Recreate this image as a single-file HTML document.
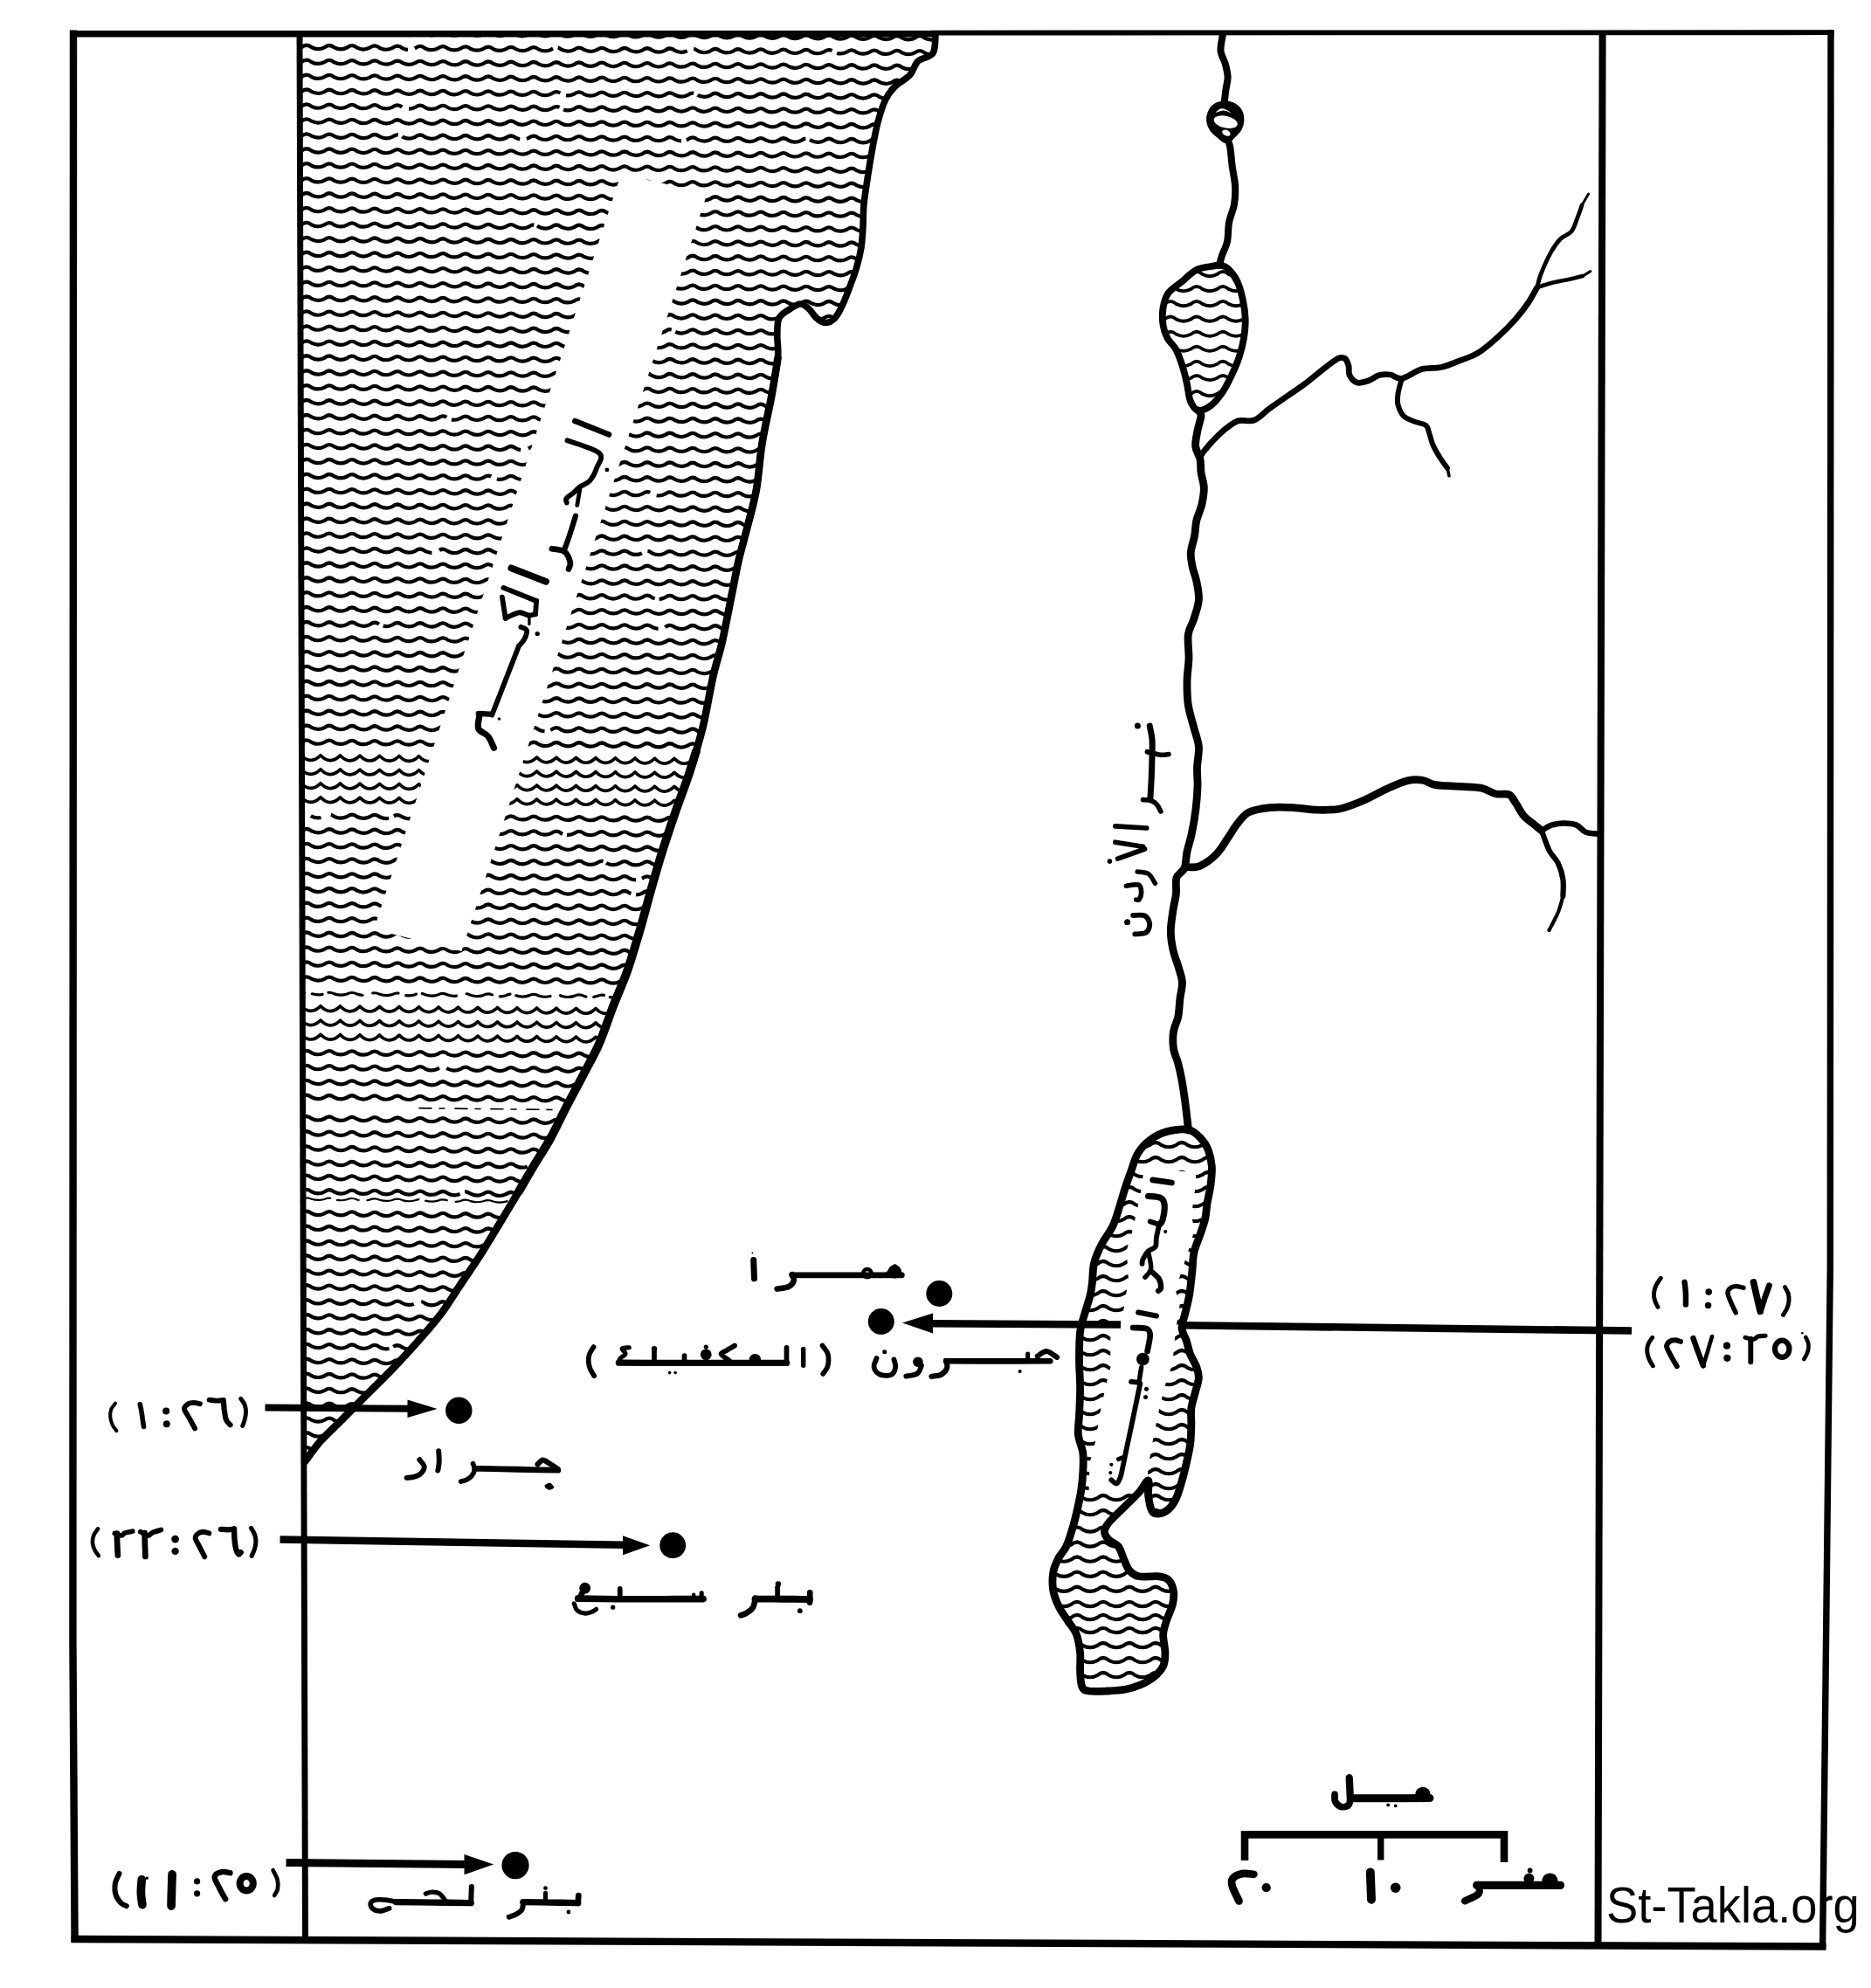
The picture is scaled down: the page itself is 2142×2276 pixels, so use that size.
<!DOCTYPE html><html><head><meta charset="utf-8"><title>map</title>
<style>html,body{margin:0;padding:0;background:#fff}body{width:2142px;height:2276px;overflow:hidden;position:relative;font-family:"Liberation Sans",sans-serif}svg{position:absolute;left:0;top:0;display:block}.wm{position:absolute;left:1838.5px;top:2153.2px;font-size:57px;line-height:1;color:#000;white-space:nowrap;letter-spacing:0px;transform:scaleX(0.953);transform-origin:0 0}</style>
</head><body>
<svg width="2142" height="2276" viewBox="0 0 2142 2276" fill="none" stroke="#000" stroke-linecap="round" stroke-linejoin="round">
<defs>
<clipPath id="csea"><path d="M1071 40C1070.5 43.5 1071.3 56 1068 61C1064.7 66 1055.4 65.8 1051 70C1046.6 74.2 1046 81.2 1041.6 86C1037.2 90.8 1029.1 94.3 1024.5 99C1019.9 103.7 1017 107.2 1013.8 114C1010.5 120.8 1007.5 130.7 1005 140C1002.5 149.3 1000.7 159.7 998.8 170C996.9 180.3 995.1 191.3 993.5 202C991.9 212.7 989.9 224.5 989 234C988.1 243.5 988.5 250.8 988 259C987.5 267.2 987.2 275.1 986 283C984.8 290.9 982.8 299 980.6 306.5C978.4 314 975.7 320.9 973 328C970.3 335.1 967.4 343 964.6 349C961.8 355 959.2 360.6 956 364C952.8 367.4 948.9 369.5 945.4 369.5C941.9 369.5 937.9 366.7 934.7 364C931.5 361.3 929 356.2 926 353.5C923 350.8 920 348 916.5 348C913 348 908.9 350.8 904.8 353.5C900.7 356.2 894.5 359 892 364C889.5 369 890 375.7 889.8 383.4C889.5 391.1 891.6 398.3 890.5 410C889.4 421.7 886.3 437.2 883.3 453.4C880.3 469.6 875.5 489.2 872.6 507C869.7 524.8 868.7 544.5 866 560C863.3 575.5 859.9 586.6 856.5 600C853.1 613.4 849 627.1 845.9 640.5C842.8 653.9 840.9 665 837.8 680.6C834.6 696.2 830.5 718.4 827 734C823.5 749.6 820 758.4 816.5 774C813 789.6 809 813.3 805.8 827.6C802.5 841.9 800 849.6 797 860C794 870.4 791.3 878.8 787.5 890C783.7 901.2 778.9 913.2 774 927.5C769.1 941.8 762.9 960 758 975.6C753.1 991.2 749.1 1005.4 744.7 1021C740.3 1036.6 735.9 1053.8 731.4 1069C726.9 1084.2 722.9 1098.2 718 1112C713.1 1125.8 707.3 1138.2 702 1152C696.7 1165.8 691.8 1181.4 686 1194.7C680.2 1208 673.2 1220 667 1232C660.8 1244 654.7 1255 648.5 1267C642.3 1279 635.8 1293.2 629.8 1304C623.8 1314.8 618.7 1322 612.7 1332C606.7 1342 601.1 1352 594 1364C586.9 1376 577.6 1391.5 570 1404C562.4 1416.5 555.7 1427.8 548.5 1439C541.3 1450.2 534.1 1460.3 527 1471C519.9 1481.7 513.8 1492.3 505.8 1503C497.8 1513.7 488.4 1524.3 479 1535C469.6 1545.7 459.4 1556.7 449.6 1567C439.8 1577.3 429.8 1586.8 420 1596.6C410.2 1606.4 399.8 1617.1 390.9 1626C382 1634.9 373.7 1642.2 366.8 1650C359.9 1657.8 352.3 1669 349.4 1672.8L346 1680L340 36Z"/></clipPath>
<clipPath id="cgal"><path d="M1389 304.6C1384.4 305.5 1375.8 305.9 1369.7 308.9C1363.6 311.9 1358 318.4 1352.6 322.8C1347.2 327.2 1341 330.6 1337.5 335.6C1334 340.6 1332.5 346.6 1331.5 352.7C1330.5 358.8 1330.7 366.3 1331.5 372C1332.3 377.7 1334 382.4 1336.4 387C1338.8 391.6 1343.1 394.4 1346 399.7C1348.9 405 1351.5 412.3 1353.7 419C1355.9 425.7 1357.5 433.2 1359 440C1360.5 446.8 1360.8 454.6 1363 459.6C1365.2 464.6 1367.9 469.3 1371.9 470C1375.9 470.7 1382.2 467.4 1386.8 463.9C1391.4 460.4 1395.8 454.6 1399.7 448.9C1403.6 443.2 1406.8 436.5 1410 429.7C1413.2 422.9 1416.6 415.1 1418.9 408C1421.2 400.9 1422.9 394.1 1424 387C1425.1 379.9 1425.9 372.7 1425.7 365.5C1425.5 358.3 1424.5 351.1 1423 344C1421.5 336.9 1419.6 328.8 1416.8 322.8C1414 316.8 1409.2 311 1406 307.8C1402.8 304.6 1400.3 304 1397.5 303.5C1394.7 303 1393.6 303.7 1389 304.6Z"/></clipPath>
<clipPath id="cdead"><path d="M1360.6 1293.5C1354.2 1292.3 1343.3 1293.7 1336 1295.6C1328.7 1297.5 1322.3 1300.9 1316.8 1305C1311.3 1309.1 1306.5 1314.3 1302.9 1320C1299.3 1325.7 1297.9 1332.6 1295.4 1339.4C1292.9 1346.2 1290.2 1353.7 1287.9 1360.8C1285.6 1367.9 1283.8 1374.9 1281.5 1382C1279.2 1389.1 1277.4 1396.4 1274 1403.6C1270.6 1410.8 1264.6 1417.9 1261 1425C1257.4 1432.1 1254.3 1438.9 1252.6 1446C1250.8 1453.1 1251.2 1461.7 1250.5 1467.7C1249.8 1473.7 1249.7 1476 1248.3 1482C1246.9 1488 1244 1496.3 1242 1503.4C1240 1510.5 1237.7 1515.9 1236.6 1524.8C1235.5 1533.7 1235.5 1546.3 1235.5 1557C1235.5 1567.7 1236.6 1578.3 1236.6 1589C1236.6 1599.7 1235.9 1612.1 1235.5 1621C1235.1 1629.9 1233.7 1635.3 1234.4 1642.4C1235.1 1649.5 1238.9 1656.7 1239.8 1663.8C1240.7 1670.9 1240.1 1677.9 1239.8 1685C1239.5 1692.1 1238.8 1699.3 1237.7 1706.5C1236.6 1713.7 1235 1720.9 1233.4 1728C1231.8 1735.1 1230.1 1742.2 1228 1749.3C1225.9 1756.4 1223.3 1765 1220.6 1770.7C1217.9 1776.4 1214.4 1778.8 1212 1783.5C1209.6 1788.2 1207.1 1792.9 1206 1799C1204.9 1805.1 1204.6 1813.3 1205.6 1820C1206.6 1826.7 1209.2 1833 1212 1839C1214.8 1845 1219.3 1850.7 1222.7 1856C1226.1 1861.3 1230 1864.9 1232.3 1871C1234.6 1877.1 1235.9 1885.3 1236.6 1892.4C1237.3 1899.5 1236.2 1907.4 1236.6 1913.8C1236.9 1920.2 1237.1 1927.2 1238.7 1930.9C1240.3 1934.6 1241.4 1935.2 1246.2 1936C1251 1936.8 1260.5 1936.3 1267.6 1936C1274.7 1935.7 1282.6 1935.2 1289 1934C1295.4 1932.8 1300.7 1931.1 1306 1928.8C1311.3 1926.5 1316.7 1923.6 1321 1920C1325.3 1916.4 1329.5 1912 1331.7 1907.4C1333.9 1902.8 1333.9 1898.5 1333.9 1892.4C1333.9 1886.3 1331.4 1877.4 1331.7 1871C1332 1864.6 1334.2 1859.7 1336 1854C1337.8 1848.3 1341.2 1842.1 1342.4 1836.8C1343.7 1831.5 1344.2 1826.5 1343.5 1821.9C1342.8 1817.3 1340.7 1811.8 1338 1809C1335.3 1806.2 1333.1 1805.5 1327.4 1804.8C1321.7 1804.1 1309.6 1805.9 1303.9 1804.8C1298.2 1803.7 1295.8 1801.2 1293 1798C1290.2 1794.8 1288.9 1790.1 1286.8 1785.5C1284.7 1780.9 1283.2 1774.2 1280.4 1770.5C1277.6 1766.8 1272.4 1765.8 1269.7 1763C1267 1760.2 1264.4 1756.8 1264.4 1753.4C1264.4 1750 1266 1747.4 1269.7 1742.8C1273.4 1738.2 1281.1 1731.4 1286.8 1725.7C1292.5 1720 1299.3 1713.7 1303.9 1708.6C1308.5 1703.5 1312.7 1694.4 1314.5 1695C1316.3 1695.6 1313.9 1706.2 1314.6 1712C1315.3 1717.8 1316.8 1726.5 1318.9 1730C1321 1733.5 1324.2 1733.4 1327.4 1733C1330.6 1732.6 1334.8 1730.8 1338 1727.8C1341.2 1724.8 1344.2 1720.3 1346.7 1715C1349.2 1709.7 1351 1702.7 1353 1695.9C1355 1689.2 1356.8 1681.7 1358.4 1674.5C1360 1667.3 1361.8 1660.1 1362.7 1653C1363.6 1645.9 1363.6 1638.5 1363.8 1631.7C1364 1625 1363.1 1618.5 1363.8 1612.5C1364.5 1606.5 1366.6 1601.2 1368 1595.4C1369.4 1589.7 1372 1583 1372.3 1578C1372.6 1573 1371.6 1570 1370 1565.4C1368.4 1560.8 1364.6 1555.5 1362.7 1550.5C1360.8 1545.5 1360 1540.5 1358.4 1535.5C1356.8 1530.5 1353.3 1525.5 1353 1520.5C1352.7 1515.5 1354.8 1512 1356.3 1505.6C1357.8 1499.2 1360.3 1490.4 1361.7 1482C1363.1 1473.6 1364 1463.1 1364.9 1455C1365.8 1446.9 1365.4 1440.7 1367 1433.5C1368.6 1426.3 1372.4 1418.4 1374.5 1412C1376.6 1405.6 1378.5 1400.7 1379.8 1395C1381 1389.3 1381 1384.4 1382 1378C1383 1371.6 1385.1 1363.7 1386 1356.5C1386.9 1349.3 1387.8 1341.8 1387.3 1335C1386.8 1328.2 1385.1 1321.3 1383 1316C1380.9 1310.7 1378.2 1306.8 1374.5 1303C1370.8 1299.2 1367 1294.7 1360.6 1293.5Z"/></clipPath>
</defs>
<g clip-path="url(#csea)" stroke-width="4.2">
<path d="M319.3 37.4q5.7 -4.7 11.4 0q7.3 3.7 14.6 0q5.7 -4.7 11.4 0q7.3 3.7 14.6 0q5.7 -4.7 11.4 0q7.3 3.7 14.6 0q5.7 -4.7 11.4 0q7.3 3.7 14.6 0q5.7 -4.7 11.4 0q7.3 3.7 14.6 0q5.7 -4.7 11.4 0q7.3 3.7 14.6 0q5.7 -4.7 11.4 0q7.3 3.7 14.6 0q5.7 -4.7 11.4 0q7.3 3.7 14.6 0q5.7 -4.7 11.4 0q7.3 3.7 14.6 0q5.7 -4.7 11.4 0q7.3 3.7 14.6 0q5.7 -4.7 11.4 0q7.3 3.7 14.6 0q5.7 -4.7 11.4 0q7.3 3.7 14.6 0q5.7 -4.7 11.4 0q7.3 3.7 14.6 0q5.7 -4.7 11.4 0q7.3 3.7 14.6 0q5.7 -4.7 11.4 0q7.3 3.7 14.6 0q5.7 -4.7 11.4 0q7.3 3.7 14.6 0q5.7 -4.7 11.4 0q7.3 3.7 14.6 0q5.7 -4.7 11.4 0q7.3 3.7 14.6 0q5.7 -4.7 11.4 0q7.3 3.7 14.6 0q5.7 -4.7 11.4 0q7.3 3.7 14.6 0q5.7 -4.7 11.4 0q7.3 3.7 14.6 0q5.7 -4.7 11.4 0q7.3 3.7 14.6 0q5.7 -4.7 11.4 0q7.3 3.7 14.6 0q5.7 -4.7 11.4 0q7.3 3.7 14.6 0q5.7 -4.7 11.4 0q7.3 3.7 14.6 0q5.7 -4.7 11.4 0q7.3 3.7 14.6 0q5.7 -4.7 11.4 0q7.3 3.7 14.6 0q5.7 -4.7 11.4 0q7.3 3.7 14.6 0q5.7 -4.7 11.4 0q7.3 3.7 14.6 0q5.7 -4.7 11.4 0q7.3 3.7 14.6 0q5.7 -4.7 11.4 0q7.3 3.7 14.6 0" transform="rotate(0.52 375 37.4)"/>
<path d="M319.3 54.3q5.7 -4.7 11.4 0q7.3 3.7 14.6 0q5.7 -4.7 11.4 0q7.3 3.7 14.6 0q5.7 -4.7 11.4 0q7.3 3.7 14.6 0q5.7 -4.7 11.4 0q7.3 3.7 14.6 0q5.7 -4.7 11.4 0q7.3 3.7 14.6 0q5.7 -4.7 11.4 0q7.3 3.7 14.6 0q5.7 -4.7 11.4 0q7.3 3.7 14.6 0q5.7 -4.7 11.4 0q7.3 3.7 14.6 0q5.7 -4.7 11.4 0q7.3 3.7 14.6 0q5.7 -4.7 11.4 0q7.3 3.7 14.6 0q5.7 -4.7 11.4 0q7.3 3.7 14.6 0q5.7 -4.7 11.4 0q7.3 3.7 14.6 0q5.7 -4.7 11.4 0q7.3 3.7 14.6 0q5.7 -4.7 11.4 0q7.3 3.7 14.6 0q5.7 -4.7 11.4 0q7.3 3.7 14.6 0q5.7 -4.7 11.4 0q7.3 3.7 14.6 0q5.7 -4.7 11.4 0q7.3 3.7 14.6 0q5.7 -4.7 11.4 0q7.3 3.7 14.6 0q5.7 -4.7 11.4 0q7.3 3.7 14.6 0q5.7 -4.7 11.4 0q7.3 3.7 14.6 0q5.7 -4.7 11.4 0q7.3 3.7 14.6 0q5.7 -4.7 11.4 0q7.3 3.7 14.6 0q5.7 -4.7 11.4 0q7.3 3.7 14.6 0q5.7 -4.7 11.4 0q7.3 3.7 14.6 0q5.7 -4.7 11.4 0q7.3 3.7 14.6 0q5.7 -4.7 11.4 0q7.3 3.7 14.6 0q5.7 -4.7 11.4 0q7.3 3.7 14.6 0q5.7 -4.7 11.4 0q7.3 3.7 14.6 0q5.7 -4.7 11.4 0q7.3 3.7 14.6 0q5.7 -4.7 11.4 0q7.3 3.7 14.6 0q5.7 -4.7 11.4 0q7.3 3.7 14.6 0" transform="rotate(0.52 375 54.3)" stroke-dasharray="157 8 168 6" stroke-linecap="butt"/>
<path d="M319.3 71.2q5.7 -4.7 11.4 0q7.3 3.7 14.6 0q5.7 -4.7 11.4 0q7.3 3.7 14.6 0q5.7 -4.7 11.4 0q7.3 3.7 14.6 0q5.7 -4.7 11.4 0q7.3 3.7 14.6 0q5.7 -4.7 11.4 0q7.3 3.7 14.6 0q5.7 -4.7 11.4 0q7.3 3.7 14.6 0q5.7 -4.7 11.4 0q7.3 3.7 14.6 0q5.7 -4.7 11.4 0q7.3 3.7 14.6 0q5.7 -4.7 11.4 0q7.3 3.7 14.6 0q5.7 -4.7 11.4 0q7.3 3.7 14.6 0q5.7 -4.7 11.4 0q7.3 3.7 14.6 0q5.7 -4.7 11.4 0q7.3 3.7 14.6 0q5.7 -4.7 11.4 0q7.3 3.7 14.6 0q5.7 -4.7 11.4 0q7.3 3.7 14.6 0q5.7 -4.7 11.4 0q7.3 3.7 14.6 0q5.7 -4.7 11.4 0q7.3 3.7 14.6 0q5.7 -4.7 11.4 0q7.3 3.7 14.6 0q5.7 -4.7 11.4 0q7.3 3.7 14.6 0q5.7 -4.7 11.4 0q7.3 3.7 14.6 0q5.7 -4.7 11.4 0q7.3 3.7 14.6 0q5.7 -4.7 11.4 0q7.3 3.7 14.6 0q5.7 -4.7 11.4 0q7.3 3.7 14.6 0q5.7 -4.7 11.4 0q7.3 3.7 14.6 0q5.7 -4.7 11.4 0q7.3 3.7 14.6 0q5.7 -4.7 11.4 0q7.3 3.7 14.6 0q5.7 -4.7 11.4 0q7.3 3.7 14.6 0q5.7 -4.7 11.4 0q7.3 3.7 14.6 0q5.7 -4.7 11.4 0q7.3 3.7 14.6 0q5.7 -4.7 11.4 0q7.3 3.7 14.6 0q5.7 -4.7 11.4 0q7.3 3.7 14.6 0" transform="rotate(0.52 375 71.2)"/>
<path d="M319.3 88.2q5.7 -4.7 11.4 0q7.3 3.7 14.6 0q5.7 -4.7 11.4 0q7.3 3.7 14.6 0q5.7 -4.7 11.4 0q7.3 3.7 14.6 0q5.7 -4.7 11.4 0q7.3 3.7 14.6 0q5.7 -4.7 11.4 0q7.3 3.7 14.6 0q5.7 -4.7 11.4 0q7.3 3.7 14.6 0q5.7 -4.7 11.4 0q7.3 3.7 14.6 0q5.7 -4.7 11.4 0q7.3 3.7 14.6 0q5.7 -4.7 11.4 0q7.3 3.7 14.6 0q5.7 -4.7 11.4 0q7.3 3.7 14.6 0q5.7 -4.7 11.4 0q7.3 3.7 14.6 0q5.7 -4.7 11.4 0q7.3 3.7 14.6 0q5.7 -4.7 11.4 0q7.3 3.7 14.6 0q5.7 -4.7 11.4 0q7.3 3.7 14.6 0q5.7 -4.7 11.4 0q7.3 3.7 14.6 0q5.7 -4.7 11.4 0q7.3 3.7 14.6 0q5.7 -4.7 11.4 0q7.3 3.7 14.6 0q5.7 -4.7 11.4 0q7.3 3.7 14.6 0q5.7 -4.7 11.4 0q7.3 3.7 14.6 0q5.7 -4.7 11.4 0q7.3 3.7 14.6 0q5.7 -4.7 11.4 0q7.3 3.7 14.6 0q5.7 -4.7 11.4 0q7.3 3.7 14.6 0q5.7 -4.7 11.4 0q7.3 3.7 14.6 0q5.7 -4.7 11.4 0q7.3 3.7 14.6 0q5.7 -4.7 11.4 0q7.3 3.7 14.6 0q5.7 -4.7 11.4 0q7.3 3.7 14.6 0q5.7 -4.7 11.4 0q7.3 3.7 14.6 0q5.7 -4.7 11.4 0q7.3 3.7 14.6 0q5.7 -4.7 11.4 0q7.3 3.7 14.6 0" transform="rotate(0.52 375 88.2)"/>
<path d="M319.3 105.1q5.7 -4.7 11.4 0q7.3 3.7 14.6 0q5.7 -4.7 11.4 0q7.3 3.7 14.6 0q5.7 -4.7 11.4 0q7.3 3.7 14.6 0q5.7 -4.7 11.4 0q7.3 3.7 14.6 0q5.7 -4.7 11.4 0q7.3 3.7 14.6 0q5.7 -4.7 11.4 0q7.3 3.7 14.6 0q5.7 -4.7 11.4 0q7.3 3.7 14.6 0q5.7 -4.7 11.4 0q7.3 3.7 14.6 0q5.7 -4.7 11.4 0q7.3 3.7 14.6 0q5.7 -4.7 11.4 0q7.3 3.7 14.6 0q5.7 -4.7 11.4 0q7.3 3.7 14.6 0q5.7 -4.7 11.4 0q7.3 3.7 14.6 0q5.7 -4.7 11.4 0q7.3 3.7 14.6 0q5.7 -4.7 11.4 0q7.3 3.7 14.6 0q5.7 -4.7 11.4 0q7.3 3.7 14.6 0q5.7 -4.7 11.4 0q7.3 3.7 14.6 0q5.7 -4.7 11.4 0q7.3 3.7 14.6 0q5.7 -4.7 11.4 0q7.3 3.7 14.6 0q5.7 -4.7 11.4 0q7.3 3.7 14.6 0q5.7 -4.7 11.4 0q7.3 3.7 14.6 0q5.7 -4.7 11.4 0q7.3 3.7 14.6 0q5.7 -4.7 11.4 0q7.3 3.7 14.6 0q5.7 -4.7 11.4 0q7.3 3.7 14.6 0q5.7 -4.7 11.4 0q7.3 3.7 14.6 0q5.7 -4.7 11.4 0q7.3 3.7 14.6 0q5.7 -4.7 11.4 0q7.3 3.7 14.6 0q5.7 -4.7 11.4 0q7.3 3.7 14.6 0q5.7 -4.7 11.4 0q7.3 3.7 14.6 0q5.7 -4.7 11.4 0q7.3 3.7 14.6 0" transform="rotate(0.52 375 105.1)" stroke-dasharray="342 7 155 5" stroke-linecap="butt"/>
<path d="M319.3 122q5.7 -4.7 11.4 0q7.3 3.7 14.6 0q5.7 -4.7 11.4 0q7.3 3.7 14.6 0q5.7 -4.7 11.4 0q7.3 3.7 14.6 0q5.7 -4.7 11.4 0q7.3 3.7 14.6 0q5.7 -4.7 11.4 0q7.3 3.7 14.6 0q5.7 -4.7 11.4 0q7.3 3.7 14.6 0q5.7 -4.7 11.4 0q7.3 3.7 14.6 0q5.7 -4.7 11.4 0q7.3 3.7 14.6 0q5.7 -4.7 11.4 0q7.3 3.7 14.6 0q5.7 -4.7 11.4 0q7.3 3.7 14.6 0q5.7 -4.7 11.4 0q7.3 3.7 14.6 0q5.7 -4.7 11.4 0q7.3 3.7 14.6 0q5.7 -4.7 11.4 0q7.3 3.7 14.6 0q5.7 -4.7 11.4 0q7.3 3.7 14.6 0q5.7 -4.7 11.4 0q7.3 3.7 14.6 0q5.7 -4.7 11.4 0q7.3 3.7 14.6 0q5.7 -4.7 11.4 0q7.3 3.7 14.6 0q5.7 -4.7 11.4 0q7.3 3.7 14.6 0q5.7 -4.7 11.4 0q7.3 3.7 14.6 0q5.7 -4.7 11.4 0q7.3 3.7 14.6 0q5.7 -4.7 11.4 0q7.3 3.7 14.6 0q5.7 -4.7 11.4 0q7.3 3.7 14.6 0q5.7 -4.7 11.4 0q7.3 3.7 14.6 0q5.7 -4.7 11.4 0q7.3 3.7 14.6 0q5.7 -4.7 11.4 0q7.3 3.7 14.6 0q5.7 -4.7 11.4 0q7.3 3.7 14.6 0q5.7 -4.7 11.4 0q7.3 3.7 14.6 0q5.7 -4.7 11.4 0q7.3 3.7 14.6 0" transform="rotate(0.52 375 122)" stroke-dasharray="150 8 183 5 442 9" stroke-linecap="butt"/>
<path d="M319.3 138.9q5.7 -4.7 11.4 0q7.3 3.7 14.6 0q5.7 -4.7 11.4 0q7.3 3.7 14.6 0q5.7 -4.7 11.4 0q7.3 3.7 14.6 0q5.7 -4.7 11.4 0q7.3 3.7 14.6 0q5.7 -4.7 11.4 0q7.3 3.7 14.6 0q5.7 -4.7 11.4 0q7.3 3.7 14.6 0q5.7 -4.7 11.4 0q7.3 3.7 14.6 0q5.7 -4.7 11.4 0q7.3 3.7 14.6 0q5.7 -4.7 11.4 0q7.3 3.7 14.6 0q5.7 -4.7 11.4 0q7.3 3.7 14.6 0q5.7 -4.7 11.4 0q7.3 3.7 14.6 0q5.7 -4.7 11.4 0q7.3 3.7 14.6 0q5.7 -4.7 11.4 0q7.3 3.7 14.6 0q5.7 -4.7 11.4 0q7.3 3.7 14.6 0q5.7 -4.7 11.4 0q7.3 3.7 14.6 0q5.7 -4.7 11.4 0q7.3 3.7 14.6 0q5.7 -4.7 11.4 0q7.3 3.7 14.6 0q5.7 -4.7 11.4 0q7.3 3.7 14.6 0q5.7 -4.7 11.4 0q7.3 3.7 14.6 0q5.7 -4.7 11.4 0q7.3 3.7 14.6 0q5.7 -4.7 11.4 0q7.3 3.7 14.6 0q5.7 -4.7 11.4 0q7.3 3.7 14.6 0q5.7 -4.7 11.4 0q7.3 3.7 14.6 0q5.7 -4.7 11.4 0q7.3 3.7 14.6 0q5.7 -4.7 11.4 0q7.3 3.7 14.6 0q5.7 -4.7 11.4 0q7.3 3.7 14.6 0q5.7 -4.7 11.4 0q7.3 3.7 14.6 0q5.7 -4.7 11.4 0q7.3 3.7 14.6 0" transform="rotate(0.52 375 138.9)"/>
<path d="M319.3 155.9q5.7 -4.7 11.4 0q7.3 3.7 14.6 0q5.7 -4.7 11.4 0q7.3 3.7 14.6 0q5.7 -4.7 11.4 0q7.3 3.7 14.6 0q5.7 -4.7 11.4 0q7.3 3.7 14.6 0q5.7 -4.7 11.4 0q7.3 3.7 14.6 0q5.7 -4.7 11.4 0q7.3 3.7 14.6 0q5.7 -4.7 11.4 0q7.3 3.7 14.6 0q5.7 -4.7 11.4 0q7.3 3.7 14.6 0q5.7 -4.7 11.4 0q7.3 3.7 14.6 0q5.7 -4.7 11.4 0q7.3 3.7 14.6 0q5.7 -4.7 11.4 0q7.3 3.7 14.6 0q5.7 -4.7 11.4 0q7.3 3.7 14.6 0q5.7 -4.7 11.4 0q7.3 3.7 14.6 0q5.7 -4.7 11.4 0q7.3 3.7 14.6 0q5.7 -4.7 11.4 0q7.3 3.7 14.6 0q5.7 -4.7 11.4 0q7.3 3.7 14.6 0q5.7 -4.7 11.4 0q7.3 3.7 14.6 0q5.7 -4.7 11.4 0q7.3 3.7 14.6 0q5.7 -4.7 11.4 0q7.3 3.7 14.6 0q5.7 -4.7 11.4 0q7.3 3.7 14.6 0q5.7 -4.7 11.4 0q7.3 3.7 14.6 0q5.7 -4.7 11.4 0q7.3 3.7 14.6 0q5.7 -4.7 11.4 0q7.3 3.7 14.6 0q5.7 -4.7 11.4 0q7.3 3.7 14.6 0q5.7 -4.7 11.4 0q7.3 3.7 14.6 0q5.7 -4.7 11.4 0q7.3 3.7 14.6 0q5.7 -4.7 11.4 0q7.3 3.7 14.6 0q5.7 -4.7 11.4 0q7.3 3.7 14.6 0" transform="rotate(0.52 375 155.9)" stroke-dasharray="145 5 143 8 188 6" stroke-linecap="butt"/>
<path d="M319.3 172.8q5.7 -4.7 11.4 0q7.3 3.7 14.6 0q5.7 -4.7 11.4 0q7.3 3.7 14.6 0q5.7 -4.7 11.4 0q7.3 3.7 14.6 0q5.7 -4.7 11.4 0q7.3 3.7 14.6 0q5.7 -4.7 11.4 0q7.3 3.7 14.6 0q5.7 -4.7 11.4 0q7.3 3.7 14.6 0q5.7 -4.7 11.4 0q7.3 3.7 14.6 0q5.7 -4.7 11.4 0q7.3 3.7 14.6 0q5.7 -4.7 11.4 0q7.3 3.7 14.6 0q5.7 -4.7 11.4 0q7.3 3.7 14.6 0q5.7 -4.7 11.4 0q7.3 3.7 14.6 0q5.7 -4.7 11.4 0q7.3 3.7 14.6 0q5.7 -4.7 11.4 0q7.3 3.7 14.6 0q5.7 -4.7 11.4 0q7.3 3.7 14.6 0q5.7 -4.7 11.4 0q7.3 3.7 14.6 0q5.7 -4.7 11.4 0q7.3 3.7 14.6 0q5.7 -4.7 11.4 0q7.3 3.7 14.6 0q5.7 -4.7 11.4 0q7.3 3.7 14.6 0q5.7 -4.7 11.4 0q7.3 3.7 14.6 0q5.7 -4.7 11.4 0q7.3 3.7 14.6 0q5.7 -4.7 11.4 0q7.3 3.7 14.6 0q5.7 -4.7 11.4 0q7.3 3.7 14.6 0q5.7 -4.7 11.4 0q7.3 3.7 14.6 0q5.7 -4.7 11.4 0q7.3 3.7 14.6 0q5.7 -4.7 11.4 0q7.3 3.7 14.6 0q5.7 -4.7 11.4 0q7.3 3.7 14.6 0q5.7 -4.7 11.4 0q7.3 3.7 14.6 0q5.7 -4.7 11.4 0q7.3 3.7 14.6 0" transform="rotate(0.52 375 172.8)"/>
<path d="M319.3 189.7q5.7 -4.7 11.4 0q7.3 3.7 14.6 0q5.7 -4.7 11.4 0q7.3 3.7 14.6 0q5.7 -4.7 11.4 0q7.3 3.7 14.6 0q5.7 -4.7 11.4 0q7.3 3.7 14.6 0q5.7 -4.7 11.4 0q7.3 3.7 14.6 0q5.7 -4.7 11.4 0q7.3 3.7 14.6 0q5.7 -4.7 11.4 0q7.3 3.7 14.6 0q5.7 -4.7 11.4 0q7.3 3.7 14.6 0q5.7 -4.7 11.4 0q7.3 3.7 14.6 0q5.7 -4.7 11.4 0q7.3 3.7 14.6 0q5.7 -4.7 11.4 0q7.3 3.7 14.6 0q5.7 -4.7 11.4 0q7.3 3.7 14.6 0q5.7 -4.7 11.4 0q7.3 3.7 14.6 0q5.7 -4.7 11.4 0q7.3 3.7 14.6 0q5.7 -4.7 11.4 0q7.3 3.7 14.6 0q5.7 -4.7 11.4 0q7.3 3.7 14.6 0q5.7 -4.7 11.4 0q7.3 3.7 14.6 0q5.7 -4.7 11.4 0q7.3 3.7 14.6 0q5.7 -4.7 11.4 0q7.3 3.7 14.6 0q5.7 -4.7 11.4 0q7.3 3.7 14.6 0q5.7 -4.7 11.4 0q7.3 3.7 14.6 0q5.7 -4.7 11.4 0q7.3 3.7 14.6 0q5.7 -4.7 11.4 0q7.3 3.7 14.6 0q5.7 -4.7 11.4 0q7.3 3.7 14.6 0q5.7 -4.7 11.4 0q7.3 3.7 14.6 0q5.7 -4.7 11.4 0q7.3 3.7 14.6 0q5.7 -4.7 11.4 0q7.3 3.7 14.6 0q5.7 -4.7 11.4 0q7.3 3.7 14.6 0" transform="rotate(0.52 375 189.7)"/>
<path d="M319.3 206.7q5.7 -4.7 11.4 0q7.3 3.7 14.6 0q5.7 -4.7 11.4 0q7.3 3.7 14.6 0q5.7 -4.7 11.4 0q7.3 3.7 14.6 0q5.7 -4.7 11.4 0q7.3 3.7 14.6 0q5.7 -4.7 11.4 0q7.3 3.7 14.6 0q5.7 -4.7 11.4 0q7.3 3.7 14.6 0q5.7 -4.7 11.4 0q7.3 3.7 14.6 0q5.7 -4.7 11.4 0q7.3 3.7 14.6 0q5.7 -4.7 11.4 0q7.3 3.7 14.6 0q5.7 -4.7 11.4 0q7.3 3.7 14.6 0q5.7 -4.7 11.4 0q7.3 3.7 14.6 0q5.7 -4.7 11.4 0q7.3 3.7 14.6 0q5.7 -4.7 11.4 0q7.3 3.7 14.6 0q5.7 -4.7 11.4 0q7.3 3.7 14.6 0q5.7 -4.7 11.4 0q7.3 3.7 14.6 0q5.7 -4.7 11.4 0q7.3 3.7 14.6 0q5.7 -4.7 11.4 0q7.3 3.7 14.6 0q5.7 -4.7 11.4 0q7.3 3.7 14.6 0q5.7 -4.7 11.4 0q7.3 3.7 14.6 0q5.7 -4.7 11.4 0q7.3 3.7 14.6 0q5.7 -4.7 11.4 0q7.3 3.7 14.6 0q5.7 -4.7 11.4 0q7.3 3.7 14.6 0q5.7 -4.7 11.4 0q7.3 3.7 14.6 0q5.7 -4.7 11.4 0q7.3 3.7 14.6 0q5.7 -4.7 11.4 0q7.3 3.7 14.6 0q5.7 -4.7 11.4 0q7.3 3.7 14.6 0q5.7 -4.7 11.4 0q7.3 3.7 14.6 0q5.7 -4.7 11.4 0q7.3 3.7 14.6 0" transform="rotate(0.52 375 206.7)"/>
<path d="M319.3 223.6q5.7 -4.7 11.4 0q7.3 3.7 14.6 0q5.7 -4.7 11.4 0q7.3 3.7 14.6 0q5.7 -4.7 11.4 0q7.3 3.7 14.6 0q5.7 -4.7 11.4 0q7.3 3.7 14.6 0q5.7 -4.7 11.4 0q7.3 3.7 14.6 0q5.7 -4.7 11.4 0q7.3 3.7 14.6 0q5.7 -4.7 11.4 0q7.3 3.7 14.6 0q5.7 -4.7 11.4 0q7.3 3.7 14.6 0q5.7 -4.7 11.4 0q7.3 3.7 14.6 0q5.7 -4.7 11.4 0q7.3 3.7 14.6 0q5.7 -4.7 11.4 0q7.3 3.7 14.6 0q5.7 -4.7 11.4 0q7.3 3.7 14.6 0q5.7 -4.7 11.4 0q7.3 3.7 14.6 0q5.7 -4.7 11.4 0q7.3 3.7 14.6 0q5.7 -4.7 11.4 0q7.3 3.7 14.6 0q5.7 -4.7 11.4 0q7.3 3.7 14.6 0q5.7 -4.7 11.4 0q7.3 3.7 14.6 0q5.7 -4.7 11.4 0q7.3 3.7 14.6 0q5.7 -4.7 11.4 0q7.3 3.7 14.6 0q5.7 -4.7 11.4 0q7.3 3.7 14.6 0q5.7 -4.7 11.4 0q7.3 3.7 14.6 0q5.7 -4.7 11.4 0q7.3 3.7 14.6 0q5.7 -4.7 11.4 0q7.3 3.7 14.6 0q5.7 -4.7 11.4 0q7.3 3.7 14.6 0q5.7 -4.7 11.4 0q7.3 3.7 14.6 0q5.7 -4.7 11.4 0q7.3 3.7 14.6 0q5.7 -4.7 11.4 0q7.3 3.7 14.6 0q5.7 -4.7 11.4 0q7.3 3.7 14.6 0" transform="rotate(0.52 375 223.6)"/>
<path d="M319.3 240.5q5.7 -4.7 11.4 0q7.3 3.7 14.6 0q5.7 -4.7 11.4 0q7.3 3.7 14.6 0q5.7 -4.7 11.4 0q7.3 3.7 14.6 0q5.7 -4.7 11.4 0q7.3 3.7 14.6 0q5.7 -4.7 11.4 0q7.3 3.7 14.6 0q5.7 -4.7 11.4 0q7.3 3.7 14.6 0q5.7 -4.7 11.4 0q7.3 3.7 14.6 0q5.7 -4.7 11.4 0q7.3 3.7 14.6 0q5.7 -4.7 11.4 0q7.3 3.7 14.6 0q5.7 -4.7 11.4 0q7.3 3.7 14.6 0q5.7 -4.7 11.4 0q7.3 3.7 14.6 0q5.7 -4.7 11.4 0q7.3 3.7 14.6 0q5.7 -4.7 11.4 0q7.3 3.7 14.6 0q5.7 -4.7 11.4 0q7.3 3.7 14.6 0q5.7 -4.7 11.4 0q7.3 3.7 14.6 0q5.7 -4.7 11.4 0q7.3 3.7 14.6 0q5.7 -4.7 11.4 0q7.3 3.7 14.6 0q5.7 -4.7 11.4 0q7.3 3.7 14.6 0q5.7 -4.7 11.4 0q7.3 3.7 14.6 0q5.7 -4.7 11.4 0q7.3 3.7 14.6 0q5.7 -4.7 11.4 0q7.3 3.7 14.6 0q5.7 -4.7 11.4 0q7.3 3.7 14.6 0q5.7 -4.7 11.4 0q7.3 3.7 14.6 0q5.7 -4.7 11.4 0q7.3 3.7 14.6 0q5.7 -4.7 11.4 0q7.3 3.7 14.6 0q5.7 -4.7 11.4 0q7.3 3.7 14.6 0q5.7 -4.7 11.4 0q7.3 3.7 14.6 0q5.7 -4.7 11.4 0q7.3 3.7 14.6 0" transform="rotate(0.52 375 240.5)"/>
<path d="M319.3 257.5q5.7 -4.7 11.4 0q7.3 3.7 14.6 0q5.7 -4.7 11.4 0q7.3 3.7 14.6 0q5.7 -4.7 11.4 0q7.3 3.7 14.6 0q5.7 -4.7 11.4 0q7.3 3.7 14.6 0q5.7 -4.7 11.4 0q7.3 3.7 14.6 0q5.7 -4.7 11.4 0q7.3 3.7 14.6 0q5.7 -4.7 11.4 0q7.3 3.7 14.6 0q5.7 -4.7 11.4 0q7.3 3.7 14.6 0q5.7 -4.7 11.4 0q7.3 3.7 14.6 0q5.7 -4.7 11.4 0q7.3 3.7 14.6 0q5.7 -4.7 11.4 0q7.3 3.7 14.6 0q5.7 -4.7 11.4 0q7.3 3.7 14.6 0q5.7 -4.7 11.4 0q7.3 3.7 14.6 0q5.7 -4.7 11.4 0q7.3 3.7 14.6 0q5.7 -4.7 11.4 0q7.3 3.7 14.6 0q5.7 -4.7 11.4 0q7.3 3.7 14.6 0q5.7 -4.7 11.4 0q7.3 3.7 14.6 0q5.7 -4.7 11.4 0q7.3 3.7 14.6 0q5.7 -4.7 11.4 0q7.3 3.7 14.6 0q5.7 -4.7 11.4 0q7.3 3.7 14.6 0q5.7 -4.7 11.4 0q7.3 3.7 14.6 0q5.7 -4.7 11.4 0q7.3 3.7 14.6 0q5.7 -4.7 11.4 0q7.3 3.7 14.6 0q5.7 -4.7 11.4 0q7.3 3.7 14.6 0q5.7 -4.7 11.4 0q7.3 3.7 14.6 0q5.7 -4.7 11.4 0q7.3 3.7 14.6 0q5.7 -4.7 11.4 0q7.3 3.7 14.6 0q5.7 -4.7 11.4 0q7.3 3.7 14.6 0" transform="rotate(0.52 375 257.5)" stroke-dasharray="310 4 400 9" stroke-linecap="butt"/>
<path d="M319.3 274.4q5.7 -4.7 11.4 0q7.3 3.7 14.6 0q5.7 -4.7 11.4 0q7.3 3.7 14.6 0q5.7 -4.7 11.4 0q7.3 3.7 14.6 0q5.7 -4.7 11.4 0q7.3 3.7 14.6 0q5.7 -4.7 11.4 0q7.3 3.7 14.6 0q5.7 -4.7 11.4 0q7.3 3.7 14.6 0q5.7 -4.7 11.4 0q7.3 3.7 14.6 0q5.7 -4.7 11.4 0q7.3 3.7 14.6 0q5.7 -4.7 11.4 0q7.3 3.7 14.6 0q5.7 -4.7 11.4 0q7.3 3.7 14.6 0q5.7 -4.7 11.4 0q7.3 3.7 14.6 0q5.7 -4.7 11.4 0q7.3 3.7 14.6 0q5.7 -4.7 11.4 0q7.3 3.7 14.6 0q5.7 -4.7 11.4 0q7.3 3.7 14.6 0q5.7 -4.7 11.4 0q7.3 3.7 14.6 0q5.7 -4.7 11.4 0q7.3 3.7 14.6 0q5.7 -4.7 11.4 0q7.3 3.7 14.6 0q5.7 -4.7 11.4 0q7.3 3.7 14.6 0q5.7 -4.7 11.4 0q7.3 3.7 14.6 0q5.7 -4.7 11.4 0q7.3 3.7 14.6 0q5.7 -4.7 11.4 0q7.3 3.7 14.6 0q5.7 -4.7 11.4 0q7.3 3.7 14.6 0q5.7 -4.7 11.4 0q7.3 3.7 14.6 0q5.7 -4.7 11.4 0q7.3 3.7 14.6 0q5.7 -4.7 11.4 0q7.3 3.7 14.6 0q5.7 -4.7 11.4 0q7.3 3.7 14.6 0q5.7 -4.7 11.4 0q7.3 3.7 14.6 0" transform="rotate(0.52 375 274.4)" stroke-dasharray="436 5 374 9" stroke-linecap="butt"/>
<path d="M319.3 291.3q5.7 -4.7 11.4 0q7.3 3.7 14.6 0q5.7 -4.7 11.4 0q7.3 3.7 14.6 0q5.7 -4.7 11.4 0q7.3 3.7 14.6 0q5.7 -4.7 11.4 0q7.3 3.7 14.6 0q5.7 -4.7 11.4 0q7.3 3.7 14.6 0q5.7 -4.7 11.4 0q7.3 3.7 14.6 0q5.7 -4.7 11.4 0q7.3 3.7 14.6 0q5.7 -4.7 11.4 0q7.3 3.7 14.6 0q5.7 -4.7 11.4 0q7.3 3.7 14.6 0q5.7 -4.7 11.4 0q7.3 3.7 14.6 0q5.7 -4.7 11.4 0q7.3 3.7 14.6 0q5.7 -4.7 11.4 0q7.3 3.7 14.6 0q5.7 -4.7 11.4 0q7.3 3.7 14.6 0q5.7 -4.7 11.4 0q7.3 3.7 14.6 0q5.7 -4.7 11.4 0q7.3 3.7 14.6 0q5.7 -4.7 11.4 0q7.3 3.7 14.6 0q5.7 -4.7 11.4 0q7.3 3.7 14.6 0q5.7 -4.7 11.4 0q7.3 3.7 14.6 0q5.7 -4.7 11.4 0q7.3 3.7 14.6 0q5.7 -4.7 11.4 0q7.3 3.7 14.6 0q5.7 -4.7 11.4 0q7.3 3.7 14.6 0q5.7 -4.7 11.4 0q7.3 3.7 14.6 0q5.7 -4.7 11.4 0q7.3 3.7 14.6 0q5.7 -4.7 11.4 0q7.3 3.7 14.6 0q5.7 -4.7 11.4 0q7.3 3.7 14.6 0q5.7 -4.7 11.4 0q7.3 3.7 14.6 0q5.7 -4.7 11.4 0q7.3 3.7 14.6 0" transform="rotate(0.52 375 291.3)"/>
<path d="M319.3 308.2q5.7 -4.7 11.4 0q7.3 3.7 14.6 0q5.7 -4.7 11.4 0q7.3 3.7 14.6 0q5.7 -4.7 11.4 0q7.3 3.7 14.6 0q5.7 -4.7 11.4 0q7.3 3.7 14.6 0q5.7 -4.7 11.4 0q7.3 3.7 14.6 0q5.7 -4.7 11.4 0q7.3 3.7 14.6 0q5.7 -4.7 11.4 0q7.3 3.7 14.6 0q5.7 -4.7 11.4 0q7.3 3.7 14.6 0q5.7 -4.7 11.4 0q7.3 3.7 14.6 0q5.7 -4.7 11.4 0q7.3 3.7 14.6 0q5.7 -4.7 11.4 0q7.3 3.7 14.6 0q5.7 -4.7 11.4 0q7.3 3.7 14.6 0q5.7 -4.7 11.4 0q7.3 3.7 14.6 0q5.7 -4.7 11.4 0q7.3 3.7 14.6 0q5.7 -4.7 11.4 0q7.3 3.7 14.6 0q5.7 -4.7 11.4 0q7.3 3.7 14.6 0q5.7 -4.7 11.4 0q7.3 3.7 14.6 0q5.7 -4.7 11.4 0q7.3 3.7 14.6 0q5.7 -4.7 11.4 0q7.3 3.7 14.6 0q5.7 -4.7 11.4 0q7.3 3.7 14.6 0q5.7 -4.7 11.4 0q7.3 3.7 14.6 0q5.7 -4.7 11.4 0q7.3 3.7 14.6 0q5.7 -4.7 11.4 0q7.3 3.7 14.6 0q5.7 -4.7 11.4 0q7.3 3.7 14.6 0q5.7 -4.7 11.4 0q7.3 3.7 14.6 0q5.7 -4.7 11.4 0q7.3 3.7 14.6 0q5.7 -4.7 11.4 0q7.3 3.7 14.6 0" transform="rotate(0.52 375 308.2)"/>
<path d="M319.3 325.2q5.7 -4.7 11.4 0q7.3 3.7 14.6 0q5.7 -4.7 11.4 0q7.3 3.7 14.6 0q5.7 -4.7 11.4 0q7.3 3.7 14.6 0q5.7 -4.7 11.4 0q7.3 3.7 14.6 0q5.7 -4.7 11.4 0q7.3 3.7 14.6 0q5.7 -4.7 11.4 0q7.3 3.7 14.6 0q5.7 -4.7 11.4 0q7.3 3.7 14.6 0q5.7 -4.7 11.4 0q7.3 3.7 14.6 0q5.7 -4.7 11.4 0q7.3 3.7 14.6 0q5.7 -4.7 11.4 0q7.3 3.7 14.6 0q5.7 -4.7 11.4 0q7.3 3.7 14.6 0q5.7 -4.7 11.4 0q7.3 3.7 14.6 0q5.7 -4.7 11.4 0q7.3 3.7 14.6 0q5.7 -4.7 11.4 0q7.3 3.7 14.6 0q5.7 -4.7 11.4 0q7.3 3.7 14.6 0q5.7 -4.7 11.4 0q7.3 3.7 14.6 0q5.7 -4.7 11.4 0q7.3 3.7 14.6 0q5.7 -4.7 11.4 0q7.3 3.7 14.6 0q5.7 -4.7 11.4 0q7.3 3.7 14.6 0q5.7 -4.7 11.4 0q7.3 3.7 14.6 0q5.7 -4.7 11.4 0q7.3 3.7 14.6 0q5.7 -4.7 11.4 0q7.3 3.7 14.6 0q5.7 -4.7 11.4 0q7.3 3.7 14.6 0q5.7 -4.7 11.4 0q7.3 3.7 14.6 0q5.7 -4.7 11.4 0q7.3 3.7 14.6 0q5.7 -4.7 11.4 0q7.3 3.7 14.6 0q5.7 -4.7 11.4 0q7.3 3.7 14.6 0" transform="rotate(0.52 375 325.2)"/>
<path d="M319.3 342.1q5.7 -4.7 11.4 0q7.3 3.7 14.6 0q5.7 -4.7 11.4 0q7.3 3.7 14.6 0q5.7 -4.7 11.4 0q7.3 3.7 14.6 0q5.7 -4.7 11.4 0q7.3 3.7 14.6 0q5.7 -4.7 11.4 0q7.3 3.7 14.6 0q5.7 -4.7 11.4 0q7.3 3.7 14.6 0q5.7 -4.7 11.4 0q7.3 3.7 14.6 0q5.7 -4.7 11.4 0q7.3 3.7 14.6 0q5.7 -4.7 11.4 0q7.3 3.7 14.6 0q5.7 -4.7 11.4 0q7.3 3.7 14.6 0q5.7 -4.7 11.4 0q7.3 3.7 14.6 0q5.7 -4.7 11.4 0q7.3 3.7 14.6 0q5.7 -4.7 11.4 0q7.3 3.7 14.6 0q5.7 -4.7 11.4 0q7.3 3.7 14.6 0q5.7 -4.7 11.4 0q7.3 3.7 14.6 0q5.7 -4.7 11.4 0q7.3 3.7 14.6 0q5.7 -4.7 11.4 0q7.3 3.7 14.6 0q5.7 -4.7 11.4 0q7.3 3.7 14.6 0q5.7 -4.7 11.4 0q7.3 3.7 14.6 0q5.7 -4.7 11.4 0q7.3 3.7 14.6 0q5.7 -4.7 11.4 0q7.3 3.7 14.6 0q5.7 -4.7 11.4 0q7.3 3.7 14.6 0q5.7 -4.7 11.4 0q7.3 3.7 14.6 0q5.7 -4.7 11.4 0q7.3 3.7 14.6 0q5.7 -4.7 11.4 0q7.3 3.7 14.6 0q5.7 -4.7 11.4 0q7.3 3.7 14.6 0q5.7 -4.7 11.4 0q7.3 3.7 14.6 0" transform="rotate(0.52 375 342.1)"/>
<path d="M319.3 359q5.7 -4.7 11.4 0q7.3 3.7 14.6 0q5.7 -4.7 11.4 0q7.3 3.7 14.6 0q5.7 -4.7 11.4 0q7.3 3.7 14.6 0q5.7 -4.7 11.4 0q7.3 3.7 14.6 0q5.7 -4.7 11.4 0q7.3 3.7 14.6 0q5.7 -4.7 11.4 0q7.3 3.7 14.6 0q5.7 -4.7 11.4 0q7.3 3.7 14.6 0q5.7 -4.7 11.4 0q7.3 3.7 14.6 0q5.7 -4.7 11.4 0q7.3 3.7 14.6 0q5.7 -4.7 11.4 0q7.3 3.7 14.6 0q5.7 -4.7 11.4 0q7.3 3.7 14.6 0q5.7 -4.7 11.4 0q7.3 3.7 14.6 0q5.7 -4.7 11.4 0q7.3 3.7 14.6 0q5.7 -4.7 11.4 0q7.3 3.7 14.6 0q5.7 -4.7 11.4 0q7.3 3.7 14.6 0q5.7 -4.7 11.4 0q7.3 3.7 14.6 0q5.7 -4.7 11.4 0q7.3 3.7 14.6 0q5.7 -4.7 11.4 0q7.3 3.7 14.6 0q5.7 -4.7 11.4 0q7.3 3.7 14.6 0q5.7 -4.7 11.4 0q7.3 3.7 14.6 0q5.7 -4.7 11.4 0q7.3 3.7 14.6 0q5.7 -4.7 11.4 0q7.3 3.7 14.6 0q5.7 -4.7 11.4 0q7.3 3.7 14.6 0q5.7 -4.7 11.4 0q7.3 3.7 14.6 0q5.7 -4.7 11.4 0q7.3 3.7 14.6 0q5.7 -4.7 11.4 0q7.3 3.7 14.6 0" transform="rotate(0.52 375 359)"/>
<path d="M319.3 376q5.7 -4.7 11.4 0q7.3 3.7 14.6 0q5.7 -4.7 11.4 0q7.3 3.7 14.6 0q5.7 -4.7 11.4 0q7.3 3.7 14.6 0q5.7 -4.7 11.4 0q7.3 3.7 14.6 0q5.7 -4.7 11.4 0q7.3 3.7 14.6 0q5.7 -4.7 11.4 0q7.3 3.7 14.6 0q5.7 -4.7 11.4 0q7.3 3.7 14.6 0q5.7 -4.7 11.4 0q7.3 3.7 14.6 0q5.7 -4.7 11.4 0q7.3 3.7 14.6 0q5.7 -4.7 11.4 0q7.3 3.7 14.6 0q5.7 -4.7 11.4 0q7.3 3.7 14.6 0q5.7 -4.7 11.4 0q7.3 3.7 14.6 0q5.7 -4.7 11.4 0q7.3 3.7 14.6 0q5.7 -4.7 11.4 0q7.3 3.7 14.6 0q5.7 -4.7 11.4 0q7.3 3.7 14.6 0q5.7 -4.7 11.4 0q7.3 3.7 14.6 0q5.7 -4.7 11.4 0q7.3 3.7 14.6 0q5.7 -4.7 11.4 0q7.3 3.7 14.6 0q5.7 -4.7 11.4 0q7.3 3.7 14.6 0q5.7 -4.7 11.4 0q7.3 3.7 14.6 0q5.7 -4.7 11.4 0q7.3 3.7 14.6 0q5.7 -4.7 11.4 0q7.3 3.7 14.6 0q5.7 -4.7 11.4 0q7.3 3.7 14.6 0q5.7 -4.7 11.4 0q7.3 3.7 14.6 0" transform="rotate(0.52 375 376)" stroke-dasharray="477 5 161 8" stroke-linecap="butt"/>
<path d="M319.3 392.9q5.7 -4.7 11.4 0q7.3 3.7 14.6 0q5.7 -4.7 11.4 0q7.3 3.7 14.6 0q5.7 -4.7 11.4 0q7.3 3.7 14.6 0q5.7 -4.7 11.4 0q7.3 3.7 14.6 0q5.7 -4.7 11.4 0q7.3 3.7 14.6 0q5.7 -4.7 11.4 0q7.3 3.7 14.6 0q5.7 -4.7 11.4 0q7.3 3.7 14.6 0q5.7 -4.7 11.4 0q7.3 3.7 14.6 0q5.7 -4.7 11.4 0q7.3 3.7 14.6 0q5.7 -4.7 11.4 0q7.3 3.7 14.6 0q5.7 -4.7 11.4 0q7.3 3.7 14.6 0q5.7 -4.7 11.4 0q7.3 3.7 14.6 0q5.7 -4.7 11.4 0q7.3 3.7 14.6 0q5.7 -4.7 11.4 0q7.3 3.7 14.6 0q5.7 -4.7 11.4 0q7.3 3.7 14.6 0q5.7 -4.7 11.4 0q7.3 3.7 14.6 0q5.7 -4.7 11.4 0q7.3 3.7 14.6 0q5.7 -4.7 11.4 0q7.3 3.7 14.6 0q5.7 -4.7 11.4 0q7.3 3.7 14.6 0q5.7 -4.7 11.4 0q7.3 3.7 14.6 0q5.7 -4.7 11.4 0q7.3 3.7 14.6 0q5.7 -4.7 11.4 0q7.3 3.7 14.6 0q5.7 -4.7 11.4 0q7.3 3.7 14.6 0q5.7 -4.7 11.4 0q7.3 3.7 14.6 0" transform="rotate(0.52 375 392.9)"/>
<path d="M319.3 409.8q5.7 -4.7 11.4 0q7.3 3.7 14.6 0q5.7 -4.7 11.4 0q7.3 3.7 14.6 0q5.7 -4.7 11.4 0q7.3 3.7 14.6 0q5.7 -4.7 11.4 0q7.3 3.7 14.6 0q5.7 -4.7 11.4 0q7.3 3.7 14.6 0q5.7 -4.7 11.4 0q7.3 3.7 14.6 0q5.7 -4.7 11.4 0q7.3 3.7 14.6 0q5.7 -4.7 11.4 0q7.3 3.7 14.6 0q5.7 -4.7 11.4 0q7.3 3.7 14.6 0q5.7 -4.7 11.4 0q7.3 3.7 14.6 0q5.7 -4.7 11.4 0q7.3 3.7 14.6 0q5.7 -4.7 11.4 0q7.3 3.7 14.6 0q5.7 -4.7 11.4 0q7.3 3.7 14.6 0q5.7 -4.7 11.4 0q7.3 3.7 14.6 0q5.7 -4.7 11.4 0q7.3 3.7 14.6 0q5.7 -4.7 11.4 0q7.3 3.7 14.6 0q5.7 -4.7 11.4 0q7.3 3.7 14.6 0q5.7 -4.7 11.4 0q7.3 3.7 14.6 0q5.7 -4.7 11.4 0q7.3 3.7 14.6 0q5.7 -4.7 11.4 0q7.3 3.7 14.6 0q5.7 -4.7 11.4 0q7.3 3.7 14.6 0q5.7 -4.7 11.4 0q7.3 3.7 14.6 0q5.7 -4.7 11.4 0q7.3 3.7 14.6 0q5.7 -4.7 11.4 0q7.3 3.7 14.6 0" transform="rotate(0.52 375 409.8)"/>
<path d="M319.3 426.8q5.7 -4.7 11.4 0q7.3 3.7 14.6 0q5.7 -4.7 11.4 0q7.3 3.7 14.6 0q5.7 -4.7 11.4 0q7.3 3.7 14.6 0q5.7 -4.7 11.4 0q7.3 3.7 14.6 0q5.7 -4.7 11.4 0q7.3 3.7 14.6 0q5.7 -4.7 11.4 0q7.3 3.7 14.6 0q5.7 -4.7 11.4 0q7.3 3.7 14.6 0q5.7 -4.7 11.4 0q7.3 3.7 14.6 0q5.7 -4.7 11.4 0q7.3 3.7 14.6 0q5.7 -4.7 11.4 0q7.3 3.7 14.6 0q5.7 -4.7 11.4 0q7.3 3.7 14.6 0q5.7 -4.7 11.4 0q7.3 3.7 14.6 0q5.7 -4.7 11.4 0q7.3 3.7 14.6 0q5.7 -4.7 11.4 0q7.3 3.7 14.6 0q5.7 -4.7 11.4 0q7.3 3.7 14.6 0q5.7 -4.7 11.4 0q7.3 3.7 14.6 0q5.7 -4.7 11.4 0q7.3 3.7 14.6 0q5.7 -4.7 11.4 0q7.3 3.7 14.6 0q5.7 -4.7 11.4 0q7.3 3.7 14.6 0q5.7 -4.7 11.4 0q7.3 3.7 14.6 0q5.7 -4.7 11.4 0q7.3 3.7 14.6 0q5.7 -4.7 11.4 0q7.3 3.7 14.6 0q5.7 -4.7 11.4 0q7.3 3.7 14.6 0q5.7 -4.7 11.4 0q7.3 3.7 14.6 0" transform="rotate(0.52 375 426.8)"/>
<path d="M319.3 443.7q5.7 -4.7 11.4 0q7.3 3.7 14.6 0q5.7 -4.7 11.4 0q7.3 3.7 14.6 0q5.7 -4.7 11.4 0q7.3 3.7 14.6 0q5.7 -4.7 11.4 0q7.3 3.7 14.6 0q5.7 -4.7 11.4 0q7.3 3.7 14.6 0q5.7 -4.7 11.4 0q7.3 3.7 14.6 0q5.7 -4.7 11.4 0q7.3 3.7 14.6 0q5.7 -4.7 11.4 0q7.3 3.7 14.6 0q5.7 -4.7 11.4 0q7.3 3.7 14.6 0q5.7 -4.7 11.4 0q7.3 3.7 14.6 0q5.7 -4.7 11.4 0q7.3 3.7 14.6 0q5.7 -4.7 11.4 0q7.3 3.7 14.6 0q5.7 -4.7 11.4 0q7.3 3.7 14.6 0q5.7 -4.7 11.4 0q7.3 3.7 14.6 0q5.7 -4.7 11.4 0q7.3 3.7 14.6 0q5.7 -4.7 11.4 0q7.3 3.7 14.6 0q5.7 -4.7 11.4 0q7.3 3.7 14.6 0q5.7 -4.7 11.4 0q7.3 3.7 14.6 0q5.7 -4.7 11.4 0q7.3 3.7 14.6 0q5.7 -4.7 11.4 0q7.3 3.7 14.6 0q5.7 -4.7 11.4 0q7.3 3.7 14.6 0q5.7 -4.7 11.4 0q7.3 3.7 14.6 0q5.7 -4.7 11.4 0q7.3 3.7 14.6 0q5.7 -4.7 11.4 0q7.3 3.7 14.6 0" transform="rotate(0.52 375 443.7)"/>
<path d="M319.3 460.6q5.7 -4.7 11.4 0q7.3 3.7 14.6 0q5.7 -4.7 11.4 0q7.3 3.7 14.6 0q5.7 -4.7 11.4 0q7.3 3.7 14.6 0q5.7 -4.7 11.4 0q7.3 3.7 14.6 0q5.7 -4.7 11.4 0q7.3 3.7 14.6 0q5.7 -4.7 11.4 0q7.3 3.7 14.6 0q5.7 -4.7 11.4 0q7.3 3.7 14.6 0q5.7 -4.7 11.4 0q7.3 3.7 14.6 0q5.7 -4.7 11.4 0q7.3 3.7 14.6 0q5.7 -4.7 11.4 0q7.3 3.7 14.6 0q5.7 -4.7 11.4 0q7.3 3.7 14.6 0q5.7 -4.7 11.4 0q7.3 3.7 14.6 0q5.7 -4.7 11.4 0q7.3 3.7 14.6 0q5.7 -4.7 11.4 0q7.3 3.7 14.6 0q5.7 -4.7 11.4 0q7.3 3.7 14.6 0q5.7 -4.7 11.4 0q7.3 3.7 14.6 0q5.7 -4.7 11.4 0q7.3 3.7 14.6 0q5.7 -4.7 11.4 0q7.3 3.7 14.6 0q5.7 -4.7 11.4 0q7.3 3.7 14.6 0q5.7 -4.7 11.4 0q7.3 3.7 14.6 0q5.7 -4.7 11.4 0q7.3 3.7 14.6 0q5.7 -4.7 11.4 0q7.3 3.7 14.6 0q5.7 -4.7 11.4 0q7.3 3.7 14.6 0" transform="rotate(0.52 375 460.6)"/>
<path d="M319.3 477.6q5.7 -4.7 11.4 0q7.3 3.7 14.6 0q5.7 -4.7 11.4 0q7.3 3.7 14.6 0q5.7 -4.7 11.4 0q7.3 3.7 14.6 0q5.7 -4.7 11.4 0q7.3 3.7 14.6 0q5.7 -4.7 11.4 0q7.3 3.7 14.6 0q5.7 -4.7 11.4 0q7.3 3.7 14.6 0q5.7 -4.7 11.4 0q7.3 3.7 14.6 0q5.7 -4.7 11.4 0q7.3 3.7 14.6 0q5.7 -4.7 11.4 0q7.3 3.7 14.6 0q5.7 -4.7 11.4 0q7.3 3.7 14.6 0q5.7 -4.7 11.4 0q7.3 3.7 14.6 0q5.7 -4.7 11.4 0q7.3 3.7 14.6 0q5.7 -4.7 11.4 0q7.3 3.7 14.6 0q5.7 -4.7 11.4 0q7.3 3.7 14.6 0q5.7 -4.7 11.4 0q7.3 3.7 14.6 0q5.7 -4.7 11.4 0q7.3 3.7 14.6 0q5.7 -4.7 11.4 0q7.3 3.7 14.6 0q5.7 -4.7 11.4 0q7.3 3.7 14.6 0q5.7 -4.7 11.4 0q7.3 3.7 14.6 0q5.7 -4.7 11.4 0q7.3 3.7 14.6 0q5.7 -4.7 11.4 0q7.3 3.7 14.6 0q5.7 -4.7 11.4 0q7.3 3.7 14.6 0q5.7 -4.7 11.4 0q7.3 3.7 14.6 0" transform="rotate(0.52 375 477.6)" stroke-dasharray="204 6 197 7 335 4" stroke-linecap="butt"/>
<path d="M319.3 494.5q5.7 -4.7 11.4 0q7.3 3.7 14.6 0q5.7 -4.7 11.4 0q7.3 3.7 14.6 0q5.7 -4.7 11.4 0q7.3 3.7 14.6 0q5.7 -4.7 11.4 0q7.3 3.7 14.6 0q5.7 -4.7 11.4 0q7.3 3.7 14.6 0q5.7 -4.7 11.4 0q7.3 3.7 14.6 0q5.7 -4.7 11.4 0q7.3 3.7 14.6 0q5.7 -4.7 11.4 0q7.3 3.7 14.6 0q5.7 -4.7 11.4 0q7.3 3.7 14.6 0q5.7 -4.7 11.4 0q7.3 3.7 14.6 0q5.7 -4.7 11.4 0q7.3 3.7 14.6 0q5.7 -4.7 11.4 0q7.3 3.7 14.6 0q5.7 -4.7 11.4 0q7.3 3.7 14.6 0q5.7 -4.7 11.4 0q7.3 3.7 14.6 0q5.7 -4.7 11.4 0q7.3 3.7 14.6 0q5.7 -4.7 11.4 0q7.3 3.7 14.6 0q5.7 -4.7 11.4 0q7.3 3.7 14.6 0q5.7 -4.7 11.4 0q7.3 3.7 14.6 0q5.7 -4.7 11.4 0q7.3 3.7 14.6 0q5.7 -4.7 11.4 0q7.3 3.7 14.6 0q5.7 -4.7 11.4 0q7.3 3.7 14.6 0q5.7 -4.7 11.4 0q7.3 3.7 14.6 0q5.7 -4.7 11.4 0q7.3 3.7 14.6 0" transform="rotate(0.52 375 494.5)"/>
<path d="M319.3 511.4q5.7 -4.7 11.4 0q7.3 3.7 14.6 0q5.7 -4.7 11.4 0q7.3 3.7 14.6 0q5.7 -4.7 11.4 0q7.3 3.7 14.6 0q5.7 -4.7 11.4 0q7.3 3.7 14.6 0q5.7 -4.7 11.4 0q7.3 3.7 14.6 0q5.7 -4.7 11.4 0q7.3 3.7 14.6 0q5.7 -4.7 11.4 0q7.3 3.7 14.6 0q5.7 -4.7 11.4 0q7.3 3.7 14.6 0q5.7 -4.7 11.4 0q7.3 3.7 14.6 0q5.7 -4.7 11.4 0q7.3 3.7 14.6 0q5.7 -4.7 11.4 0q7.3 3.7 14.6 0q5.7 -4.7 11.4 0q7.3 3.7 14.6 0q5.7 -4.7 11.4 0q7.3 3.7 14.6 0q5.7 -4.7 11.4 0q7.3 3.7 14.6 0q5.7 -4.7 11.4 0q7.3 3.7 14.6 0q5.7 -4.7 11.4 0q7.3 3.7 14.6 0q5.7 -4.7 11.4 0q7.3 3.7 14.6 0q5.7 -4.7 11.4 0q7.3 3.7 14.6 0q5.7 -4.7 11.4 0q7.3 3.7 14.6 0q5.7 -4.7 11.4 0q7.3 3.7 14.6 0q5.7 -4.7 11.4 0q7.3 3.7 14.6 0q5.7 -4.7 11.4 0q7.3 3.7 14.6 0q5.7 -4.7 11.4 0q7.3 3.7 14.6 0" transform="rotate(0.52 375 511.4)" stroke-dasharray="294 9 299 8 374 8" stroke-linecap="butt"/>
<path d="M319.3 528.3q5.7 -4.7 11.4 0q7.3 3.7 14.6 0q5.7 -4.7 11.4 0q7.3 3.7 14.6 0q5.7 -4.7 11.4 0q7.3 3.7 14.6 0q5.7 -4.7 11.4 0q7.3 3.7 14.6 0q5.7 -4.7 11.4 0q7.3 3.7 14.6 0q5.7 -4.7 11.4 0q7.3 3.7 14.6 0q5.7 -4.7 11.4 0q7.3 3.7 14.6 0q5.7 -4.7 11.4 0q7.3 3.7 14.6 0q5.7 -4.7 11.4 0q7.3 3.7 14.6 0q5.7 -4.7 11.4 0q7.3 3.7 14.6 0q5.7 -4.7 11.4 0q7.3 3.7 14.6 0q5.7 -4.7 11.4 0q7.3 3.7 14.6 0q5.7 -4.7 11.4 0q7.3 3.7 14.6 0q5.7 -4.7 11.4 0q7.3 3.7 14.6 0q5.7 -4.7 11.4 0q7.3 3.7 14.6 0q5.7 -4.7 11.4 0q7.3 3.7 14.6 0q5.7 -4.7 11.4 0q7.3 3.7 14.6 0q5.7 -4.7 11.4 0q7.3 3.7 14.6 0q5.7 -4.7 11.4 0q7.3 3.7 14.6 0q5.7 -4.7 11.4 0q7.3 3.7 14.6 0q5.7 -4.7 11.4 0q7.3 3.7 14.6 0q5.7 -4.7 11.4 0q7.3 3.7 14.6 0q5.7 -4.7 11.4 0q7.3 3.7 14.6 0" transform="rotate(0.52 375 528.3)"/>
<path d="M319.3 545.3q5.7 -4.7 11.4 0q7.3 3.7 14.6 0q5.7 -4.7 11.4 0q7.3 3.7 14.6 0q5.7 -4.7 11.4 0q7.3 3.7 14.6 0q5.7 -4.7 11.4 0q7.3 3.7 14.6 0q5.7 -4.7 11.4 0q7.3 3.7 14.6 0q5.7 -4.7 11.4 0q7.3 3.7 14.6 0q5.7 -4.7 11.4 0q7.3 3.7 14.6 0q5.7 -4.7 11.4 0q7.3 3.7 14.6 0q5.7 -4.7 11.4 0q7.3 3.7 14.6 0q5.7 -4.7 11.4 0q7.3 3.7 14.6 0q5.7 -4.7 11.4 0q7.3 3.7 14.6 0q5.7 -4.7 11.4 0q7.3 3.7 14.6 0q5.7 -4.7 11.4 0q7.3 3.7 14.6 0q5.7 -4.7 11.4 0q7.3 3.7 14.6 0q5.7 -4.7 11.4 0q7.3 3.7 14.6 0q5.7 -4.7 11.4 0q7.3 3.7 14.6 0q5.7 -4.7 11.4 0q7.3 3.7 14.6 0q5.7 -4.7 11.4 0q7.3 3.7 14.6 0q5.7 -4.7 11.4 0q7.3 3.7 14.6 0q5.7 -4.7 11.4 0q7.3 3.7 14.6 0q5.7 -4.7 11.4 0q7.3 3.7 14.6 0q5.7 -4.7 11.4 0q7.3 3.7 14.6 0q5.7 -4.7 11.4 0q7.3 3.7 14.6 0" transform="rotate(0.52 375 545.3)" stroke-dasharray="258 7 476 9" stroke-linecap="butt"/>
<path d="M319.3 562.2q5.7 -4.7 11.4 0q7.3 3.7 14.6 0q5.7 -4.7 11.4 0q7.3 3.7 14.6 0q5.7 -4.7 11.4 0q7.3 3.7 14.6 0q5.7 -4.7 11.4 0q7.3 3.7 14.6 0q5.7 -4.7 11.4 0q7.3 3.7 14.6 0q5.7 -4.7 11.4 0q7.3 3.7 14.6 0q5.7 -4.7 11.4 0q7.3 3.7 14.6 0q5.7 -4.7 11.4 0q7.3 3.7 14.6 0q5.7 -4.7 11.4 0q7.3 3.7 14.6 0q5.7 -4.7 11.4 0q7.3 3.7 14.6 0q5.7 -4.7 11.4 0q7.3 3.7 14.6 0q5.7 -4.7 11.4 0q7.3 3.7 14.6 0q5.7 -4.7 11.4 0q7.3 3.7 14.6 0q5.7 -4.7 11.4 0q7.3 3.7 14.6 0q5.7 -4.7 11.4 0q7.3 3.7 14.6 0q5.7 -4.7 11.4 0q7.3 3.7 14.6 0q5.7 -4.7 11.4 0q7.3 3.7 14.6 0q5.7 -4.7 11.4 0q7.3 3.7 14.6 0q5.7 -4.7 11.4 0q7.3 3.7 14.6 0q5.7 -4.7 11.4 0q7.3 3.7 14.6 0q5.7 -4.7 11.4 0q7.3 3.7 14.6 0q5.7 -4.7 11.4 0q7.3 3.7 14.6 0q5.7 -4.7 11.4 0q7.3 3.7 14.6 0" transform="rotate(0.52 375 562.2)" stroke-dasharray="451 8 468 7 265 9" stroke-linecap="butt"/>
<path d="M319.3 579.1q5.7 -4.7 11.4 0q7.3 3.7 14.6 0q5.7 -4.7 11.4 0q7.3 3.7 14.6 0q5.7 -4.7 11.4 0q7.3 3.7 14.6 0q5.7 -4.7 11.4 0q7.3 3.7 14.6 0q5.7 -4.7 11.4 0q7.3 3.7 14.6 0q5.7 -4.7 11.4 0q7.3 3.7 14.6 0q5.7 -4.7 11.4 0q7.3 3.7 14.6 0q5.7 -4.7 11.4 0q7.3 3.7 14.6 0q5.7 -4.7 11.4 0q7.3 3.7 14.6 0q5.7 -4.7 11.4 0q7.3 3.7 14.6 0q5.7 -4.7 11.4 0q7.3 3.7 14.6 0q5.7 -4.7 11.4 0q7.3 3.7 14.6 0q5.7 -4.7 11.4 0q7.3 3.7 14.6 0q5.7 -4.7 11.4 0q7.3 3.7 14.6 0q5.7 -4.7 11.4 0q7.3 3.7 14.6 0q5.7 -4.7 11.4 0q7.3 3.7 14.6 0q5.7 -4.7 11.4 0q7.3 3.7 14.6 0q5.7 -4.7 11.4 0q7.3 3.7 14.6 0q5.7 -4.7 11.4 0q7.3 3.7 14.6 0q5.7 -4.7 11.4 0q7.3 3.7 14.6 0q5.7 -4.7 11.4 0q7.3 3.7 14.6 0q5.7 -4.7 11.4 0q7.3 3.7 14.6 0q5.7 -4.7 11.4 0q7.3 3.7 14.6 0" transform="rotate(0.52 375 579.1)"/>
<path d="M319.3 596.1q5.7 -4.7 11.4 0q7.3 3.7 14.6 0q5.7 -4.7 11.4 0q7.3 3.7 14.6 0q5.7 -4.7 11.4 0q7.3 3.7 14.6 0q5.7 -4.7 11.4 0q7.3 3.7 14.6 0q5.7 -4.7 11.4 0q7.3 3.7 14.6 0q5.7 -4.7 11.4 0q7.3 3.7 14.6 0q5.7 -4.7 11.4 0q7.3 3.7 14.6 0q5.7 -4.7 11.4 0q7.3 3.7 14.6 0q5.7 -4.7 11.4 0q7.3 3.7 14.6 0q5.7 -4.7 11.4 0q7.3 3.7 14.6 0q5.7 -4.7 11.4 0q7.3 3.7 14.6 0q5.7 -4.7 11.4 0q7.3 3.7 14.6 0q5.7 -4.7 11.4 0q7.3 3.7 14.6 0q5.7 -4.7 11.4 0q7.3 3.7 14.6 0q5.7 -4.7 11.4 0q7.3 3.7 14.6 0q5.7 -4.7 11.4 0q7.3 3.7 14.6 0q5.7 -4.7 11.4 0q7.3 3.7 14.6 0q5.7 -4.7 11.4 0q7.3 3.7 14.6 0q5.7 -4.7 11.4 0q7.3 3.7 14.6 0q5.7 -4.7 11.4 0q7.3 3.7 14.6 0q5.7 -4.7 11.4 0q7.3 3.7 14.6 0q5.7 -4.7 11.4 0q7.3 3.7 14.6 0q5.7 -4.7 11.4 0q7.3 3.7 14.6 0" transform="rotate(0.52 375 596.1)"/>
<path d="M319.3 613q5.7 -4.7 11.4 0q7.3 3.7 14.6 0q5.7 -4.7 11.4 0q7.3 3.7 14.6 0q5.7 -4.7 11.4 0q7.3 3.7 14.6 0q5.7 -4.7 11.4 0q7.3 3.7 14.6 0q5.7 -4.7 11.4 0q7.3 3.7 14.6 0q5.7 -4.7 11.4 0q7.3 3.7 14.6 0q5.7 -4.7 11.4 0q7.3 3.7 14.6 0q5.7 -4.7 11.4 0q7.3 3.7 14.6 0q5.7 -4.7 11.4 0q7.3 3.7 14.6 0q5.7 -4.7 11.4 0q7.3 3.7 14.6 0q5.7 -4.7 11.4 0q7.3 3.7 14.6 0q5.7 -4.7 11.4 0q7.3 3.7 14.6 0q5.7 -4.7 11.4 0q7.3 3.7 14.6 0q5.7 -4.7 11.4 0q7.3 3.7 14.6 0q5.7 -4.7 11.4 0q7.3 3.7 14.6 0q5.7 -4.7 11.4 0q7.3 3.7 14.6 0q5.7 -4.7 11.4 0q7.3 3.7 14.6 0q5.7 -4.7 11.4 0q7.3 3.7 14.6 0q5.7 -4.7 11.4 0q7.3 3.7 14.6 0q5.7 -4.7 11.4 0q7.3 3.7 14.6 0q5.7 -4.7 11.4 0q7.3 3.7 14.6 0q5.7 -4.7 11.4 0q7.3 3.7 14.6 0" transform="rotate(0.52 375 613)" stroke-dasharray="301 5 432 4 372 4" stroke-linecap="butt"/>
<path d="M319.3 629.9q5.7 -4.7 11.4 0q7.3 3.7 14.6 0q5.7 -4.7 11.4 0q7.3 3.7 14.6 0q5.7 -4.7 11.4 0q7.3 3.7 14.6 0q5.7 -4.7 11.4 0q7.3 3.7 14.6 0q5.7 -4.7 11.4 0q7.3 3.7 14.6 0q5.7 -4.7 11.4 0q7.3 3.7 14.6 0q5.7 -4.7 11.4 0q7.3 3.7 14.6 0q5.7 -4.7 11.4 0q7.3 3.7 14.6 0q5.7 -4.7 11.4 0q7.3 3.7 14.6 0q5.7 -4.7 11.4 0q7.3 3.7 14.6 0q5.7 -4.7 11.4 0q7.3 3.7 14.6 0q5.7 -4.7 11.4 0q7.3 3.7 14.6 0q5.7 -4.7 11.4 0q7.3 3.7 14.6 0q5.7 -4.7 11.4 0q7.3 3.7 14.6 0q5.7 -4.7 11.4 0q7.3 3.7 14.6 0q5.7 -4.7 11.4 0q7.3 3.7 14.6 0q5.7 -4.7 11.4 0q7.3 3.7 14.6 0q5.7 -4.7 11.4 0q7.3 3.7 14.6 0q5.7 -4.7 11.4 0q7.3 3.7 14.6 0q5.7 -4.7 11.4 0q7.3 3.7 14.6 0q5.7 -4.7 11.4 0q7.3 3.7 14.6 0q5.7 -4.7 11.4 0q7.3 3.7 14.6 0" transform="rotate(0.52 375 629.9)" stroke-dasharray="186 9 246 7 320 7" stroke-linecap="butt"/>
<path d="M319.3 646.8q5.7 -4.7 11.4 0q7.3 3.7 14.6 0q5.7 -4.7 11.4 0q7.3 3.7 14.6 0q5.7 -4.7 11.4 0q7.3 3.7 14.6 0q5.7 -4.7 11.4 0q7.3 3.7 14.6 0q5.7 -4.7 11.4 0q7.3 3.7 14.6 0q5.7 -4.7 11.4 0q7.3 3.7 14.6 0q5.7 -4.7 11.4 0q7.3 3.7 14.6 0q5.7 -4.7 11.4 0q7.3 3.7 14.6 0q5.7 -4.7 11.4 0q7.3 3.7 14.6 0q5.7 -4.7 11.4 0q7.3 3.7 14.6 0q5.7 -4.7 11.4 0q7.3 3.7 14.6 0q5.7 -4.7 11.4 0q7.3 3.7 14.6 0q5.7 -4.7 11.4 0q7.3 3.7 14.6 0q5.7 -4.7 11.4 0q7.3 3.7 14.6 0q5.7 -4.7 11.4 0q7.3 3.7 14.6 0q5.7 -4.7 11.4 0q7.3 3.7 14.6 0q5.7 -4.7 11.4 0q7.3 3.7 14.6 0q5.7 -4.7 11.4 0q7.3 3.7 14.6 0q5.7 -4.7 11.4 0q7.3 3.7 14.6 0q5.7 -4.7 11.4 0q7.3 3.7 14.6 0q5.7 -4.7 11.4 0q7.3 3.7 14.6 0q5.7 -4.7 11.4 0q7.3 3.7 14.6 0" transform="rotate(0.52 375 646.8)" stroke-dasharray="325 8 262 5 340 8" stroke-linecap="butt"/>
<path d="M319.3 663.8q5.7 -4.7 11.4 0q7.3 3.7 14.6 0q5.7 -4.7 11.4 0q7.3 3.7 14.6 0q5.7 -4.7 11.4 0q7.3 3.7 14.6 0q5.7 -4.7 11.4 0q7.3 3.7 14.6 0q5.7 -4.7 11.4 0q7.3 3.7 14.6 0q5.7 -4.7 11.4 0q7.3 3.7 14.6 0q5.7 -4.7 11.4 0q7.3 3.7 14.6 0q5.7 -4.7 11.4 0q7.3 3.7 14.6 0q5.7 -4.7 11.4 0q7.3 3.7 14.6 0q5.7 -4.7 11.4 0q7.3 3.7 14.6 0q5.7 -4.7 11.4 0q7.3 3.7 14.6 0q5.7 -4.7 11.4 0q7.3 3.7 14.6 0q5.7 -4.7 11.4 0q7.3 3.7 14.6 0q5.7 -4.7 11.4 0q7.3 3.7 14.6 0q5.7 -4.7 11.4 0q7.3 3.7 14.6 0q5.7 -4.7 11.4 0q7.3 3.7 14.6 0q5.7 -4.7 11.4 0q7.3 3.7 14.6 0q5.7 -4.7 11.4 0q7.3 3.7 14.6 0q5.7 -4.7 11.4 0q7.3 3.7 14.6 0q5.7 -4.7 11.4 0q7.3 3.7 14.6 0q5.7 -4.7 11.4 0q7.3 3.7 14.6 0q5.7 -4.7 11.4 0q7.3 3.7 14.6 0" transform="rotate(0.52 375 663.8)" stroke-dasharray="303 9 314 5 197 4" stroke-linecap="butt"/>
<path d="M319.3 680.7q5.7 -4.7 11.4 0q7.3 3.7 14.6 0q5.7 -4.7 11.4 0q7.3 3.7 14.6 0q5.7 -4.7 11.4 0q7.3 3.7 14.6 0q5.7 -4.7 11.4 0q7.3 3.7 14.6 0q5.7 -4.7 11.4 0q7.3 3.7 14.6 0q5.7 -4.7 11.4 0q7.3 3.7 14.6 0q5.7 -4.7 11.4 0q7.3 3.7 14.6 0q5.7 -4.7 11.4 0q7.3 3.7 14.6 0q5.7 -4.7 11.4 0q7.3 3.7 14.6 0q5.7 -4.7 11.4 0q7.3 3.7 14.6 0q5.7 -4.7 11.4 0q7.3 3.7 14.6 0q5.7 -4.7 11.4 0q7.3 3.7 14.6 0q5.7 -4.7 11.4 0q7.3 3.7 14.6 0q5.7 -4.7 11.4 0q7.3 3.7 14.6 0q5.7 -4.7 11.4 0q7.3 3.7 14.6 0q5.7 -4.7 11.4 0q7.3 3.7 14.6 0q5.7 -4.7 11.4 0q7.3 3.7 14.6 0q5.7 -4.7 11.4 0q7.3 3.7 14.6 0q5.7 -4.7 11.4 0q7.3 3.7 14.6 0q5.7 -4.7 11.4 0q7.3 3.7 14.6 0q5.7 -4.7 11.4 0q7.3 3.7 14.6 0q5.7 -4.7 11.4 0q7.3 3.7 14.6 0" transform="rotate(0.52 375 680.7)" stroke-dasharray="457 5 126 7" stroke-linecap="butt"/>
<path d="M319.3 697.6q5.7 -4.7 11.4 0q7.3 3.7 14.6 0q5.7 -4.7 11.4 0q7.3 3.7 14.6 0q5.7 -4.7 11.4 0q7.3 3.7 14.6 0q5.7 -4.7 11.4 0q7.3 3.7 14.6 0q5.7 -4.7 11.4 0q7.3 3.7 14.6 0q5.7 -4.7 11.4 0q7.3 3.7 14.6 0q5.7 -4.7 11.4 0q7.3 3.7 14.6 0q5.7 -4.7 11.4 0q7.3 3.7 14.6 0q5.7 -4.7 11.4 0q7.3 3.7 14.6 0q5.7 -4.7 11.4 0q7.3 3.7 14.6 0q5.7 -4.7 11.4 0q7.3 3.7 14.6 0q5.7 -4.7 11.4 0q7.3 3.7 14.6 0q5.7 -4.7 11.4 0q7.3 3.7 14.6 0q5.7 -4.7 11.4 0q7.3 3.7 14.6 0q5.7 -4.7 11.4 0q7.3 3.7 14.6 0q5.7 -4.7 11.4 0q7.3 3.7 14.6 0q5.7 -4.7 11.4 0q7.3 3.7 14.6 0q5.7 -4.7 11.4 0q7.3 3.7 14.6 0q5.7 -4.7 11.4 0q7.3 3.7 14.6 0q5.7 -4.7 11.4 0q7.3 3.7 14.6 0q5.7 -4.7 11.4 0q7.3 3.7 14.6 0q5.7 -4.7 11.4 0q7.3 3.7 14.6 0" transform="rotate(0.52 375 697.6)"/>
<path d="M319.3 714.6q5.7 -4.7 11.4 0q7.3 3.7 14.6 0q5.7 -4.7 11.4 0q7.3 3.7 14.6 0q5.7 -4.7 11.4 0q7.3 3.7 14.6 0q5.7 -4.7 11.4 0q7.3 3.7 14.6 0q5.7 -4.7 11.4 0q7.3 3.7 14.6 0q5.7 -4.7 11.4 0q7.3 3.7 14.6 0q5.7 -4.7 11.4 0q7.3 3.7 14.6 0q5.7 -4.7 11.4 0q7.3 3.7 14.6 0q5.7 -4.7 11.4 0q7.3 3.7 14.6 0q5.7 -4.7 11.4 0q7.3 3.7 14.6 0q5.7 -4.7 11.4 0q7.3 3.7 14.6 0q5.7 -4.7 11.4 0q7.3 3.7 14.6 0q5.7 -4.7 11.4 0q7.3 3.7 14.6 0q5.7 -4.7 11.4 0q7.3 3.7 14.6 0q5.7 -4.7 11.4 0q7.3 3.7 14.6 0q5.7 -4.7 11.4 0q7.3 3.7 14.6 0q5.7 -4.7 11.4 0q7.3 3.7 14.6 0q5.7 -4.7 11.4 0q7.3 3.7 14.6 0q5.7 -4.7 11.4 0q7.3 3.7 14.6 0q5.7 -4.7 11.4 0q7.3 3.7 14.6 0q5.7 -4.7 11.4 0q7.3 3.7 14.6 0" transform="rotate(0.52 375 714.6)" stroke-dasharray="122 5 334 8 309 8" stroke-linecap="butt"/>
<path d="M319.3 731.5q5.7 -4.7 11.4 0q7.3 3.7 14.6 0q5.7 -4.7 11.4 0q7.3 3.7 14.6 0q5.7 -4.7 11.4 0q7.3 3.7 14.6 0q5.7 -4.7 11.4 0q7.3 3.7 14.6 0q5.7 -4.7 11.4 0q7.3 3.7 14.6 0q5.7 -4.7 11.4 0q7.3 3.7 14.6 0q5.7 -4.7 11.4 0q7.3 3.7 14.6 0q5.7 -4.7 11.4 0q7.3 3.7 14.6 0q5.7 -4.7 11.4 0q7.3 3.7 14.6 0q5.7 -4.7 11.4 0q7.3 3.7 14.6 0q5.7 -4.7 11.4 0q7.3 3.7 14.6 0q5.7 -4.7 11.4 0q7.3 3.7 14.6 0q5.7 -4.7 11.4 0q7.3 3.7 14.6 0q5.7 -4.7 11.4 0q7.3 3.7 14.6 0q5.7 -4.7 11.4 0q7.3 3.7 14.6 0q5.7 -4.7 11.4 0q7.3 3.7 14.6 0q5.7 -4.7 11.4 0q7.3 3.7 14.6 0q5.7 -4.7 11.4 0q7.3 3.7 14.6 0q5.7 -4.7 11.4 0q7.3 3.7 14.6 0q5.7 -4.7 11.4 0q7.3 3.7 14.6 0q5.7 -4.7 11.4 0q7.3 3.7 14.6 0" transform="rotate(0.52 375 731.5)"/>
<path d="M319.3 748.4q5.7 -4.7 11.4 0q7.3 3.7 14.6 0q5.7 -4.7 11.4 0q7.3 3.7 14.6 0q5.7 -4.7 11.4 0q7.3 3.7 14.6 0q5.7 -4.7 11.4 0q7.3 3.7 14.6 0q5.7 -4.7 11.4 0q7.3 3.7 14.6 0q5.7 -4.7 11.4 0q7.3 3.7 14.6 0q5.7 -4.7 11.4 0q7.3 3.7 14.6 0q5.7 -4.7 11.4 0q7.3 3.7 14.6 0q5.7 -4.7 11.4 0q7.3 3.7 14.6 0q5.7 -4.7 11.4 0q7.3 3.7 14.6 0q5.7 -4.7 11.4 0q7.3 3.7 14.6 0q5.7 -4.7 11.4 0q7.3 3.7 14.6 0q5.7 -4.7 11.4 0q7.3 3.7 14.6 0q5.7 -4.7 11.4 0q7.3 3.7 14.6 0q5.7 -4.7 11.4 0q7.3 3.7 14.6 0q5.7 -4.7 11.4 0q7.3 3.7 14.6 0q5.7 -4.7 11.4 0q7.3 3.7 14.6 0q5.7 -4.7 11.4 0q7.3 3.7 14.6 0q5.7 -4.7 11.4 0q7.3 3.7 14.6 0q5.7 -4.7 11.4 0q7.3 3.7 14.6 0q5.7 -4.7 11.4 0q7.3 3.7 14.6 0" transform="rotate(0.52 375 748.4)"/>
<path d="M319.3 765.4q5.7 -4.7 11.4 0q7.3 3.7 14.6 0q5.7 -4.7 11.4 0q7.3 3.7 14.6 0q5.7 -4.7 11.4 0q7.3 3.7 14.6 0q5.7 -4.7 11.4 0q7.3 3.7 14.6 0q5.7 -4.7 11.4 0q7.3 3.7 14.6 0q5.7 -4.7 11.4 0q7.3 3.7 14.6 0q5.7 -4.7 11.4 0q7.3 3.7 14.6 0q5.7 -4.7 11.4 0q7.3 3.7 14.6 0q5.7 -4.7 11.4 0q7.3 3.7 14.6 0q5.7 -4.7 11.4 0q7.3 3.7 14.6 0q5.7 -4.7 11.4 0q7.3 3.7 14.6 0q5.7 -4.7 11.4 0q7.3 3.7 14.6 0q5.7 -4.7 11.4 0q7.3 3.7 14.6 0q5.7 -4.7 11.4 0q7.3 3.7 14.6 0q5.7 -4.7 11.4 0q7.3 3.7 14.6 0q5.7 -4.7 11.4 0q7.3 3.7 14.6 0q5.7 -4.7 11.4 0q7.3 3.7 14.6 0q5.7 -4.7 11.4 0q7.3 3.7 14.6 0q5.7 -4.7 11.4 0q7.3 3.7 14.6 0q5.7 -4.7 11.4 0q7.3 3.7 14.6 0q5.7 -4.7 11.4 0q7.3 3.7 14.6 0" transform="rotate(0.52 375 765.4)"/>
<path d="M319.3 782.3q5.7 -4.7 11.4 0q7.3 3.7 14.6 0q5.7 -4.7 11.4 0q7.3 3.7 14.6 0q5.7 -4.7 11.4 0q7.3 3.7 14.6 0q5.7 -4.7 11.4 0q7.3 3.7 14.6 0q5.7 -4.7 11.4 0q7.3 3.7 14.6 0q5.7 -4.7 11.4 0q7.3 3.7 14.6 0q5.7 -4.7 11.4 0q7.3 3.7 14.6 0q5.7 -4.7 11.4 0q7.3 3.7 14.6 0q5.7 -4.7 11.4 0q7.3 3.7 14.6 0q5.7 -4.7 11.4 0q7.3 3.7 14.6 0q5.7 -4.7 11.4 0q7.3 3.7 14.6 0q5.7 -4.7 11.4 0q7.3 3.7 14.6 0q5.7 -4.7 11.4 0q7.3 3.7 14.6 0q5.7 -4.7 11.4 0q7.3 3.7 14.6 0q5.7 -4.7 11.4 0q7.3 3.7 14.6 0q5.7 -4.7 11.4 0q7.3 3.7 14.6 0q5.7 -4.7 11.4 0q7.3 3.7 14.6 0q5.7 -4.7 11.4 0q7.3 3.7 14.6 0q5.7 -4.7 11.4 0q7.3 3.7 14.6 0q5.7 -4.7 11.4 0q7.3 3.7 14.6 0q5.7 -4.7 11.4 0q7.3 3.7 14.6 0" transform="rotate(0.52 375 782.3)"/>
<path d="M319.3 799.2q5.7 -4.7 11.4 0q7.3 3.7 14.6 0q5.7 -4.7 11.4 0q7.3 3.7 14.6 0q5.7 -4.7 11.4 0q7.3 3.7 14.6 0q5.7 -4.7 11.4 0q7.3 3.7 14.6 0q5.7 -4.7 11.4 0q7.3 3.7 14.6 0q5.7 -4.7 11.4 0q7.3 3.7 14.6 0q5.7 -4.7 11.4 0q7.3 3.7 14.6 0q5.7 -4.7 11.4 0q7.3 3.7 14.6 0q5.7 -4.7 11.4 0q7.3 3.7 14.6 0q5.7 -4.7 11.4 0q7.3 3.7 14.6 0q5.7 -4.7 11.4 0q7.3 3.7 14.6 0q5.7 -4.7 11.4 0q7.3 3.7 14.6 0q5.7 -4.7 11.4 0q7.3 3.7 14.6 0q5.7 -4.7 11.4 0q7.3 3.7 14.6 0q5.7 -4.7 11.4 0q7.3 3.7 14.6 0q5.7 -4.7 11.4 0q7.3 3.7 14.6 0q5.7 -4.7 11.4 0q7.3 3.7 14.6 0q5.7 -4.7 11.4 0q7.3 3.7 14.6 0q5.7 -4.7 11.4 0q7.3 3.7 14.6 0q5.7 -4.7 11.4 0q7.3 3.7 14.6 0q5.7 -4.7 11.4 0q7.3 3.7 14.6 0" transform="rotate(0.52 375 799.2)"/>
<path d="M319.3 816.1q5.7 -4.7 11.4 0q7.3 3.7 14.6 0q5.7 -4.7 11.4 0q7.3 3.7 14.6 0q5.7 -4.7 11.4 0q7.3 3.7 14.6 0q5.7 -4.7 11.4 0q7.3 3.7 14.6 0q5.7 -4.7 11.4 0q7.3 3.7 14.6 0q5.7 -4.7 11.4 0q7.3 3.7 14.6 0q5.7 -4.7 11.4 0q7.3 3.7 14.6 0q5.7 -4.7 11.4 0q7.3 3.7 14.6 0q5.7 -4.7 11.4 0q7.3 3.7 14.6 0q5.7 -4.7 11.4 0q7.3 3.7 14.6 0q5.7 -4.7 11.4 0q7.3 3.7 14.6 0q5.7 -4.7 11.4 0q7.3 3.7 14.6 0q5.7 -4.7 11.4 0q7.3 3.7 14.6 0q5.7 -4.7 11.4 0q7.3 3.7 14.6 0q5.7 -4.7 11.4 0q7.3 3.7 14.6 0q5.7 -4.7 11.4 0q7.3 3.7 14.6 0q5.7 -4.7 11.4 0q7.3 3.7 14.6 0q5.7 -4.7 11.4 0q7.3 3.7 14.6 0q5.7 -4.7 11.4 0q7.3 3.7 14.6 0q5.7 -4.7 11.4 0q7.3 3.7 14.6 0q5.7 -4.7 11.4 0q7.3 3.7 14.6 0" transform="rotate(0.52 375 816.1)"/>
<path d="M319.3 833.1q5.7 -4.7 11.4 0q7.3 3.7 14.6 0q5.7 -4.7 11.4 0q7.3 3.7 14.6 0q5.7 -4.7 11.4 0q7.3 3.7 14.6 0q5.7 -4.7 11.4 0q7.3 3.7 14.6 0q5.7 -4.7 11.4 0q7.3 3.7 14.6 0q5.7 -4.7 11.4 0q7.3 3.7 14.6 0q5.7 -4.7 11.4 0q7.3 3.7 14.6 0q5.7 -4.7 11.4 0q7.3 3.7 14.6 0q5.7 -4.7 11.4 0q7.3 3.7 14.6 0q5.7 -4.7 11.4 0q7.3 3.7 14.6 0q5.7 -4.7 11.4 0q7.3 3.7 14.6 0q5.7 -4.7 11.4 0q7.3 3.7 14.6 0q5.7 -4.7 11.4 0q7.3 3.7 14.6 0q5.7 -4.7 11.4 0q7.3 3.7 14.6 0q5.7 -4.7 11.4 0q7.3 3.7 14.6 0q5.7 -4.7 11.4 0q7.3 3.7 14.6 0q5.7 -4.7 11.4 0q7.3 3.7 14.6 0q5.7 -4.7 11.4 0q7.3 3.7 14.6 0q5.7 -4.7 11.4 0q7.3 3.7 14.6 0q5.7 -4.7 11.4 0q7.3 3.7 14.6 0" transform="rotate(0.52 375 833.1)" stroke-dasharray="323 7 321 4 366 9" stroke-linecap="butt"/>
<path d="M319.3 850q5.7 -4.7 11.4 0q7.3 3.7 14.6 0q5.7 -4.7 11.4 0q7.3 3.7 14.6 0q5.7 -4.7 11.4 0q7.3 3.7 14.6 0q5.7 -4.7 11.4 0q7.3 3.7 14.6 0q5.7 -4.7 11.4 0q7.3 3.7 14.6 0q5.7 -4.7 11.4 0q7.3 3.7 14.6 0q5.7 -4.7 11.4 0q7.3 3.7 14.6 0q5.7 -4.7 11.4 0q7.3 3.7 14.6 0q5.7 -4.7 11.4 0q7.3 3.7 14.6 0q5.7 -4.7 11.4 0q7.3 3.7 14.6 0q5.7 -4.7 11.4 0q7.3 3.7 14.6 0q5.7 -4.7 11.4 0q7.3 3.7 14.6 0q5.7 -4.7 11.4 0q7.3 3.7 14.6 0q5.7 -4.7 11.4 0q7.3 3.7 14.6 0q5.7 -4.7 11.4 0q7.3 3.7 14.6 0q5.7 -4.7 11.4 0q7.3 3.7 14.6 0q5.7 -4.7 11.4 0q7.3 3.7 14.6 0q5.7 -4.7 11.4 0q7.3 3.7 14.6 0q5.7 -4.7 11.4 0q7.3 3.7 14.6 0q5.7 -4.7 11.4 0q7.3 3.7 14.6 0" transform="rotate(0.52 375 850)"/>
<path d="M322 864.8q11.2 11.5 22.5 0q11.2 11.5 22.5 0q11.2 11.5 22.5 0q11.2 11.5 22.5 0q11.2 11.5 22.5 0q11.2 11.5 22.5 0q11.2 11.5 22.5 0q11.2 11.5 22.5 0q11.2 11.5 22.5 0q11.2 11.5 22.5 0q11.2 11.5 22.5 0q11.2 11.5 22.5 0q11.2 11.5 22.5 0q11.2 11.5 22.5 0q11.2 11.5 22.5 0q11.2 11.5 22.5 0q11.2 11.5 22.5 0q11.2 11.5 22.5 0q11.2 11.5 22.5 0q11.2 11.5 22.5 0q11.2 11.5 22.5 0q11.2 11.5 22.5 0q11.2 11.5 22.5 0" stroke-width="3.7" transform="rotate(0.52 375 868)"/>
<path d="M322 880.8q11.2 11.5 22.5 0q11.2 11.5 22.5 0q11.2 11.5 22.5 0q11.2 11.5 22.5 0q11.2 11.5 22.5 0q11.2 11.5 22.5 0q11.2 11.5 22.5 0q11.2 11.5 22.5 0q11.2 11.5 22.5 0q11.2 11.5 22.5 0q11.2 11.5 22.5 0q11.2 11.5 22.5 0q11.2 11.5 22.5 0q11.2 11.5 22.5 0q11.2 11.5 22.5 0q11.2 11.5 22.5 0q11.2 11.5 22.5 0q11.2 11.5 22.5 0q11.2 11.5 22.5 0q11.2 11.5 22.5 0q11.2 11.5 22.5 0q11.2 11.5 22.5 0q11.2 11.5 22.5 0" stroke-width="3.7" transform="rotate(0.52 375 884)"/>
<path d="M322 896.8q11.2 11.5 22.5 0q11.2 11.5 22.5 0q11.2 11.5 22.5 0q11.2 11.5 22.5 0q11.2 11.5 22.5 0q11.2 11.5 22.5 0q11.2 11.5 22.5 0q11.2 11.5 22.5 0q11.2 11.5 22.5 0q11.2 11.5 22.5 0q11.2 11.5 22.5 0q11.2 11.5 22.5 0q11.2 11.5 22.5 0q11.2 11.5 22.5 0q11.2 11.5 22.5 0q11.2 11.5 22.5 0q11.2 11.5 22.5 0q11.2 11.5 22.5 0q11.2 11.5 22.5 0q11.2 11.5 22.5 0q11.2 11.5 22.5 0q11.2 11.5 22.5 0" stroke-width="3.7" transform="rotate(0.52 375 900)"/>
<path d="M322 912.8q11.2 11.5 22.5 0q11.2 11.5 22.5 0q11.2 11.5 22.5 0q11.2 11.5 22.5 0q11.2 11.5 22.5 0q11.2 11.5 22.5 0q11.2 11.5 22.5 0q11.2 11.5 22.5 0q11.2 11.5 22.5 0q11.2 11.5 22.5 0q11.2 11.5 22.5 0q11.2 11.5 22.5 0q11.2 11.5 22.5 0q11.2 11.5 22.5 0q11.2 11.5 22.5 0q11.2 11.5 22.5 0q11.2 11.5 22.5 0q11.2 11.5 22.5 0q11.2 11.5 22.5 0q11.2 11.5 22.5 0q11.2 11.5 22.5 0q11.2 11.5 22.5 0" stroke-width="3.7" transform="rotate(0.52 375 916)"/>
<path d="M319.3 934.7q5.7 -4.5 11.4 0q7.3 3.5 14.6 0q5.7 -4.5 11.4 0q7.3 3.5 14.6 0q5.7 -4.5 11.4 0q7.3 3.5 14.6 0q5.7 -4.5 11.4 0q7.3 3.5 14.6 0q5.7 -4.5 11.4 0q7.3 3.5 14.6 0q5.7 -4.5 11.4 0q7.3 3.5 14.6 0q5.7 -4.5 11.4 0q7.3 3.5 14.6 0q5.7 -4.5 11.4 0q7.3 3.5 14.6 0q5.7 -4.5 11.4 0q7.3 3.5 14.6 0q5.7 -4.5 11.4 0q7.3 3.5 14.6 0q5.7 -4.5 11.4 0q7.3 3.5 14.6 0q5.7 -4.5 11.4 0q7.3 3.5 14.6 0q5.7 -4.5 11.4 0q7.3 3.5 14.6 0q5.7 -4.5 11.4 0q7.3 3.5 14.6 0q5.7 -4.5 11.4 0q7.3 3.5 14.6 0q5.7 -4.5 11.4 0q7.3 3.5 14.6 0q5.7 -4.5 11.4 0q7.3 3.5 14.6 0q5.7 -4.5 11.4 0q7.3 3.5 14.6 0q5.7 -4.5 11.4 0q7.3 3.5 14.6 0" stroke-dasharray="14 7 9 9 12 12 70 6 3000" stroke-linecap="butt" transform="rotate(0.52 375 934.7)"/>
<path d="M319.3 951.6q5.7 -4.7 11.4 0q7.3 3.7 14.6 0q5.7 -4.7 11.4 0q7.3 3.7 14.6 0q5.7 -4.7 11.4 0q7.3 3.7 14.6 0q5.7 -4.7 11.4 0q7.3 3.7 14.6 0q5.7 -4.7 11.4 0q7.3 3.7 14.6 0q5.7 -4.7 11.4 0q7.3 3.7 14.6 0q5.7 -4.7 11.4 0q7.3 3.7 14.6 0q5.7 -4.7 11.4 0q7.3 3.7 14.6 0q5.7 -4.7 11.4 0q7.3 3.7 14.6 0q5.7 -4.7 11.4 0q7.3 3.7 14.6 0q5.7 -4.7 11.4 0q7.3 3.7 14.6 0q5.7 -4.7 11.4 0q7.3 3.7 14.6 0q5.7 -4.7 11.4 0q7.3 3.7 14.6 0q5.7 -4.7 11.4 0q7.3 3.7 14.6 0q5.7 -4.7 11.4 0q7.3 3.7 14.6 0q5.7 -4.7 11.4 0q7.3 3.7 14.6 0q5.7 -4.7 11.4 0q7.3 3.7 14.6 0q5.7 -4.7 11.4 0q7.3 3.7 14.6 0q5.7 -4.7 11.4 0q7.3 3.7 14.6 0" transform="rotate(0.52 375 951.6)" stroke-dasharray="345 5 176 6" stroke-linecap="butt"/>
<path d="M319.3 968.5q5.7 -4.7 11.4 0q7.3 3.7 14.6 0q5.7 -4.7 11.4 0q7.3 3.7 14.6 0q5.7 -4.7 11.4 0q7.3 3.7 14.6 0q5.7 -4.7 11.4 0q7.3 3.7 14.6 0q5.7 -4.7 11.4 0q7.3 3.7 14.6 0q5.7 -4.7 11.4 0q7.3 3.7 14.6 0q5.7 -4.7 11.4 0q7.3 3.7 14.6 0q5.7 -4.7 11.4 0q7.3 3.7 14.6 0q5.7 -4.7 11.4 0q7.3 3.7 14.6 0q5.7 -4.7 11.4 0q7.3 3.7 14.6 0q5.7 -4.7 11.4 0q7.3 3.7 14.6 0q5.7 -4.7 11.4 0q7.3 3.7 14.6 0q5.7 -4.7 11.4 0q7.3 3.7 14.6 0q5.7 -4.7 11.4 0q7.3 3.7 14.6 0q5.7 -4.7 11.4 0q7.3 3.7 14.6 0q5.7 -4.7 11.4 0q7.3 3.7 14.6 0q5.7 -4.7 11.4 0q7.3 3.7 14.6 0q5.7 -4.7 11.4 0q7.3 3.7 14.6 0q5.7 -4.7 11.4 0q7.3 3.7 14.6 0" transform="rotate(0.52 375 968.5)"/>
<path d="M319.3 985.4q5.7 -4.7 11.4 0q7.3 3.7 14.6 0q5.7 -4.7 11.4 0q7.3 3.7 14.6 0q5.7 -4.7 11.4 0q7.3 3.7 14.6 0q5.7 -4.7 11.4 0q7.3 3.7 14.6 0q5.7 -4.7 11.4 0q7.3 3.7 14.6 0q5.7 -4.7 11.4 0q7.3 3.7 14.6 0q5.7 -4.7 11.4 0q7.3 3.7 14.6 0q5.7 -4.7 11.4 0q7.3 3.7 14.6 0q5.7 -4.7 11.4 0q7.3 3.7 14.6 0q5.7 -4.7 11.4 0q7.3 3.7 14.6 0q5.7 -4.7 11.4 0q7.3 3.7 14.6 0q5.7 -4.7 11.4 0q7.3 3.7 14.6 0q5.7 -4.7 11.4 0q7.3 3.7 14.6 0q5.7 -4.7 11.4 0q7.3 3.7 14.6 0q5.7 -4.7 11.4 0q7.3 3.7 14.6 0q5.7 -4.7 11.4 0q7.3 3.7 14.6 0q5.7 -4.7 11.4 0q7.3 3.7 14.6 0q5.7 -4.7 11.4 0q7.3 3.7 14.6 0q5.7 -4.7 11.4 0q7.3 3.7 14.6 0" transform="rotate(0.52 375 985.4)" stroke-dasharray="394 4 306 8" stroke-linecap="butt"/>
<path d="M319.3 1002.4q5.7 -4.7 11.4 0q7.3 3.7 14.6 0q5.7 -4.7 11.4 0q7.3 3.7 14.6 0q5.7 -4.7 11.4 0q7.3 3.7 14.6 0q5.7 -4.7 11.4 0q7.3 3.7 14.6 0q5.7 -4.7 11.4 0q7.3 3.7 14.6 0q5.7 -4.7 11.4 0q7.3 3.7 14.6 0q5.7 -4.7 11.4 0q7.3 3.7 14.6 0q5.7 -4.7 11.4 0q7.3 3.7 14.6 0q5.7 -4.7 11.4 0q7.3 3.7 14.6 0q5.7 -4.7 11.4 0q7.3 3.7 14.6 0q5.7 -4.7 11.4 0q7.3 3.7 14.6 0q5.7 -4.7 11.4 0q7.3 3.7 14.6 0q5.7 -4.7 11.4 0q7.3 3.7 14.6 0q5.7 -4.7 11.4 0q7.3 3.7 14.6 0q5.7 -4.7 11.4 0q7.3 3.7 14.6 0q5.7 -4.7 11.4 0q7.3 3.7 14.6 0q5.7 -4.7 11.4 0q7.3 3.7 14.6 0q5.7 -4.7 11.4 0q7.3 3.7 14.6 0" transform="rotate(0.52 375 1002.4)" stroke-dasharray="434 7 196 9" stroke-linecap="butt"/>
<path d="M319.3 1019.3q5.7 -4.7 11.4 0q7.3 3.7 14.6 0q5.7 -4.7 11.4 0q7.3 3.7 14.6 0q5.7 -4.7 11.4 0q7.3 3.7 14.6 0q5.7 -4.7 11.4 0q7.3 3.7 14.6 0q5.7 -4.7 11.4 0q7.3 3.7 14.6 0q5.7 -4.7 11.4 0q7.3 3.7 14.6 0q5.7 -4.7 11.4 0q7.3 3.7 14.6 0q5.7 -4.7 11.4 0q7.3 3.7 14.6 0q5.7 -4.7 11.4 0q7.3 3.7 14.6 0q5.7 -4.7 11.4 0q7.3 3.7 14.6 0q5.7 -4.7 11.4 0q7.3 3.7 14.6 0q5.7 -4.7 11.4 0q7.3 3.7 14.6 0q5.7 -4.7 11.4 0q7.3 3.7 14.6 0q5.7 -4.7 11.4 0q7.3 3.7 14.6 0q5.7 -4.7 11.4 0q7.3 3.7 14.6 0q5.7 -4.7 11.4 0q7.3 3.7 14.6 0q5.7 -4.7 11.4 0q7.3 3.7 14.6 0q5.7 -4.7 11.4 0q7.3 3.7 14.6 0" transform="rotate(0.52 375 1019.3)" stroke-dasharray="428 6 362 4 179 7" stroke-linecap="butt"/>
<path d="M319.3 1036.2q5.7 -4.7 11.4 0q7.3 3.7 14.6 0q5.7 -4.7 11.4 0q7.3 3.7 14.6 0q5.7 -4.7 11.4 0q7.3 3.7 14.6 0q5.7 -4.7 11.4 0q7.3 3.7 14.6 0q5.7 -4.7 11.4 0q7.3 3.7 14.6 0q5.7 -4.7 11.4 0q7.3 3.7 14.6 0q5.7 -4.7 11.4 0q7.3 3.7 14.6 0q5.7 -4.7 11.4 0q7.3 3.7 14.6 0q5.7 -4.7 11.4 0q7.3 3.7 14.6 0q5.7 -4.7 11.4 0q7.3 3.7 14.6 0q5.7 -4.7 11.4 0q7.3 3.7 14.6 0q5.7 -4.7 11.4 0q7.3 3.7 14.6 0q5.7 -4.7 11.4 0q7.3 3.7 14.6 0q5.7 -4.7 11.4 0q7.3 3.7 14.6 0q5.7 -4.7 11.4 0q7.3 3.7 14.6 0q5.7 -4.7 11.4 0q7.3 3.7 14.6 0q5.7 -4.7 11.4 0q7.3 3.7 14.6 0q5.7 -4.7 11.4 0q7.3 3.7 14.6 0" transform="rotate(0.52 375 1036.2)"/>
<path d="M319.3 1053.2q5.7 -4.7 11.4 0q7.3 3.7 14.6 0q5.7 -4.7 11.4 0q7.3 3.7 14.6 0q5.7 -4.7 11.4 0q7.3 3.7 14.6 0q5.7 -4.7 11.4 0q7.3 3.7 14.6 0q5.7 -4.7 11.4 0q7.3 3.7 14.6 0q5.7 -4.7 11.4 0q7.3 3.7 14.6 0q5.7 -4.7 11.4 0q7.3 3.7 14.6 0q5.7 -4.7 11.4 0q7.3 3.7 14.6 0q5.7 -4.7 11.4 0q7.3 3.7 14.6 0q5.7 -4.7 11.4 0q7.3 3.7 14.6 0q5.7 -4.7 11.4 0q7.3 3.7 14.6 0q5.7 -4.7 11.4 0q7.3 3.7 14.6 0q5.7 -4.7 11.4 0q7.3 3.7 14.6 0q5.7 -4.7 11.4 0q7.3 3.7 14.6 0q5.7 -4.7 11.4 0q7.3 3.7 14.6 0q5.7 -4.7 11.4 0q7.3 3.7 14.6 0q5.7 -4.7 11.4 0q7.3 3.7 14.6 0q5.7 -4.7 11.4 0q7.3 3.7 14.6 0" transform="rotate(0.52 375 1053.2)"/>
<path d="M319.3 1070.1q5.7 -4.7 11.4 0q7.3 3.7 14.6 0q5.7 -4.7 11.4 0q7.3 3.7 14.6 0q5.7 -4.7 11.4 0q7.3 3.7 14.6 0q5.7 -4.7 11.4 0q7.3 3.7 14.6 0q5.7 -4.7 11.4 0q7.3 3.7 14.6 0q5.7 -4.7 11.4 0q7.3 3.7 14.6 0q5.7 -4.7 11.4 0q7.3 3.7 14.6 0q5.7 -4.7 11.4 0q7.3 3.7 14.6 0q5.7 -4.7 11.4 0q7.3 3.7 14.6 0q5.7 -4.7 11.4 0q7.3 3.7 14.6 0q5.7 -4.7 11.4 0q7.3 3.7 14.6 0q5.7 -4.7 11.4 0q7.3 3.7 14.6 0q5.7 -4.7 11.4 0q7.3 3.7 14.6 0q5.7 -4.7 11.4 0q7.3 3.7 14.6 0q5.7 -4.7 11.4 0q7.3 3.7 14.6 0q5.7 -4.7 11.4 0q7.3 3.7 14.6 0q5.7 -4.7 11.4 0q7.3 3.7 14.6 0q5.7 -4.7 11.4 0q7.3 3.7 14.6 0" transform="rotate(0.52 375 1070.1)"/>
<path d="M319.3 1087q5.7 -4.7 11.4 0q7.3 3.7 14.6 0q5.7 -4.7 11.4 0q7.3 3.7 14.6 0q5.7 -4.7 11.4 0q7.3 3.7 14.6 0q5.7 -4.7 11.4 0q7.3 3.7 14.6 0q5.7 -4.7 11.4 0q7.3 3.7 14.6 0q5.7 -4.7 11.4 0q7.3 3.7 14.6 0q5.7 -4.7 11.4 0q7.3 3.7 14.6 0q5.7 -4.7 11.4 0q7.3 3.7 14.6 0q5.7 -4.7 11.4 0q7.3 3.7 14.6 0q5.7 -4.7 11.4 0q7.3 3.7 14.6 0q5.7 -4.7 11.4 0q7.3 3.7 14.6 0q5.7 -4.7 11.4 0q7.3 3.7 14.6 0q5.7 -4.7 11.4 0q7.3 3.7 14.6 0q5.7 -4.7 11.4 0q7.3 3.7 14.6 0q5.7 -4.7 11.4 0q7.3 3.7 14.6 0q5.7 -4.7 11.4 0q7.3 3.7 14.6 0q5.7 -4.7 11.4 0q7.3 3.7 14.6 0" transform="rotate(0.52 375 1087)" stroke-dasharray="503 6 499 6" stroke-linecap="butt"/>
<path d="M319.3 1104q5.7 -4.7 11.4 0q7.3 3.7 14.6 0q5.7 -4.7 11.4 0q7.3 3.7 14.6 0q5.7 -4.7 11.4 0q7.3 3.7 14.6 0q5.7 -4.7 11.4 0q7.3 3.7 14.6 0q5.7 -4.7 11.4 0q7.3 3.7 14.6 0q5.7 -4.7 11.4 0q7.3 3.7 14.6 0q5.7 -4.7 11.4 0q7.3 3.7 14.6 0q5.7 -4.7 11.4 0q7.3 3.7 14.6 0q5.7 -4.7 11.4 0q7.3 3.7 14.6 0q5.7 -4.7 11.4 0q7.3 3.7 14.6 0q5.7 -4.7 11.4 0q7.3 3.7 14.6 0q5.7 -4.7 11.4 0q7.3 3.7 14.6 0q5.7 -4.7 11.4 0q7.3 3.7 14.6 0q5.7 -4.7 11.4 0q7.3 3.7 14.6 0q5.7 -4.7 11.4 0q7.3 3.7 14.6 0q5.7 -4.7 11.4 0q7.3 3.7 14.6 0q5.7 -4.7 11.4 0q7.3 3.7 14.6 0" transform="rotate(0.52 375 1104)"/>
<path d="M319.3 1120.9q5.7 -4.7 11.4 0q7.3 3.7 14.6 0q5.7 -4.7 11.4 0q7.3 3.7 14.6 0q5.7 -4.7 11.4 0q7.3 3.7 14.6 0q5.7 -4.7 11.4 0q7.3 3.7 14.6 0q5.7 -4.7 11.4 0q7.3 3.7 14.6 0q5.7 -4.7 11.4 0q7.3 3.7 14.6 0q5.7 -4.7 11.4 0q7.3 3.7 14.6 0q5.7 -4.7 11.4 0q7.3 3.7 14.6 0q5.7 -4.7 11.4 0q7.3 3.7 14.6 0q5.7 -4.7 11.4 0q7.3 3.7 14.6 0q5.7 -4.7 11.4 0q7.3 3.7 14.6 0q5.7 -4.7 11.4 0q7.3 3.7 14.6 0q5.7 -4.7 11.4 0q7.3 3.7 14.6 0q5.7 -4.7 11.4 0q7.3 3.7 14.6 0q5.7 -4.7 11.4 0q7.3 3.7 14.6 0q5.7 -4.7 11.4 0q7.3 3.7 14.6 0q5.7 -4.7 11.4 0q7.3 3.7 14.6 0" transform="rotate(0.52 375 1120.9)"/>
<path d="M319.3 1137.8q5.7 -3.1 11.4 0q7.3 2.4 14.6 0q5.7 -3.1 11.4 0q7.3 2.4 14.6 0q5.7 -3.1 11.4 0q7.3 2.4 14.6 0q5.7 -3.1 11.4 0q7.3 2.4 14.6 0q5.7 -3.1 11.4 0q7.3 2.4 14.6 0q5.7 -3.1 11.4 0q7.3 2.4 14.6 0q5.7 -3.1 11.4 0q7.3 2.4 14.6 0q5.7 -3.1 11.4 0q7.3 2.4 14.6 0q5.7 -3.1 11.4 0q7.3 2.4 14.6 0q5.7 -3.1 11.4 0q7.3 2.4 14.6 0q5.7 -3.1 11.4 0q7.3 2.4 14.6 0q5.7 -3.1 11.4 0q7.3 2.4 14.6 0q5.7 -3.1 11.4 0q7.3 2.4 14.6 0q5.7 -3.1 11.4 0q7.3 2.4 14.6 0q5.7 -3.1 11.4 0q7.3 2.4 14.6 0q5.7 -3.1 11.4 0q7.3 2.4 14.6 0q5.7 -3.1 11.4 0q7.3 2.4 14.6 0" stroke-width="3.2" stroke-dasharray="30 9 12 7 40 12" transform="rotate(0.52 375 1137.8)"/>
<path d="M322 1151.8q11.2 11.5 22.5 0q11.2 11.5 22.5 0q11.2 11.5 22.5 0q11.2 11.5 22.5 0q11.2 11.5 22.5 0q11.2 11.5 22.5 0q11.2 11.5 22.5 0q11.2 11.5 22.5 0q11.2 11.5 22.5 0q11.2 11.5 22.5 0q11.2 11.5 22.5 0q11.2 11.5 22.5 0q11.2 11.5 22.5 0q11.2 11.5 22.5 0q11.2 11.5 22.5 0q11.2 11.5 22.5 0q11.2 11.5 22.5 0q11.2 11.5 22.5 0q11.2 11.5 22.5 0" stroke-width="3.7" transform="rotate(0.52 375 1155)"/>
<path d="M322 1168.1q11.2 11.5 22.5 0q11.2 11.5 22.5 0q11.2 11.5 22.5 0q11.2 11.5 22.5 0q11.2 11.5 22.5 0q11.2 11.5 22.5 0q11.2 11.5 22.5 0q11.2 11.5 22.5 0q11.2 11.5 22.5 0q11.2 11.5 22.5 0q11.2 11.5 22.5 0q11.2 11.5 22.5 0q11.2 11.5 22.5 0q11.2 11.5 22.5 0q11.2 11.5 22.5 0q11.2 11.5 22.5 0q11.2 11.5 22.5 0q11.2 11.5 22.5 0" stroke-width="3.7" transform="rotate(0.52 375 1171.3)"/>
<path d="M322 1184.4q11.2 11.5 22.5 0q11.2 11.5 22.5 0q11.2 11.5 22.5 0q11.2 11.5 22.5 0q11.2 11.5 22.5 0q11.2 11.5 22.5 0q11.2 11.5 22.5 0q11.2 11.5 22.5 0q11.2 11.5 22.5 0q11.2 11.5 22.5 0q11.2 11.5 22.5 0q11.2 11.5 22.5 0q11.2 11.5 22.5 0q11.2 11.5 22.5 0q11.2 11.5 22.5 0q11.2 11.5 22.5 0q11.2 11.5 22.5 0q11.2 11.5 22.5 0" stroke-width="3.7" transform="rotate(0.52 375 1187.6)"/>
<path d="M319.3 1205.5q5.7 -4.7 11.4 0q7.3 3.7 14.6 0q5.7 -4.7 11.4 0q7.3 3.7 14.6 0q5.7 -4.7 11.4 0q7.3 3.7 14.6 0q5.7 -4.7 11.4 0q7.3 3.7 14.6 0q5.7 -4.7 11.4 0q7.3 3.7 14.6 0q5.7 -4.7 11.4 0q7.3 3.7 14.6 0q5.7 -4.7 11.4 0q7.3 3.7 14.6 0q5.7 -4.7 11.4 0q7.3 3.7 14.6 0q5.7 -4.7 11.4 0q7.3 3.7 14.6 0q5.7 -4.7 11.4 0q7.3 3.7 14.6 0q5.7 -4.7 11.4 0q7.3 3.7 14.6 0q5.7 -4.7 11.4 0q7.3 3.7 14.6 0q5.7 -4.7 11.4 0q7.3 3.7 14.6 0q5.7 -4.7 11.4 0q7.3 3.7 14.6 0q5.7 -4.7 11.4 0q7.3 3.7 14.6 0q5.7 -4.7 11.4 0q7.3 3.7 14.6 0" transform="rotate(0.52 375 1205.5)"/>
<path d="M319.3 1222.5q5.7 -4.7 11.4 0q7.3 3.7 14.6 0q5.7 -4.7 11.4 0q7.3 3.7 14.6 0q5.7 -4.7 11.4 0q7.3 3.7 14.6 0q5.7 -4.7 11.4 0q7.3 3.7 14.6 0q5.7 -4.7 11.4 0q7.3 3.7 14.6 0q5.7 -4.7 11.4 0q7.3 3.7 14.6 0q5.7 -4.7 11.4 0q7.3 3.7 14.6 0q5.7 -4.7 11.4 0q7.3 3.7 14.6 0q5.7 -4.7 11.4 0q7.3 3.7 14.6 0q5.7 -4.7 11.4 0q7.3 3.7 14.6 0q5.7 -4.7 11.4 0q7.3 3.7 14.6 0q5.7 -4.7 11.4 0q7.3 3.7 14.6 0q5.7 -4.7 11.4 0q7.3 3.7 14.6 0q5.7 -4.7 11.4 0q7.3 3.7 14.6 0q5.7 -4.7 11.4 0q7.3 3.7 14.6 0" transform="rotate(0.52 375 1222.5)" stroke-dasharray="195 9 398 4 508 8" stroke-linecap="butt"/>
<path d="M319.3 1239.4q5.7 -4.7 11.4 0q7.3 3.7 14.6 0q5.7 -4.7 11.4 0q7.3 3.7 14.6 0q5.7 -4.7 11.4 0q7.3 3.7 14.6 0q5.7 -4.7 11.4 0q7.3 3.7 14.6 0q5.7 -4.7 11.4 0q7.3 3.7 14.6 0q5.7 -4.7 11.4 0q7.3 3.7 14.6 0q5.7 -4.7 11.4 0q7.3 3.7 14.6 0q5.7 -4.7 11.4 0q7.3 3.7 14.6 0q5.7 -4.7 11.4 0q7.3 3.7 14.6 0q5.7 -4.7 11.4 0q7.3 3.7 14.6 0q5.7 -4.7 11.4 0q7.3 3.7 14.6 0q5.7 -4.7 11.4 0q7.3 3.7 14.6 0q5.7 -4.7 11.4 0q7.3 3.7 14.6 0q5.7 -4.7 11.4 0q7.3 3.7 14.6 0q5.7 -4.7 11.4 0q7.3 3.7 14.6 0" transform="rotate(0.52 375 1239.4)" stroke-dasharray="476 6 385 6" stroke-linecap="butt"/>
<path d="M319.3 1256.3q5.7 -4.7 11.4 0q7.3 3.7 14.6 0q5.7 -4.7 11.4 0q7.3 3.7 14.6 0q5.7 -4.7 11.4 0q7.3 3.7 14.6 0q5.7 -4.7 11.4 0q7.3 3.7 14.6 0q5.7 -4.7 11.4 0q7.3 3.7 14.6 0q5.7 -4.7 11.4 0q7.3 3.7 14.6 0q5.7 -4.7 11.4 0q7.3 3.7 14.6 0q5.7 -4.7 11.4 0q7.3 3.7 14.6 0q5.7 -4.7 11.4 0q7.3 3.7 14.6 0q5.7 -4.7 11.4 0q7.3 3.7 14.6 0q5.7 -4.7 11.4 0q7.3 3.7 14.6 0q5.7 -4.7 11.4 0q7.3 3.7 14.6 0q5.7 -4.7 11.4 0q7.3 3.7 14.6 0q5.7 -4.7 11.4 0q7.3 3.7 14.6 0q5.7 -4.7 11.4 0q7.3 3.7 14.6 0" transform="rotate(0.52 375 1256.3)"/>
<path d="M480 1267.4H640" stroke-width="1.6" stroke-dasharray="14 9 6 12" transform="rotate(0.69 375 1267.4)"/>
<path d="M319.3 1280.8q5.7 -4.7 11.4 0q7.3 3.7 14.6 0q5.7 -4.7 11.4 0q7.3 3.7 14.6 0q5.7 -4.7 11.4 0q7.3 3.7 14.6 0q5.7 -4.7 11.4 0q7.3 3.7 14.6 0q5.7 -4.7 11.4 0q7.3 3.7 14.6 0q5.7 -4.7 11.4 0q7.3 3.7 14.6 0q5.7 -4.7 11.4 0q7.3 3.7 14.6 0q5.7 -4.7 11.4 0q7.3 3.7 14.6 0q5.7 -4.7 11.4 0q7.3 3.7 14.6 0q5.7 -4.7 11.4 0q7.3 3.7 14.6 0q5.7 -4.7 11.4 0q7.3 3.7 14.6 0q5.7 -4.7 11.4 0q7.3 3.7 14.6 0q5.7 -4.7 11.4 0q7.3 3.7 14.6 0q5.7 -4.7 11.4 0q7.3 3.7 14.6 0" transform="rotate(0.74 375 1280.8)"/>
<path d="M319.3 1297.9q5.7 -4.7 11.4 0q7.3 3.7 14.6 0q5.7 -4.7 11.4 0q7.3 3.7 14.6 0q5.7 -4.7 11.4 0q7.3 3.7 14.6 0q5.7 -4.7 11.4 0q7.3 3.7 14.6 0q5.7 -4.7 11.4 0q7.3 3.7 14.6 0q5.7 -4.7 11.4 0q7.3 3.7 14.6 0q5.7 -4.7 11.4 0q7.3 3.7 14.6 0q5.7 -4.7 11.4 0q7.3 3.7 14.6 0q5.7 -4.7 11.4 0q7.3 3.7 14.6 0q5.7 -4.7 11.4 0q7.3 3.7 14.6 0q5.7 -4.7 11.4 0q7.3 3.7 14.6 0q5.7 -4.7 11.4 0q7.3 3.7 14.6 0q5.7 -4.7 11.4 0q7.3 3.7 14.6 0q5.7 -4.7 11.4 0q7.3 3.7 14.6 0" transform="rotate(0.74 375 1297.9)" stroke-dasharray="445 5 433 5 242 7" stroke-linecap="butt"/>
<path d="M319.3 1315q5.7 -4.7 11.4 0q7.3 3.7 14.6 0q5.7 -4.7 11.4 0q7.3 3.7 14.6 0q5.7 -4.7 11.4 0q7.3 3.7 14.6 0q5.7 -4.7 11.4 0q7.3 3.7 14.6 0q5.7 -4.7 11.4 0q7.3 3.7 14.6 0q5.7 -4.7 11.4 0q7.3 3.7 14.6 0q5.7 -4.7 11.4 0q7.3 3.7 14.6 0q5.7 -4.7 11.4 0q7.3 3.7 14.6 0q5.7 -4.7 11.4 0q7.3 3.7 14.6 0q5.7 -4.7 11.4 0q7.3 3.7 14.6 0q5.7 -4.7 11.4 0q7.3 3.7 14.6 0q5.7 -4.7 11.4 0q7.3 3.7 14.6 0q5.7 -4.7 11.4 0q7.3 3.7 14.6 0" transform="rotate(0.74 375 1315)"/>
<path d="M319.3 1332q5.7 -4.7 11.4 0q7.3 3.7 14.6 0q5.7 -4.7 11.4 0q7.3 3.7 14.6 0q5.7 -4.7 11.4 0q7.3 3.7 14.6 0q5.7 -4.7 11.4 0q7.3 3.7 14.6 0q5.7 -4.7 11.4 0q7.3 3.7 14.6 0q5.7 -4.7 11.4 0q7.3 3.7 14.6 0q5.7 -4.7 11.4 0q7.3 3.7 14.6 0q5.7 -4.7 11.4 0q7.3 3.7 14.6 0q5.7 -4.7 11.4 0q7.3 3.7 14.6 0q5.7 -4.7 11.4 0q7.3 3.7 14.6 0q5.7 -4.7 11.4 0q7.3 3.7 14.6 0q5.7 -4.7 11.4 0q7.3 3.7 14.6 0q5.7 -4.7 11.4 0q7.3 3.7 14.6 0" transform="rotate(0.74 375 1332)" stroke-dasharray="302 9 134 4 263 7" stroke-linecap="butt"/>
<path d="M319.3 1348.3q5.7 -4.7 11.4 0q7.3 3.7 14.6 0q5.7 -4.7 11.4 0q7.3 3.7 14.6 0q5.7 -4.7 11.4 0q7.3 3.7 14.6 0q5.7 -4.7 11.4 0q7.3 3.7 14.6 0q5.7 -4.7 11.4 0q7.3 3.7 14.6 0q5.7 -4.7 11.4 0q7.3 3.7 14.6 0q5.7 -4.7 11.4 0q7.3 3.7 14.6 0q5.7 -4.7 11.4 0q7.3 3.7 14.6 0q5.7 -4.7 11.4 0q7.3 3.7 14.6 0q5.7 -4.7 11.4 0q7.3 3.7 14.6 0q5.7 -4.7 11.4 0q7.3 3.7 14.6 0q5.7 -4.7 11.4 0q7.3 3.7 14.6 0q5.7 -4.7 11.4 0q7.3 3.7 14.6 0" transform="rotate(0.74 375 1348.3)" stroke-dasharray="348 9 298 6 161 5" stroke-linecap="butt"/>
<path d="M319.3 1364.6q5.7 -4.7 11.4 0q7.3 3.7 14.6 0q5.7 -4.7 11.4 0q7.3 3.7 14.6 0q5.7 -4.7 11.4 0q7.3 3.7 14.6 0q5.7 -4.7 11.4 0q7.3 3.7 14.6 0q5.7 -4.7 11.4 0q7.3 3.7 14.6 0q5.7 -4.7 11.4 0q7.3 3.7 14.6 0q5.7 -4.7 11.4 0q7.3 3.7 14.6 0q5.7 -4.7 11.4 0q7.3 3.7 14.6 0q5.7 -4.7 11.4 0q7.3 3.7 14.6 0q5.7 -4.7 11.4 0q7.3 3.7 14.6 0q5.7 -4.7 11.4 0q7.3 3.7 14.6 0q5.7 -4.7 11.4 0q7.3 3.7 14.6 0" transform="rotate(0.74 375 1364.6)" stroke-dasharray="220 6 224 7 439 8" stroke-linecap="butt"/>
<path d="M319.3 1373q5.7 -2.7 11.4 0q7.3 2.1 14.6 0q5.7 -2.7 11.4 0q7.3 2.1 14.6 0q5.7 -2.7 11.4 0q7.3 2.1 14.6 0q5.7 -2.7 11.4 0q7.3 2.1 14.6 0q5.7 -2.7 11.4 0q7.3 2.1 14.6 0q5.7 -2.7 11.4 0q7.3 2.1 14.6 0q5.7 -2.7 11.4 0q7.3 2.1 14.6 0q5.7 -2.7 11.4 0q7.3 2.1 14.6 0q5.7 -2.7 11.4 0q7.3 2.1 14.6 0q5.7 -2.7 11.4 0q7.3 2.1 14.6 0q5.7 -2.7 11.4 0q7.3 2.1 14.6 0q5.7 -2.7 11.4 0q7.3 2.1 14.6 0" stroke-width="2.2" stroke-dasharray="60 8 25 10" transform="rotate(0.74 375 1373)"/>
<path d="M319.3 1389.4q5.7 -4.7 11.4 0q7.3 3.7 14.6 0q5.7 -4.7 11.4 0q7.3 3.7 14.6 0q5.7 -4.7 11.4 0q7.3 3.7 14.6 0q5.7 -4.7 11.4 0q7.3 3.7 14.6 0q5.7 -4.7 11.4 0q7.3 3.7 14.6 0q5.7 -4.7 11.4 0q7.3 3.7 14.6 0q5.7 -4.7 11.4 0q7.3 3.7 14.6 0q5.7 -4.7 11.4 0q7.3 3.7 14.6 0q5.7 -4.7 11.4 0q7.3 3.7 14.6 0q5.7 -4.7 11.4 0q7.3 3.7 14.6 0q5.7 -4.7 11.4 0q7.3 3.7 14.6 0q5.7 -4.7 11.4 0q7.3 3.7 14.6 0" transform="rotate(0.80 375 1389.4)"/>
<path d="M319.3 1406.3q5.7 -4.7 11.4 0q7.3 3.7 14.6 0q5.7 -4.7 11.4 0q7.3 3.7 14.6 0q5.7 -4.7 11.4 0q7.3 3.7 14.6 0q5.7 -4.7 11.4 0q7.3 3.7 14.6 0q5.7 -4.7 11.4 0q7.3 3.7 14.6 0q5.7 -4.7 11.4 0q7.3 3.7 14.6 0q5.7 -4.7 11.4 0q7.3 3.7 14.6 0q5.7 -4.7 11.4 0q7.3 3.7 14.6 0q5.7 -4.7 11.4 0q7.3 3.7 14.6 0q5.7 -4.7 11.4 0q7.3 3.7 14.6 0q5.7 -4.7 11.4 0q7.3 3.7 14.6 0" transform="rotate(0.80 375 1406.3)"/>
<path d="M319.3 1423.2q5.7 -4.7 11.4 0q7.3 3.7 14.6 0q5.7 -4.7 11.4 0q7.3 3.7 14.6 0q5.7 -4.7 11.4 0q7.3 3.7 14.6 0q5.7 -4.7 11.4 0q7.3 3.7 14.6 0q5.7 -4.7 11.4 0q7.3 3.7 14.6 0q5.7 -4.7 11.4 0q7.3 3.7 14.6 0q5.7 -4.7 11.4 0q7.3 3.7 14.6 0q5.7 -4.7 11.4 0q7.3 3.7 14.6 0q5.7 -4.7 11.4 0q7.3 3.7 14.6 0q5.7 -4.7 11.4 0q7.3 3.7 14.6 0q5.7 -4.7 11.4 0q7.3 3.7 14.6 0" transform="rotate(0.80 375 1423.2)"/>
<path d="M319.3 1440.1q5.7 -4.7 11.4 0q7.3 3.7 14.6 0q5.7 -4.7 11.4 0q7.3 3.7 14.6 0q5.7 -4.7 11.4 0q7.3 3.7 14.6 0q5.7 -4.7 11.4 0q7.3 3.7 14.6 0q5.7 -4.7 11.4 0q7.3 3.7 14.6 0q5.7 -4.7 11.4 0q7.3 3.7 14.6 0q5.7 -4.7 11.4 0q7.3 3.7 14.6 0q5.7 -4.7 11.4 0q7.3 3.7 14.6 0q5.7 -4.7 11.4 0q7.3 3.7 14.6 0q5.7 -4.7 11.4 0q7.3 3.7 14.6 0q5.7 -4.7 11.4 0q7.3 3.7 14.6 0" transform="rotate(0.80 375 1440.1)"/>
<path d="M319.3 1457q5.7 -4.7 11.4 0q7.3 3.7 14.6 0q5.7 -4.7 11.4 0q7.3 3.7 14.6 0q5.7 -4.7 11.4 0q7.3 3.7 14.6 0q5.7 -4.7 11.4 0q7.3 3.7 14.6 0q5.7 -4.7 11.4 0q7.3 3.7 14.6 0q5.7 -4.7 11.4 0q7.3 3.7 14.6 0q5.7 -4.7 11.4 0q7.3 3.7 14.6 0q5.7 -4.7 11.4 0q7.3 3.7 14.6 0q5.7 -4.7 11.4 0q7.3 3.7 14.6 0q5.7 -4.7 11.4 0q7.3 3.7 14.6 0" transform="rotate(0.80 375 1457)" stroke-dasharray="318 9 504 5" stroke-linecap="butt"/>
<path d="M319.3 1473.9q5.7 -4.7 11.4 0q7.3 3.7 14.6 0q5.7 -4.7 11.4 0q7.3 3.7 14.6 0q5.7 -4.7 11.4 0q7.3 3.7 14.6 0q5.7 -4.7 11.4 0q7.3 3.7 14.6 0q5.7 -4.7 11.4 0q7.3 3.7 14.6 0q5.7 -4.7 11.4 0q7.3 3.7 14.6 0q5.7 -4.7 11.4 0q7.3 3.7 14.6 0q5.7 -4.7 11.4 0q7.3 3.7 14.6 0q5.7 -4.7 11.4 0q7.3 3.7 14.6 0q5.7 -4.7 11.4 0q7.3 3.7 14.6 0" transform="rotate(0.80 375 1473.9)"/>
<path d="M319.3 1490.8q5.7 -4.7 11.4 0q7.3 3.7 14.6 0q5.7 -4.7 11.4 0q7.3 3.7 14.6 0q5.7 -4.7 11.4 0q7.3 3.7 14.6 0q5.7 -4.7 11.4 0q7.3 3.7 14.6 0q5.7 -4.7 11.4 0q7.3 3.7 14.6 0q5.7 -4.7 11.4 0q7.3 3.7 14.6 0q5.7 -4.7 11.4 0q7.3 3.7 14.6 0q5.7 -4.7 11.4 0q7.3 3.7 14.6 0q5.7 -4.7 11.4 0q7.3 3.7 14.6 0" transform="rotate(0.80 375 1490.8)" stroke-dasharray="164 9 322 7 325 9" stroke-linecap="butt"/>
<path d="M319.3 1507.7q5.7 -4.7 11.4 0q7.3 3.7 14.6 0q5.7 -4.7 11.4 0q7.3 3.7 14.6 0q5.7 -4.7 11.4 0q7.3 3.7 14.6 0q5.7 -4.7 11.4 0q7.3 3.7 14.6 0q5.7 -4.7 11.4 0q7.3 3.7 14.6 0q5.7 -4.7 11.4 0q7.3 3.7 14.6 0q5.7 -4.7 11.4 0q7.3 3.7 14.6 0q5.7 -4.7 11.4 0q7.3 3.7 14.6 0q5.7 -4.7 11.4 0q7.3 3.7 14.6 0" transform="rotate(0.80 375 1507.7)"/>
<path d="M319.3 1524.6q5.7 -4.7 11.4 0q7.3 3.7 14.6 0q5.7 -4.7 11.4 0q7.3 3.7 14.6 0q5.7 -4.7 11.4 0q7.3 3.7 14.6 0q5.7 -4.7 11.4 0q7.3 3.7 14.6 0q5.7 -4.7 11.4 0q7.3 3.7 14.6 0q5.7 -4.7 11.4 0q7.3 3.7 14.6 0q5.7 -4.7 11.4 0q7.3 3.7 14.6 0q5.7 -4.7 11.4 0q7.3 3.7 14.6 0" transform="rotate(0.80 375 1524.6)"/>
<path d="M319.3 1541.5q5.7 -4.7 11.4 0q7.3 3.7 14.6 0q5.7 -4.7 11.4 0q7.3 3.7 14.6 0q5.7 -4.7 11.4 0q7.3 3.7 14.6 0q5.7 -4.7 11.4 0q7.3 3.7 14.6 0q5.7 -4.7 11.4 0q7.3 3.7 14.6 0q5.7 -4.7 11.4 0q7.3 3.7 14.6 0q5.7 -4.7 11.4 0q7.3 3.7 14.6 0q5.7 -4.7 11.4 0q7.3 3.7 14.6 0" transform="rotate(0.80 375 1541.5)" stroke-dasharray="134 5 422 7" stroke-linecap="butt"/>
<path d="M319.3 1558.4q5.7 -4.7 11.4 0q7.3 3.7 14.6 0q5.7 -4.7 11.4 0q7.3 3.7 14.6 0q5.7 -4.7 11.4 0q7.3 3.7 14.6 0q5.7 -4.7 11.4 0q7.3 3.7 14.6 0q5.7 -4.7 11.4 0q7.3 3.7 14.6 0q5.7 -4.7 11.4 0q7.3 3.7 14.6 0q5.7 -4.7 11.4 0q7.3 3.7 14.6 0" transform="rotate(0.80 375 1558.4)"/>
<path d="M319.3 1575.3q5.7 -4.7 11.4 0q7.3 3.7 14.6 0q5.7 -4.7 11.4 0q7.3 3.7 14.6 0q5.7 -4.7 11.4 0q7.3 3.7 14.6 0q5.7 -4.7 11.4 0q7.3 3.7 14.6 0q5.7 -4.7 11.4 0q7.3 3.7 14.6 0q5.7 -4.7 11.4 0q7.3 3.7 14.6 0q5.7 -4.7 11.4 0q7.3 3.7 14.6 0" transform="rotate(0.80 375 1575.3)" stroke-dasharray="456 6 199 8 400 5" stroke-linecap="butt"/>
<path d="M319.3 1592.2q5.7 -4.7 11.4 0q7.3 3.7 14.6 0q5.7 -4.7 11.4 0q7.3 3.7 14.6 0q5.7 -4.7 11.4 0q7.3 3.7 14.6 0q5.7 -4.7 11.4 0q7.3 3.7 14.6 0q5.7 -4.7 11.4 0q7.3 3.7 14.6 0q5.7 -4.7 11.4 0q7.3 3.7 14.6 0" transform="rotate(0.80 375 1592.2)" stroke-dasharray="389 9 191 7" stroke-linecap="butt"/>
<path d="M319.3 1609.1q5.7 -4.7 11.4 0q7.3 3.7 14.6 0q5.7 -4.7 11.4 0q7.3 3.7 14.6 0q5.7 -4.7 11.4 0q7.3 3.7 14.6 0q5.7 -4.7 11.4 0q7.3 3.7 14.6 0q5.7 -4.7 11.4 0q7.3 3.7 14.6 0" transform="rotate(0.80 375 1609.1)"/>
<path d="M319.3 1626q5.7 -4.7 11.4 0q7.3 3.7 14.6 0q5.7 -4.7 11.4 0q7.3 3.7 14.6 0q5.7 -4.7 11.4 0q7.3 3.7 14.6 0q5.7 -4.7 11.4 0q7.3 3.7 14.6 0q5.7 -4.7 11.4 0q7.3 3.7 14.6 0" transform="rotate(0.80 375 1626)" stroke-dasharray="134 6 228 6" stroke-linecap="butt"/>
<path d="M319.3 1642.9q5.7 -4.7 11.4 0q7.3 3.7 14.6 0q5.7 -4.7 11.4 0q7.3 3.7 14.6 0q5.7 -4.7 11.4 0q7.3 3.7 14.6 0q5.7 -4.7 11.4 0q7.3 3.7 14.6 0" transform="rotate(0.80 375 1642.9)"/>
<path d="M319.3 1659.8q5.7 -4.7 11.4 0q7.3 3.7 14.6 0q5.7 -4.7 11.4 0q7.3 3.7 14.6 0q5.7 -4.7 11.4 0q7.3 3.7 14.6 0" transform="rotate(0.80 375 1659.8)"/>
<path d="M319.3 1676.7q5.7 -4.7 11.4 0q7.3 3.7 14.6 0q5.7 -4.7 11.4 0q7.3 3.7 14.6 0q5.7 -4.7 11.4 0q7.3 3.7 14.6 0" transform="rotate(0.80 375 1676.7)"/>
</g>
<path d="M711 199L809.5 221.5L528.5 1089L428 1064Z" fill="#fff" stroke="none"/>
<g stroke="#fff" stroke-width="9" stroke-linecap="butt">
</g>
<g stroke-linecap="butt" stroke-linejoin="miter">
<path d="M84 34.5L83.4 1876L85.6 2224" stroke-width="8.4"/>
<path d="M80 38.8L1070 38.8" stroke-width="7.6"/>
<path d="M1066 37.6L2099.5 37.2" stroke-width="5.8"/>
<path d="M2096 34.5L2095.3 1450L2086.6 2231.5" stroke-width="7.4"/>
<path d="M81.5 2220L2090.5 2228.5" stroke-width="8.4"/>
<path d="M343 36L349.5 2224" stroke-width="6.9"/>
<path d="M1834.6 36L1829.5 2230" stroke-width="8"/>
</g>
<path d="M1071 40C1070.5 43.5 1071.3 56 1068 61C1064.7 66 1055.4 65.8 1051 70C1046.6 74.2 1046 81.2 1041.6 86C1037.2 90.8 1029.1 94.3 1024.5 99C1019.9 103.7 1017 107.2 1013.8 114C1010.5 120.8 1007.5 130.7 1005 140C1002.5 149.3 1000.7 159.7 998.8 170C996.9 180.3 995.1 191.3 993.5 202C991.9 212.7 989.9 224.5 989 234C988.1 243.5 988.5 250.8 988 259C987.5 267.2 987.2 275.1 986 283C984.8 290.9 982.8 299 980.6 306.5C978.4 314 975.7 320.9 973 328C970.3 335.1 967.4 343 964.6 349C961.8 355 959.2 360.6 956 364C952.8 367.4 948.9 369.5 945.4 369.5C941.9 369.5 937.9 366.7 934.7 364C931.5 361.3 929 356.2 926 353.5C923 350.8 920 348 916.5 348C913 348 908.9 350.8 904.8 353.5C900.7 356.2 894.5 359 892 364C889.5 369 890 375.7 889.8 383.4C889.5 391.1 891.6 398.3 890.5 410C889.4 421.7 886.3 437.2 883.3 453.4C880.3 469.6 875.5 489.2 872.6 507C869.7 524.8 868.7 544.5 866 560C863.3 575.5 859.9 586.6 856.5 600C853.1 613.4 849 627.1 845.9 640.5C842.8 653.9 840.9 665 837.8 680.6C834.6 696.2 830.5 718.4 827 734C823.5 749.6 820 758.4 816.5 774C813 789.6 809 813.3 805.8 827.6C802.5 841.9 800 849.6 797 860C794 870.4 791.3 878.8 787.5 890C783.7 901.2 778.9 913.2 774 927.5C769.1 941.8 762.9 960 758 975.6C753.1 991.2 749.1 1005.4 744.7 1021C740.3 1036.6 735.9 1053.8 731.4 1069C726.9 1084.2 722.9 1098.2 718 1112C713.1 1125.8 707.3 1138.2 702 1152C696.7 1165.8 691.8 1181.4 686 1194.7C680.2 1208 673.2 1220 667 1232C660.8 1244 654.7 1255 648.5 1267C642.3 1279 635.8 1293.2 629.8 1304C623.8 1314.8 618.7 1322 612.7 1332C606.7 1342 601.1 1352 594 1364C586.9 1376 577.6 1391.5 570 1404C562.4 1416.5 555.7 1427.8 548.5 1439C541.3 1450.2 534.1 1460.3 527 1471C519.9 1481.7 513.8 1492.3 505.8 1503C497.8 1513.7 488.4 1524.3 479 1535C469.6 1545.7 459.4 1556.7 449.6 1567C439.8 1577.3 429.8 1586.8 420 1596.6C410.2 1606.4 399.8 1617.1 390.9 1626C382 1634.9 373.7 1642.2 366.8 1650C359.9 1657.8 352.3 1669 349.4 1672.8" stroke-width="7.6"/>
<path d="M890.5 410C889.3 417.2 886.3 437.2 883.3 453.4C880.3 469.6 875.5 489.2 872.6 507C869.7 524.8 868.7 544.5 866 560C863.3 575.5 859.9 586.6 856.5 600C853.1 613.4 849 627.1 845.9 640.5C842.8 653.9 840.9 665 837.8 680.6C834.6 696.2 830.5 718.4 827 734C823.5 749.6 820 758.4 816.5 774C813 789.6 809 813.3 805.8 827.6C802.5 841.9 800 849.6 797 860C794 870.4 789.1 885 787.5 890" stroke-width="8.6"/>
<path d="M797 860C795.4 865 791.3 878.8 787.5 890C783.7 901.2 778.9 913.2 774 927.5C769.1 941.8 762.9 960 758 975.6C753.1 991.2 749.1 1005.4 744.7 1021C740.3 1036.6 735.9 1053.8 731.4 1069C726.9 1084.2 722.9 1098.2 718 1112C713.1 1125.8 707.3 1138.2 702 1152C696.7 1165.8 691.8 1181.4 686 1194.7C680.2 1208 673.2 1220 667 1232C660.8 1244 654.7 1255 648.5 1267C642.3 1279 635.8 1293.2 629.8 1304C623.8 1314.8 618.7 1322 612.7 1332C606.7 1342 597.1 1358.7 594 1364" stroke-width="9.8"/>
<path d="M594 1364C590 1370.7 577.6 1391.5 570 1404C562.4 1416.5 555.7 1427.8 548.5 1439C541.3 1450.2 534.1 1460.3 527 1471C519.9 1481.7 513.8 1492.3 505.8 1503C497.8 1513.7 488.4 1524.3 479 1535C469.6 1545.7 459.4 1556.7 449.6 1567C439.8 1577.3 429.8 1586.8 420 1596.6C410.2 1606.4 399.8 1617.1 390.9 1626C382 1634.9 373.7 1642.2 366.8 1650C359.9 1657.8 352.3 1669 349.4 1672.8" stroke-width="8.6"/>
<path d="M1399.7 40.7C1399.3 43.7 1397 53 1397.5 58.5C1398 64 1401.6 68.4 1402.9 73.4C1404.2 78.4 1405.5 83.6 1405.6 88.4C1405.7 93.2 1404.1 97.4 1403.5 102C1402.9 106.6 1402.1 113.7 1401.8 116" stroke-width="8"/>
<path d="M1404 158C1404.7 159.5 1406.9 161.5 1408 167C1409.1 172.5 1409.8 183.4 1410.8 191C1411.8 198.6 1413.6 205.3 1414 212.4C1414.4 219.5 1414.2 226.7 1413 233.8C1411.8 240.9 1408.3 247.9 1407 255C1405.7 262.1 1406.4 270.1 1405 276.5C1403.6 282.9 1400.1 289.1 1398.6 293.7C1397.1 298.3 1396.4 302.3 1396 304" stroke-width="8"/>
<path d="M1372 470C1372.5 471 1375.2 472 1375 476C1374.8 480 1371.8 488 1370.8 493.8C1369.8 499.6 1368.2 505.6 1368.7 511C1369.2 516.4 1373 520.9 1374 525.9C1375 530.9 1374.3 535.4 1375 540.8C1375.7 546.1 1378.1 552 1378.3 558C1378.5 564 1377.4 570.6 1376 577C1374.6 583.4 1371.1 590.3 1369.7 596.4C1368.3 602.5 1368.7 607.5 1367.6 613.5C1366.5 619.5 1363.7 626.6 1363.3 632.7C1362.9 638.8 1364.3 644.5 1365.4 649.9C1366.5 655.3 1368.5 658.9 1369.7 665C1370.9 671.1 1372.9 679.5 1372.4 686.7C1372 693.9 1369 701.3 1367 708C1365 714.7 1361.3 719.2 1360.3 726.8C1359.3 734.4 1361.2 744.6 1361 753.5C1360.8 762.4 1359.1 771.1 1359 780C1358.9 788.9 1359 798 1360.3 807C1361.6 816 1365 825.7 1367 833.7C1369 841.7 1371.8 847.5 1372.4 855C1373 862.5 1370.7 871.4 1370.5 879C1370.3 886.6 1371.3 892.5 1371 900.5C1370.7 908.5 1370 918.1 1368.9 927C1367.8 935.9 1366.1 946 1364.4 954C1362.8 962 1360.4 968.3 1359 975C1357.6 981.7 1358 989 1356 994C1354 999 1348.6 999.8 1347 1004.7C1345.4 1009.6 1347.1 1017.2 1346.4 1023.4C1345.7 1029.6 1344 1034.9 1343 1042C1342 1049.1 1340.3 1058.4 1340.3 1066C1340.3 1073.6 1341.4 1080.4 1343 1087.6C1344.6 1094.8 1348 1102.8 1349.7 1109C1351.5 1115.2 1353.3 1119.4 1353.5 1125C1353.7 1130.6 1351.8 1136.3 1351 1142.8C1350.2 1149.3 1350 1157.6 1348.8 1164C1347.5 1170.4 1344.4 1174.9 1343.5 1181C1342.6 1187.1 1342.6 1194.4 1343.5 1200.5C1344.4 1206.6 1347.2 1211.5 1348.8 1217.6C1350.4 1223.6 1351.8 1230.1 1353 1236.8C1354.2 1243.5 1355.4 1251.6 1356.3 1258C1357.2 1264.4 1357.7 1269 1358.4 1275C1359.1 1281 1360.2 1290.8 1360.6 1294" stroke-width="8.8"/>
<path d="M1374 523C1374.7 522 1375.9 519.7 1378 517C1380.1 514.3 1383.2 510.5 1386.8 506.6C1390.4 502.7 1394.7 497.9 1399.7 493.8C1404.7 489.7 1410.8 484.1 1416.8 482C1422.8 479.9 1430 483.3 1436 481C1442 478.7 1446.6 472.7 1453 468C1459.4 463.3 1467.3 458 1474.5 453C1481.7 448 1488.8 443.3 1495.9 438C1503 432.7 1511 425.6 1517 421C1523 416.4 1528.2 412.2 1532 410.4C1535.8 408.6 1537.7 409 1539.7 410.4C1541.7 411.8 1543.1 415.8 1544 419C1544.9 422.2 1543.4 426.4 1545 429.6C1546.6 432.8 1550 436.9 1553.6 438C1557.2 439.1 1562.2 437.4 1566.4 436C1570.6 434.6 1574.7 430.8 1579 429.6C1583.3 428.4 1587.7 428.4 1592 429C1596.3 429.6 1598.8 434.4 1604.8 433.3C1610.8 432.2 1620.5 424.7 1628 422.6C1635.5 420.5 1642.5 422.1 1649.7 420.5C1656.9 418.9 1663.9 415.8 1671 413C1678.1 410.2 1685.3 408.3 1692.4 403.9C1699.5 399.5 1706.7 393.2 1713.8 386.8C1720.9 380.4 1729 372.2 1735 365.4C1741 358.6 1745.9 352.1 1750 346C1754.1 339.9 1758.2 331.8 1759.8 329" stroke-width="6.8"/>
<path d="M1759.8 329C1760.5 326.5 1761.3 320.8 1764 314C1766.7 307.2 1772 295.1 1775.8 288.4C1779.5 281.6 1782.6 277.4 1786.5 273.5C1790.4 269.6 1795.8 268.9 1799 265C1802.2 261.1 1803.7 254.9 1805.7 249.9C1807.7 244.9 1810.1 237.5 1811 235" stroke-width="4.8"/>
<path d="M1811 235C1812.3 232.8 1817.3 224.2 1818.6 222" stroke-width="3"/>
<path d="M1759.8 329C1762.8 328.1 1771.5 325.2 1778 323.6C1784.5 322 1793.3 320.6 1799 319.3C1804.7 318 1809.8 316.6 1812 316" stroke-width="4.6"/>
<path d="M1812 316C1813.5 315.1 1819.2 311.6 1820.7 310.7" stroke-width="3.2"/>
<path d="M1604.8 433.3C1604.1 436.2 1601.2 445.8 1600.5 450.8C1599.8 455.9 1599.4 459.3 1600.5 463.6C1601.6 467.9 1603.8 473.2 1607 476.4C1610.2 479.6 1615.5 481 1619.7 482.8C1624 484.6 1629.7 484.5 1632.5 487C1635.3 489.5 1635.4 493.9 1636.8 497.8C1638.2 501.7 1638.8 506 1641 510.6C1643.2 515.2 1647 521.4 1649.7 525.6C1652.4 529.8 1655.8 534.3 1657 536" stroke-width="6"/>
<path d="M1657 536C1657.3 537.5 1658.7 543.3 1659 544.8" stroke-width="3.6"/>
<path d="M1357.7 992.7C1360.4 992.5 1367.9 993.9 1373.7 991.4C1379.5 988.9 1387.1 983.4 1392.4 978C1397.8 972.6 1401.8 965.1 1405.8 959.3C1409.8 953.5 1412.5 948.2 1416.5 943.3C1420.5 938.4 1423.6 933 1429.8 929.9C1436 926.8 1445.4 925.5 1453.9 924.6C1462.4 923.7 1471.7 924.2 1480.6 924.6C1489.5 925 1498.4 927 1507.3 927.2C1516.2 927.4 1525.1 927.7 1534 925.9C1542.9 924.1 1551.9 920.3 1560.8 916.5C1569.7 912.7 1579 907 1587.5 903.2C1596 899.4 1604.7 895.5 1611.5 893.8C1618.3 892.1 1623.3 892.4 1628.6 893.2C1633.9 894 1636.3 897.4 1643.5 898.6C1650.7 899.8 1662.8 899.8 1671.6 900.4C1680.3 901 1689.2 900.9 1696 902.3C1702.8 903.7 1707.4 907.6 1712.7 908.9C1718 910.1 1724 908.1 1727.7 909.8C1731.4 911.5 1732.2 915 1735 919C1737.8 923 1741 929.9 1744.5 934C1748 938.1 1752.4 940.7 1755.8 943.5C1759.2 946.3 1763.5 949.8 1765 951" stroke-width="8.7"/>
<path d="M1765 951C1766.6 950 1770.4 946.7 1774.5 945.3C1778.6 943.9 1784.4 942.6 1789.4 942.5C1794.4 942.4 1800 942.7 1804.4 944.4C1808.8 946.1 1811.3 951.1 1815.6 952.8C1819.9 954.5 1827.6 954.4 1830 954.7" stroke-width="6.6"/>
<path d="M1765 951C1765.7 952.8 1767.3 958 1768.9 962C1770.5 966 1772 970.9 1774.5 975.3C1777 979.7 1781.3 983.1 1783.8 988.4C1786.3 993.7 1788.5 1000.8 1789.4 1007C1790.3 1013.2 1789.4 1022.7 1789.4 1025.8" stroke-width="6.2"/>
<path d="M1789.4 1025.8C1788.5 1028.9 1786.5 1038 1783.8 1044.5C1781.1 1051 1775.2 1061.6 1773.5 1065" stroke-width="4.2"/>
<g clip-path="url(#cgal)" stroke-width="3.8">
<path d="M1303.4 314q6.6 -5.9 13.2 0q8.4 4.5 16.8 0q6.6 -5.9 13.2 0q8.4 4.5 16.8 0q6.6 -5.9 13.2 0q8.4 4.5 16.8 0q6.6 -5.9 13.2 0q8.4 4.5 16.8 0q6.6 -5.9 13.2 0q8.4 4.5 16.8 0q6.6 -5.9 13.2 0q8.4 4.5 16.8 0"/>
<path d="M1303.4 331q6.6 -5.9 13.2 0q8.4 4.5 16.8 0q6.6 -5.9 13.2 0q8.4 4.5 16.8 0q6.6 -5.9 13.2 0q8.4 4.5 16.8 0q6.6 -5.9 13.2 0q8.4 4.5 16.8 0q6.6 -5.9 13.2 0q8.4 4.5 16.8 0q6.6 -5.9 13.2 0q8.4 4.5 16.8 0"/>
<path d="M1303.4 348q6.6 -5.9 13.2 0q8.4 4.5 16.8 0q6.6 -5.9 13.2 0q8.4 4.5 16.8 0q6.6 -5.9 13.2 0q8.4 4.5 16.8 0q6.6 -5.9 13.2 0q8.4 4.5 16.8 0q6.6 -5.9 13.2 0q8.4 4.5 16.8 0q6.6 -5.9 13.2 0q8.4 4.5 16.8 0"/>
<path d="M1303.4 365.5q6.6 -5.9 13.2 0q8.4 4.5 16.8 0q6.6 -5.9 13.2 0q8.4 4.5 16.8 0q6.6 -5.9 13.2 0q8.4 4.5 16.8 0q6.6 -5.9 13.2 0q8.4 4.5 16.8 0q6.6 -5.9 13.2 0q8.4 4.5 16.8 0q6.6 -5.9 13.2 0q8.4 4.5 16.8 0"/>
<path d="M1303.4 382.6q6.6 -5.9 13.2 0q8.4 4.5 16.8 0q6.6 -5.9 13.2 0q8.4 4.5 16.8 0q6.6 -5.9 13.2 0q8.4 4.5 16.8 0q6.6 -5.9 13.2 0q8.4 4.5 16.8 0q6.6 -5.9 13.2 0q8.4 4.5 16.8 0q6.6 -5.9 13.2 0q8.4 4.5 16.8 0"/>
<path d="M1303.4 399.7q6.6 -5.9 13.2 0q8.4 4.5 16.8 0q6.6 -5.9 13.2 0q8.4 4.5 16.8 0q6.6 -5.9 13.2 0q8.4 4.5 16.8 0q6.6 -5.9 13.2 0q8.4 4.5 16.8 0q6.6 -5.9 13.2 0q8.4 4.5 16.8 0q6.6 -5.9 13.2 0q8.4 4.5 16.8 0"/>
<path d="M1303.4 416.8q6.6 -5.9 13.2 0q8.4 4.5 16.8 0q6.6 -5.9 13.2 0q8.4 4.5 16.8 0q6.6 -5.9 13.2 0q8.4 4.5 16.8 0q6.6 -5.9 13.2 0q8.4 4.5 16.8 0q6.6 -5.9 13.2 0q8.4 4.5 16.8 0q6.6 -5.9 13.2 0q8.4 4.5 16.8 0"/>
<path d="M1303.4 432.9q6.6 -5.9 13.2 0q8.4 4.5 16.8 0q6.6 -5.9 13.2 0q8.4 4.5 16.8 0q6.6 -5.9 13.2 0q8.4 4.5 16.8 0q6.6 -5.9 13.2 0q8.4 4.5 16.8 0q6.6 -5.9 13.2 0q8.4 4.5 16.8 0q6.6 -5.9 13.2 0q8.4 4.5 16.8 0"/>
<path d="M1303.4 451q6.6 -5.9 13.2 0q8.4 4.5 16.8 0q6.6 -5.9 13.2 0q8.4 4.5 16.8 0q6.6 -5.9 13.2 0q8.4 4.5 16.8 0q6.6 -5.9 13.2 0q8.4 4.5 16.8 0q6.6 -5.9 13.2 0q8.4 4.5 16.8 0q6.6 -5.9 13.2 0q8.4 4.5 16.8 0"/>
</g>
<path d="M1389 304.6C1384.4 305.5 1375.8 305.9 1369.7 308.9C1363.6 311.9 1358 318.4 1352.6 322.8C1347.2 327.2 1341 330.6 1337.5 335.6C1334 340.6 1332.5 346.6 1331.5 352.7C1330.5 358.8 1330.7 366.3 1331.5 372C1332.3 377.7 1334 382.4 1336.4 387C1338.8 391.6 1343.1 394.4 1346 399.7C1348.9 405 1351.5 412.3 1353.7 419C1355.9 425.7 1357.5 433.2 1359 440C1360.5 446.8 1360.8 454.6 1363 459.6C1365.2 464.6 1367.9 469.3 1371.9 470C1375.9 470.7 1382.2 467.4 1386.8 463.9C1391.4 460.4 1395.8 454.6 1399.7 448.9C1403.6 443.2 1406.8 436.5 1410 429.7C1413.2 422.9 1416.6 415.1 1418.9 408C1421.2 400.9 1422.9 394.1 1424 387C1425.1 379.9 1425.9 372.7 1425.7 365.5C1425.5 358.3 1424.5 351.1 1423 344C1421.5 336.9 1419.6 328.8 1416.8 322.8C1414 316.8 1409.2 311 1406 307.8C1402.8 304.6 1400.3 304 1397.5 303.5C1394.7 303 1393.6 303.7 1389 304.6Z" stroke-width="7.8"/>
<path d="M1402 119.5C1398.8 119.7 1394.6 120.8 1392 122.5C1389.4 124.2 1387.6 127.2 1386.5 130C1385.4 132.8 1385.1 136.1 1385.5 139C1385.9 141.9 1387.2 145 1389 147.5C1390.8 150 1393.5 151.9 1396 154C1398.5 156.1 1401.5 160 1404 160C1406.5 160 1408.8 156.2 1411 154C1413.2 151.8 1416 149.7 1417.5 147C1419 144.3 1419.9 141.2 1420 138C1420.1 134.8 1419.5 130.8 1418 128C1416.5 125.2 1413.7 122.9 1411 121.5C1408.3 120.1 1405.2 119.3 1402 119.5Z" stroke-width="8.6" fill="#000"/>
<g fill="#fff" stroke="none"><ellipse cx="1403.2" cy="139.6" rx="13.8" ry="6.9" transform="rotate(13 1403.2 139.6)"/><path d="M1391.5 129q5 -6.5 11 -4t6.5 4.5q-5.5 -3.5 -9 -3t-8.5 2.5z"/><ellipse cx="1403.9" cy="152.2" rx="5" ry="3.2" transform="rotate(25 1403.9 152.2)"/></g>
<g clip-path="url(#cdead)" stroke-width="4.2">
<path d="M1166.4 1311q6.6 -5.9 13.2 0q8.4 4.5 16.8 0q6.6 -5.9 13.2 0q8.4 4.5 16.8 0q6.6 -5.9 13.2 0q8.4 4.5 16.8 0q6.6 -5.9 13.2 0q8.4 4.5 16.8 0q6.6 -5.9 13.2 0q8.4 4.5 16.8 0q6.6 -5.9 13.2 0q8.4 4.5 16.8 0q6.6 -5.9 13.2 0q8.4 4.5 16.8 0q6.6 -5.9 13.2 0q8.4 4.5 16.8 0q6.6 -5.9 13.2 0q8.4 4.5 16.8 0"/>
<path d="M1166.4 1328q6.6 -5.9 13.2 0q8.4 4.5 16.8 0q6.6 -5.9 13.2 0q8.4 4.5 16.8 0q6.6 -5.9 13.2 0q8.4 4.5 16.8 0q6.6 -5.9 13.2 0q8.4 4.5 16.8 0q6.6 -5.9 13.2 0q8.4 4.5 16.8 0q6.6 -5.9 13.2 0q8.4 4.5 16.8 0q6.6 -5.9 13.2 0q8.4 4.5 16.8 0q6.6 -5.9 13.2 0q8.4 4.5 16.8 0q6.6 -5.9 13.2 0q8.4 4.5 16.8 0"/>
<path d="M1166.4 1345q6.6 -5.9 13.2 0q8.4 4.5 16.8 0q6.6 -5.9 13.2 0q8.4 4.5 16.8 0q6.6 -5.9 13.2 0q8.4 4.5 16.8 0q6.6 -5.9 13.2 0q8.4 4.5 16.8 0q6.6 -5.9 13.2 0q8.4 4.5 16.8 0q6.6 -5.9 13.2 0q8.4 4.5 16.8 0q6.6 -5.9 13.2 0q8.4 4.5 16.8 0q6.6 -5.9 13.2 0q8.4 4.5 16.8 0q6.6 -5.9 13.2 0q8.4 4.5 16.8 0"/>
<path d="M1166.4 1362q6.6 -5.9 13.2 0q8.4 4.5 16.8 0q6.6 -5.9 13.2 0q8.4 4.5 16.8 0q6.6 -5.9 13.2 0q8.4 4.5 16.8 0q6.6 -5.9 13.2 0q8.4 4.5 16.8 0q6.6 -5.9 13.2 0q8.4 4.5 16.8 0q6.6 -5.9 13.2 0q8.4 4.5 16.8 0q6.6 -5.9 13.2 0q8.4 4.5 16.8 0q6.6 -5.9 13.2 0q8.4 4.5 16.8 0q6.6 -5.9 13.2 0q8.4 4.5 16.8 0"/>
<path d="M1166.4 1379q6.6 -5.9 13.2 0q8.4 4.5 16.8 0q6.6 -5.9 13.2 0q8.4 4.5 16.8 0q6.6 -5.9 13.2 0q8.4 4.5 16.8 0q6.6 -5.9 13.2 0q8.4 4.5 16.8 0q6.6 -5.9 13.2 0q8.4 4.5 16.8 0q6.6 -5.9 13.2 0q8.4 4.5 16.8 0q6.6 -5.9 13.2 0q8.4 4.5 16.8 0q6.6 -5.9 13.2 0q8.4 4.5 16.8 0q6.6 -5.9 13.2 0q8.4 4.5 16.8 0"/>
<path d="M1166.4 1396q6.6 -5.9 13.2 0q8.4 4.5 16.8 0q6.6 -5.9 13.2 0q8.4 4.5 16.8 0q6.6 -5.9 13.2 0q8.4 4.5 16.8 0q6.6 -5.9 13.2 0q8.4 4.5 16.8 0q6.6 -5.9 13.2 0q8.4 4.5 16.8 0q6.6 -5.9 13.2 0q8.4 4.5 16.8 0q6.6 -5.9 13.2 0q8.4 4.5 16.8 0q6.6 -5.9 13.2 0q8.4 4.5 16.8 0q6.6 -5.9 13.2 0q8.4 4.5 16.8 0"/>
<path d="M1166.4 1413q6.6 -5.9 13.2 0q8.4 4.5 16.8 0q6.6 -5.9 13.2 0q8.4 4.5 16.8 0q6.6 -5.9 13.2 0q8.4 4.5 16.8 0q6.6 -5.9 13.2 0q8.4 4.5 16.8 0q6.6 -5.9 13.2 0q8.4 4.5 16.8 0q6.6 -5.9 13.2 0q8.4 4.5 16.8 0q6.6 -5.9 13.2 0q8.4 4.5 16.8 0q6.6 -5.9 13.2 0q8.4 4.5 16.8 0q6.6 -5.9 13.2 0q8.4 4.5 16.8 0"/>
<path d="M1166.4 1430q6.6 -5.9 13.2 0q8.4 4.5 16.8 0q6.6 -5.9 13.2 0q8.4 4.5 16.8 0q6.6 -5.9 13.2 0q8.4 4.5 16.8 0q6.6 -5.9 13.2 0q8.4 4.5 16.8 0q6.6 -5.9 13.2 0q8.4 4.5 16.8 0q6.6 -5.9 13.2 0q8.4 4.5 16.8 0q6.6 -5.9 13.2 0q8.4 4.5 16.8 0q6.6 -5.9 13.2 0q8.4 4.5 16.8 0q6.6 -5.9 13.2 0q8.4 4.5 16.8 0"/>
<path d="M1166.4 1447q6.6 -5.9 13.2 0q8.4 4.5 16.8 0q6.6 -5.9 13.2 0q8.4 4.5 16.8 0q6.6 -5.9 13.2 0q8.4 4.5 16.8 0q6.6 -5.9 13.2 0q8.4 4.5 16.8 0q6.6 -5.9 13.2 0q8.4 4.5 16.8 0q6.6 -5.9 13.2 0q8.4 4.5 16.8 0q6.6 -5.9 13.2 0q8.4 4.5 16.8 0q6.6 -5.9 13.2 0q8.4 4.5 16.8 0q6.6 -5.9 13.2 0q8.4 4.5 16.8 0"/>
<path d="M1166.4 1464q6.6 -5.9 13.2 0q8.4 4.5 16.8 0q6.6 -5.9 13.2 0q8.4 4.5 16.8 0q6.6 -5.9 13.2 0q8.4 4.5 16.8 0q6.6 -5.9 13.2 0q8.4 4.5 16.8 0q6.6 -5.9 13.2 0q8.4 4.5 16.8 0q6.6 -5.9 13.2 0q8.4 4.5 16.8 0q6.6 -5.9 13.2 0q8.4 4.5 16.8 0q6.6 -5.9 13.2 0q8.4 4.5 16.8 0q6.6 -5.9 13.2 0q8.4 4.5 16.8 0"/>
<path d="M1166.4 1481q6.6 -5.9 13.2 0q8.4 4.5 16.8 0q6.6 -5.9 13.2 0q8.4 4.5 16.8 0q6.6 -5.9 13.2 0q8.4 4.5 16.8 0q6.6 -5.9 13.2 0q8.4 4.5 16.8 0q6.6 -5.9 13.2 0q8.4 4.5 16.8 0q6.6 -5.9 13.2 0q8.4 4.5 16.8 0q6.6 -5.9 13.2 0q8.4 4.5 16.8 0q6.6 -5.9 13.2 0q8.4 4.5 16.8 0q6.6 -5.9 13.2 0q8.4 4.5 16.8 0"/>
<path d="M1166.4 1498q6.6 -5.9 13.2 0q8.4 4.5 16.8 0q6.6 -5.9 13.2 0q8.4 4.5 16.8 0q6.6 -5.9 13.2 0q8.4 4.5 16.8 0q6.6 -5.9 13.2 0q8.4 4.5 16.8 0q6.6 -5.9 13.2 0q8.4 4.5 16.8 0q6.6 -5.9 13.2 0q8.4 4.5 16.8 0q6.6 -5.9 13.2 0q8.4 4.5 16.8 0q6.6 -5.9 13.2 0q8.4 4.5 16.8 0q6.6 -5.9 13.2 0q8.4 4.5 16.8 0"/>
<path d="M1166.4 1515q6.6 -5.9 13.2 0q8.4 4.5 16.8 0q6.6 -5.9 13.2 0q8.4 4.5 16.8 0q6.6 -5.9 13.2 0q8.4 4.5 16.8 0q6.6 -5.9 13.2 0q8.4 4.5 16.8 0q6.6 -5.9 13.2 0q8.4 4.5 16.8 0q6.6 -5.9 13.2 0q8.4 4.5 16.8 0q6.6 -5.9 13.2 0q8.4 4.5 16.8 0q6.6 -5.9 13.2 0q8.4 4.5 16.8 0q6.6 -5.9 13.2 0q8.4 4.5 16.8 0"/>
<path d="M1166.4 1532q6.6 -5.9 13.2 0q8.4 4.5 16.8 0q6.6 -5.9 13.2 0q8.4 4.5 16.8 0q6.6 -5.9 13.2 0q8.4 4.5 16.8 0q6.6 -5.9 13.2 0q8.4 4.5 16.8 0q6.6 -5.9 13.2 0q8.4 4.5 16.8 0q6.6 -5.9 13.2 0q8.4 4.5 16.8 0q6.6 -5.9 13.2 0q8.4 4.5 16.8 0q6.6 -5.9 13.2 0q8.4 4.5 16.8 0q6.6 -5.9 13.2 0q8.4 4.5 16.8 0"/>
<path d="M1166.4 1549q6.6 -5.9 13.2 0q8.4 4.5 16.8 0q6.6 -5.9 13.2 0q8.4 4.5 16.8 0q6.6 -5.9 13.2 0q8.4 4.5 16.8 0q6.6 -5.9 13.2 0q8.4 4.5 16.8 0q6.6 -5.9 13.2 0q8.4 4.5 16.8 0q6.6 -5.9 13.2 0q8.4 4.5 16.8 0q6.6 -5.9 13.2 0q8.4 4.5 16.8 0q6.6 -5.9 13.2 0q8.4 4.5 16.8 0q6.6 -5.9 13.2 0q8.4 4.5 16.8 0"/>
<path d="M1166.4 1566q6.6 -5.9 13.2 0q8.4 4.5 16.8 0q6.6 -5.9 13.2 0q8.4 4.5 16.8 0q6.6 -5.9 13.2 0q8.4 4.5 16.8 0q6.6 -5.9 13.2 0q8.4 4.5 16.8 0q6.6 -5.9 13.2 0q8.4 4.5 16.8 0q6.6 -5.9 13.2 0q8.4 4.5 16.8 0q6.6 -5.9 13.2 0q8.4 4.5 16.8 0q6.6 -5.9 13.2 0q8.4 4.5 16.8 0q6.6 -5.9 13.2 0q8.4 4.5 16.8 0"/>
<path d="M1166.4 1583q6.6 -5.9 13.2 0q8.4 4.5 16.8 0q6.6 -5.9 13.2 0q8.4 4.5 16.8 0q6.6 -5.9 13.2 0q8.4 4.5 16.8 0q6.6 -5.9 13.2 0q8.4 4.5 16.8 0q6.6 -5.9 13.2 0q8.4 4.5 16.8 0q6.6 -5.9 13.2 0q8.4 4.5 16.8 0q6.6 -5.9 13.2 0q8.4 4.5 16.8 0q6.6 -5.9 13.2 0q8.4 4.5 16.8 0q6.6 -5.9 13.2 0q8.4 4.5 16.8 0"/>
<path d="M1166.4 1600q6.6 -5.9 13.2 0q8.4 4.5 16.8 0q6.6 -5.9 13.2 0q8.4 4.5 16.8 0q6.6 -5.9 13.2 0q8.4 4.5 16.8 0q6.6 -5.9 13.2 0q8.4 4.5 16.8 0q6.6 -5.9 13.2 0q8.4 4.5 16.8 0q6.6 -5.9 13.2 0q8.4 4.5 16.8 0q6.6 -5.9 13.2 0q8.4 4.5 16.8 0q6.6 -5.9 13.2 0q8.4 4.5 16.8 0q6.6 -5.9 13.2 0q8.4 4.5 16.8 0"/>
<path d="M1166.4 1617q6.6 -5.9 13.2 0q8.4 4.5 16.8 0q6.6 -5.9 13.2 0q8.4 4.5 16.8 0q6.6 -5.9 13.2 0q8.4 4.5 16.8 0q6.6 -5.9 13.2 0q8.4 4.5 16.8 0q6.6 -5.9 13.2 0q8.4 4.5 16.8 0q6.6 -5.9 13.2 0q8.4 4.5 16.8 0q6.6 -5.9 13.2 0q8.4 4.5 16.8 0q6.6 -5.9 13.2 0q8.4 4.5 16.8 0q6.6 -5.9 13.2 0q8.4 4.5 16.8 0"/>
<path d="M1166.4 1634q6.6 -5.9 13.2 0q8.4 4.5 16.8 0q6.6 -5.9 13.2 0q8.4 4.5 16.8 0q6.6 -5.9 13.2 0q8.4 4.5 16.8 0q6.6 -5.9 13.2 0q8.4 4.5 16.8 0q6.6 -5.9 13.2 0q8.4 4.5 16.8 0q6.6 -5.9 13.2 0q8.4 4.5 16.8 0q6.6 -5.9 13.2 0q8.4 4.5 16.8 0q6.6 -5.9 13.2 0q8.4 4.5 16.8 0q6.6 -5.9 13.2 0q8.4 4.5 16.8 0"/>
<path d="M1166.4 1651q6.6 -5.9 13.2 0q8.4 4.5 16.8 0q6.6 -5.9 13.2 0q8.4 4.5 16.8 0q6.6 -5.9 13.2 0q8.4 4.5 16.8 0q6.6 -5.9 13.2 0q8.4 4.5 16.8 0q6.6 -5.9 13.2 0q8.4 4.5 16.8 0q6.6 -5.9 13.2 0q8.4 4.5 16.8 0q6.6 -5.9 13.2 0q8.4 4.5 16.8 0q6.6 -5.9 13.2 0q8.4 4.5 16.8 0q6.6 -5.9 13.2 0q8.4 4.5 16.8 0"/>
<path d="M1166.4 1668q6.6 -5.9 13.2 0q8.4 4.5 16.8 0q6.6 -5.9 13.2 0q8.4 4.5 16.8 0q6.6 -5.9 13.2 0q8.4 4.5 16.8 0q6.6 -5.9 13.2 0q8.4 4.5 16.8 0q6.6 -5.9 13.2 0q8.4 4.5 16.8 0q6.6 -5.9 13.2 0q8.4 4.5 16.8 0q6.6 -5.9 13.2 0q8.4 4.5 16.8 0q6.6 -5.9 13.2 0q8.4 4.5 16.8 0q6.6 -5.9 13.2 0q8.4 4.5 16.8 0"/>
<path d="M1166.4 1685q6.6 -5.9 13.2 0q8.4 4.5 16.8 0q6.6 -5.9 13.2 0q8.4 4.5 16.8 0q6.6 -5.9 13.2 0q8.4 4.5 16.8 0q6.6 -5.9 13.2 0q8.4 4.5 16.8 0q6.6 -5.9 13.2 0q8.4 4.5 16.8 0q6.6 -5.9 13.2 0q8.4 4.5 16.8 0q6.6 -5.9 13.2 0q8.4 4.5 16.8 0q6.6 -5.9 13.2 0q8.4 4.5 16.8 0q6.6 -5.9 13.2 0q8.4 4.5 16.8 0"/>
<path d="M1166.4 1702q6.6 -5.9 13.2 0q8.4 4.5 16.8 0q6.6 -5.9 13.2 0q8.4 4.5 16.8 0q6.6 -5.9 13.2 0q8.4 4.5 16.8 0q6.6 -5.9 13.2 0q8.4 4.5 16.8 0q6.6 -5.9 13.2 0q8.4 4.5 16.8 0q6.6 -5.9 13.2 0q8.4 4.5 16.8 0q6.6 -5.9 13.2 0q8.4 4.5 16.8 0q6.6 -5.9 13.2 0q8.4 4.5 16.8 0q6.6 -5.9 13.2 0q8.4 4.5 16.8 0"/>
<path d="M1166.4 1715q6.6 -5.9 13.2 0q8.4 4.5 16.8 0q6.6 -5.9 13.2 0q8.4 4.5 16.8 0q6.6 -5.9 13.2 0q8.4 4.5 16.8 0q6.6 -5.9 13.2 0q8.4 4.5 16.8 0q6.6 -5.9 13.2 0q8.4 4.5 16.8 0q6.6 -5.9 13.2 0q8.4 4.5 16.8 0q6.6 -5.9 13.2 0q8.4 4.5 16.8 0q6.6 -5.9 13.2 0q8.4 4.5 16.8 0q6.6 -5.9 13.2 0q8.4 4.5 16.8 0"/>
<path d="M1166.4 1732q6.6 -5.9 13.2 0q8.4 4.5 16.8 0q6.6 -5.9 13.2 0q8.4 4.5 16.8 0q6.6 -5.9 13.2 0q8.4 4.5 16.8 0q6.6 -5.9 13.2 0q8.4 4.5 16.8 0q6.6 -5.9 13.2 0q8.4 4.5 16.8 0q6.6 -5.9 13.2 0q8.4 4.5 16.8 0q6.6 -5.9 13.2 0q8.4 4.5 16.8 0q6.6 -5.9 13.2 0q8.4 4.5 16.8 0q6.6 -5.9 13.2 0q8.4 4.5 16.8 0"/>
<path d="M1166.4 1751.3q6.6 -5.9 13.2 0q8.4 4.5 16.8 0q6.6 -5.9 13.2 0q8.4 4.5 16.8 0q6.6 -5.9 13.2 0q8.4 4.5 16.8 0q6.6 -5.9 13.2 0q8.4 4.5 16.8 0q6.6 -5.9 13.2 0q8.4 4.5 16.8 0q6.6 -5.9 13.2 0q8.4 4.5 16.8 0q6.6 -5.9 13.2 0q8.4 4.5 16.8 0q6.6 -5.9 13.2 0q8.4 4.5 16.8 0q6.6 -5.9 13.2 0q8.4 4.5 16.8 0"/>
<path d="M1166.4 1768.4q6.6 -5.9 13.2 0q8.4 4.5 16.8 0q6.6 -5.9 13.2 0q8.4 4.5 16.8 0q6.6 -5.9 13.2 0q8.4 4.5 16.8 0q6.6 -5.9 13.2 0q8.4 4.5 16.8 0q6.6 -5.9 13.2 0q8.4 4.5 16.8 0q6.6 -5.9 13.2 0q8.4 4.5 16.8 0q6.6 -5.9 13.2 0q8.4 4.5 16.8 0q6.6 -5.9 13.2 0q8.4 4.5 16.8 0q6.6 -5.9 13.2 0q8.4 4.5 16.8 0"/>
<path d="M1166.4 1785.5q6.6 -5.9 13.2 0q8.4 4.5 16.8 0q6.6 -5.9 13.2 0q8.4 4.5 16.8 0q6.6 -5.9 13.2 0q8.4 4.5 16.8 0q6.6 -5.9 13.2 0q8.4 4.5 16.8 0q6.6 -5.9 13.2 0q8.4 4.5 16.8 0q6.6 -5.9 13.2 0q8.4 4.5 16.8 0q6.6 -5.9 13.2 0q8.4 4.5 16.8 0q6.6 -5.9 13.2 0q8.4 4.5 16.8 0q6.6 -5.9 13.2 0q8.4 4.5 16.8 0"/>
<path d="M1166.4 1802.6q6.6 -5.9 13.2 0q8.4 4.5 16.8 0q6.6 -5.9 13.2 0q8.4 4.5 16.8 0q6.6 -5.9 13.2 0q8.4 4.5 16.8 0q6.6 -5.9 13.2 0q8.4 4.5 16.8 0q6.6 -5.9 13.2 0q8.4 4.5 16.8 0q6.6 -5.9 13.2 0q8.4 4.5 16.8 0q6.6 -5.9 13.2 0q8.4 4.5 16.8 0q6.6 -5.9 13.2 0q8.4 4.5 16.8 0q6.6 -5.9 13.2 0q8.4 4.5 16.8 0"/>
<path d="M1166.4 1819.7q6.6 -5.9 13.2 0q8.4 4.5 16.8 0q6.6 -5.9 13.2 0q8.4 4.5 16.8 0q6.6 -5.9 13.2 0q8.4 4.5 16.8 0q6.6 -5.9 13.2 0q8.4 4.5 16.8 0q6.6 -5.9 13.2 0q8.4 4.5 16.8 0q6.6 -5.9 13.2 0q8.4 4.5 16.8 0q6.6 -5.9 13.2 0q8.4 4.5 16.8 0q6.6 -5.9 13.2 0q8.4 4.5 16.8 0q6.6 -5.9 13.2 0q8.4 4.5 16.8 0"/>
<path d="M1166.4 1836.8q6.6 -5.9 13.2 0q8.4 4.5 16.8 0q6.6 -5.9 13.2 0q8.4 4.5 16.8 0q6.6 -5.9 13.2 0q8.4 4.5 16.8 0q6.6 -5.9 13.2 0q8.4 4.5 16.8 0q6.6 -5.9 13.2 0q8.4 4.5 16.8 0q6.6 -5.9 13.2 0q8.4 4.5 16.8 0q6.6 -5.9 13.2 0q8.4 4.5 16.8 0q6.6 -5.9 13.2 0q8.4 4.5 16.8 0q6.6 -5.9 13.2 0q8.4 4.5 16.8 0"/>
<path d="M1166.4 1851.8q6.6 -5.9 13.2 0q8.4 4.5 16.8 0q6.6 -5.9 13.2 0q8.4 4.5 16.8 0q6.6 -5.9 13.2 0q8.4 4.5 16.8 0q6.6 -5.9 13.2 0q8.4 4.5 16.8 0q6.6 -5.9 13.2 0q8.4 4.5 16.8 0q6.6 -5.9 13.2 0q8.4 4.5 16.8 0q6.6 -5.9 13.2 0q8.4 4.5 16.8 0q6.6 -5.9 13.2 0q8.4 4.5 16.8 0q6.6 -5.9 13.2 0q8.4 4.5 16.8 0"/>
<path d="M1166.4 1866.8q6.6 -5.9 13.2 0q8.4 4.5 16.8 0q6.6 -5.9 13.2 0q8.4 4.5 16.8 0q6.6 -5.9 13.2 0q8.4 4.5 16.8 0q6.6 -5.9 13.2 0q8.4 4.5 16.8 0q6.6 -5.9 13.2 0q8.4 4.5 16.8 0q6.6 -5.9 13.2 0q8.4 4.5 16.8 0q6.6 -5.9 13.2 0q8.4 4.5 16.8 0q6.6 -5.9 13.2 0q8.4 4.5 16.8 0q6.6 -5.9 13.2 0q8.4 4.5 16.8 0"/>
<path d="M1166.4 1883.9q6.6 -5.9 13.2 0q8.4 4.5 16.8 0q6.6 -5.9 13.2 0q8.4 4.5 16.8 0q6.6 -5.9 13.2 0q8.4 4.5 16.8 0q6.6 -5.9 13.2 0q8.4 4.5 16.8 0q6.6 -5.9 13.2 0q8.4 4.5 16.8 0q6.6 -5.9 13.2 0q8.4 4.5 16.8 0q6.6 -5.9 13.2 0q8.4 4.5 16.8 0q6.6 -5.9 13.2 0q8.4 4.5 16.8 0q6.6 -5.9 13.2 0q8.4 4.5 16.8 0"/>
<path d="M1166.4 1901q6.6 -5.9 13.2 0q8.4 4.5 16.8 0q6.6 -5.9 13.2 0q8.4 4.5 16.8 0q6.6 -5.9 13.2 0q8.4 4.5 16.8 0q6.6 -5.9 13.2 0q8.4 4.5 16.8 0q6.6 -5.9 13.2 0q8.4 4.5 16.8 0q6.6 -5.9 13.2 0q8.4 4.5 16.8 0q6.6 -5.9 13.2 0q8.4 4.5 16.8 0q6.6 -5.9 13.2 0q8.4 4.5 16.8 0q6.6 -5.9 13.2 0q8.4 4.5 16.8 0"/>
<path d="M1166.4 1918q6.6 -5.9 13.2 0q8.4 4.5 16.8 0q6.6 -5.9 13.2 0q8.4 4.5 16.8 0q6.6 -5.9 13.2 0q8.4 4.5 16.8 0q6.6 -5.9 13.2 0q8.4 4.5 16.8 0q6.6 -5.9 13.2 0q8.4 4.5 16.8 0q6.6 -5.9 13.2 0q8.4 4.5 16.8 0q6.6 -5.9 13.2 0q8.4 4.5 16.8 0q6.6 -5.9 13.2 0q8.4 4.5 16.8 0q6.6 -5.9 13.2 0q8.4 4.5 16.8 0"/>
</g>
<path d="M1309.4 1340.6L1306.3 1363.3L1301.2 1388.1L1296 1410.7L1289.8 1431.4L1291.9 1464.4L1286.7 1497.4L1282.6 1518L1271.3 1526.2L1271.3 1565.4L1267.1 1581.9L1259.9 1614.9L1253.7 1652L1247.5 1674.7L1246.5 1707.7L1312.5 1707.7L1314.6 1678.8L1320.8 1643.8L1325.9 1619L1333.2 1588.1L1342.4 1561.3L1345.5 1526.2L1350.7 1493.2L1345.5 1476.7L1353.8 1452L1362 1427.2L1367.2 1408.7L1364.1 1391.1L1368.2 1361.2L1369.3 1341.7L1341.4 1340.6L1337.3 1334.8L1312.5 1334.8Z" fill="#fff" stroke="none"/>
<path d="M1360.6 1293.5C1354.2 1292.3 1343.3 1293.7 1336 1295.6C1328.7 1297.5 1322.3 1300.9 1316.8 1305C1311.3 1309.1 1306.5 1314.3 1302.9 1320C1299.3 1325.7 1297.9 1332.6 1295.4 1339.4C1292.9 1346.2 1290.2 1353.7 1287.9 1360.8C1285.6 1367.9 1283.8 1374.9 1281.5 1382C1279.2 1389.1 1277.4 1396.4 1274 1403.6C1270.6 1410.8 1264.6 1417.9 1261 1425C1257.4 1432.1 1254.3 1438.9 1252.6 1446C1250.8 1453.1 1251.2 1461.7 1250.5 1467.7C1249.8 1473.7 1249.7 1476 1248.3 1482C1246.9 1488 1244 1496.3 1242 1503.4C1240 1510.5 1237.7 1515.9 1236.6 1524.8C1235.5 1533.7 1235.5 1546.3 1235.5 1557C1235.5 1567.7 1236.6 1578.3 1236.6 1589C1236.6 1599.7 1235.9 1612.1 1235.5 1621C1235.1 1629.9 1233.7 1635.3 1234.4 1642.4C1235.1 1649.5 1238.9 1656.7 1239.8 1663.8C1240.7 1670.9 1240.1 1677.9 1239.8 1685C1239.5 1692.1 1238.8 1699.3 1237.7 1706.5C1236.6 1713.7 1235 1720.9 1233.4 1728C1231.8 1735.1 1230.1 1742.2 1228 1749.3C1225.9 1756.4 1223.3 1765 1220.6 1770.7C1217.9 1776.4 1214.4 1778.8 1212 1783.5C1209.6 1788.2 1207.1 1792.9 1206 1799C1204.9 1805.1 1204.6 1813.3 1205.6 1820C1206.6 1826.7 1209.2 1833 1212 1839C1214.8 1845 1219.3 1850.7 1222.7 1856C1226.1 1861.3 1230 1864.9 1232.3 1871C1234.6 1877.1 1235.9 1885.3 1236.6 1892.4C1237.3 1899.5 1236.2 1907.4 1236.6 1913.8C1236.9 1920.2 1237.1 1927.2 1238.7 1930.9C1240.3 1934.6 1241.4 1935.2 1246.2 1936C1251 1936.8 1260.5 1936.3 1267.6 1936C1274.7 1935.7 1282.6 1935.2 1289 1934C1295.4 1932.8 1300.7 1931.1 1306 1928.8C1311.3 1926.5 1316.7 1923.6 1321 1920C1325.3 1916.4 1329.5 1912 1331.7 1907.4C1333.9 1902.8 1333.9 1898.5 1333.9 1892.4C1333.9 1886.3 1331.4 1877.4 1331.7 1871C1332 1864.6 1334.2 1859.7 1336 1854C1337.8 1848.3 1341.2 1842.1 1342.4 1836.8C1343.7 1831.5 1344.2 1826.5 1343.5 1821.9C1342.8 1817.3 1340.7 1811.8 1338 1809C1335.3 1806.2 1333.1 1805.5 1327.4 1804.8C1321.7 1804.1 1309.6 1805.9 1303.9 1804.8C1298.2 1803.7 1295.8 1801.2 1293 1798C1290.2 1794.8 1288.9 1790.1 1286.8 1785.5C1284.7 1780.9 1283.2 1774.2 1280.4 1770.5C1277.6 1766.8 1272.4 1765.8 1269.7 1763C1267 1760.2 1264.4 1756.8 1264.4 1753.4C1264.4 1750 1266 1747.4 1269.7 1742.8C1273.4 1738.2 1281.1 1731.4 1286.8 1725.7C1292.5 1720 1299.3 1713.7 1303.9 1708.6C1308.5 1703.5 1312.7 1694.4 1314.5 1695C1316.3 1695.6 1313.9 1706.2 1314.6 1712C1315.3 1717.8 1316.8 1726.5 1318.9 1730C1321 1733.5 1324.2 1733.4 1327.4 1733C1330.6 1732.6 1334.8 1730.8 1338 1727.8C1341.2 1724.8 1344.2 1720.3 1346.7 1715C1349.2 1709.7 1351 1702.7 1353 1695.9C1355 1689.2 1356.8 1681.7 1358.4 1674.5C1360 1667.3 1361.8 1660.1 1362.7 1653C1363.6 1645.9 1363.6 1638.5 1363.8 1631.7C1364 1625 1363.1 1618.5 1363.8 1612.5C1364.5 1606.5 1366.6 1601.2 1368 1595.4C1369.4 1589.7 1372 1583 1372.3 1578C1372.6 1573 1371.6 1570 1370 1565.4C1368.4 1560.8 1364.6 1555.5 1362.7 1550.5C1360.8 1545.5 1360 1540.5 1358.4 1535.5C1356.8 1530.5 1353.3 1525.5 1353 1520.5C1352.7 1515.5 1354.8 1512 1356.3 1505.6C1357.8 1499.2 1360.3 1490.4 1361.7 1482C1363.1 1473.6 1364 1463.1 1364.9 1455C1365.8 1446.9 1365.4 1440.7 1367 1433.5C1368.6 1426.3 1372.4 1418.4 1374.5 1412C1376.6 1405.6 1378.5 1400.7 1379.8 1395C1381 1389.3 1381 1384.4 1382 1378C1383 1371.6 1385.1 1363.7 1386 1356.5C1386.9 1349.3 1387.8 1341.8 1387.3 1335C1386.8 1328.2 1385.1 1321.3 1383 1316C1380.9 1310.7 1378.2 1306.8 1374.5 1303C1370.8 1299.2 1367 1294.7 1360.6 1293.5Z" stroke-width="8.8"/>
<g stroke-linecap="butt">
<path d="M303.5 1611.6L470 1612.8" stroke-width="8"/>
<path d="M320.5 1762.5L716 1768.8" stroke-width="8.6"/>
<path d="M327.5 2132.5L536 2134.5" stroke-width="9.2"/>
<path d="M1868 1523.5L1350 1517.2" stroke-width="8.6"/>
<path d="M1283 1516.5L1062 1515.3" stroke-width="8.6"/>
</g>
<g fill="#000" stroke="none">
<path d="M466.5 1602.6L500.6 1613L466.5 1623Z"/>
<path d="M713 1758.3L744.2 1769.3L713 1780.3Z"/>
<path d="M531.5 2123L565.1 2134.5L531.5 2146.2Z"/>
<path d="M1068 1503.5L1033 1514.6L1068 1526.5Z"/>
<circle cx="525.3" cy="1614.7" r="15.2"/>
<circle cx="770.2" cy="1769.2" r="14.9"/>
<circle cx="1075.3" cy="1481" r="15"/>
<circle cx="1008.8" cy="1513" r="15"/>
<circle cx="590" cy="2135.6" r="15.6"/>
</g>
<g stroke-linecap="butt" stroke-linejoin="miter">
<path d="M1425 2130V2100.4H1722V2132" stroke-width="8.6"/>
<path d="M1580.7 2100V2129.5" stroke-width="7.4"/>
</g>
<path d="M132.1 1606.6C131.3 1607.7 128.2 1610.9 127.2 1613.6C126.2 1616.3 126 1619.6 126.3 1622.6C126.6 1625.6 127.7 1629 128.9 1631.6C130 1634.1 132.6 1636.9 133.4 1638" stroke-width="4.1"/>
<path d="M160.3 1607.8C160.5 1609 161.4 1612.2 161.8 1614.9C162.3 1617.6 162.7 1620.8 163.1 1623.9C163.6 1627 164.3 1631.9 164.5 1633.5" stroke-width="5.6"/>
<path d="M228.9 1607.2C227.7 1607 224.1 1605.9 221.9 1605.9C219.6 1605.9 217.3 1606 215.4 1607.2C213.6 1608.4 211 1610.6 211 1613C211 1615.3 213.4 1617.6 215.4 1621.3C217.5 1625 221.9 1633.1 223.1 1635.4" stroke-width="5.9"/>
<path d="M239.6 1602.7C240.9 1602.9 244.8 1603.5 247.5 1603.6C250.2 1603.7 254.5 1603.2 255.8 1603.1" stroke-width="5.9"/>
<path d="M255.8 1603.1C256 1604.8 256.3 1609.9 256.7 1613.6C257.2 1617.3 257.7 1622.2 258.8 1625.2C259.9 1628.1 262.8 1630.3 263.5 1631.3" stroke-width="6.2"/>
<path d="M275.7 1601.4C276.5 1602.6 279.3 1605.9 280.2 1608.5C281.2 1611 281.5 1614 281.5 1616.8C281.5 1619.6 280.9 1622.5 280.2 1625.2C279.6 1627.8 278.1 1631.4 277.7 1632.6" stroke-width="4.9"/>
<path d="M112.1 1750.3C111.3 1751.5 108.3 1754.9 107.3 1757.6C106.3 1760.3 105.8 1763.7 106 1766.6C106.2 1769.4 107.5 1772.5 108.6 1774.9C109.7 1777.3 112.1 1780 112.8 1781.1" stroke-width="4.6"/>
<path d="M133.9 1755.7C133.9 1757.8 134.1 1764.3 134.3 1768.5C134.4 1772.7 134.8 1778.6 134.9 1780.7" stroke-width="6.7"/>
<path d="M131.3 1755.4C132.7 1755.8 137.5 1758 139.4 1758C141.3 1757.9 140.8 1755.8 142.8 1755C144.9 1754.2 150.3 1753.4 151.8 1753.1" stroke-width="5.6"/>
<path d="M165.7 1755C165.7 1757.3 165.8 1764 165.9 1768.5C166.1 1773 166.4 1779.7 166.4 1781.9" stroke-width="6.7"/>
<path d="M160.8 1753.7C162.3 1754.4 167.2 1757.9 169.5 1758C171.9 1758.1 172.5 1755.4 174.9 1754.4C177.4 1753.3 182.7 1752 184.3 1751.5" stroke-width="5.9"/>
<path d="M239.4 1755.4C238.3 1755.1 234.6 1753.6 232.4 1753.7C230.1 1753.9 227.4 1755 226 1756.3C224.5 1757.6 223.3 1759.2 223.7 1761.4C224 1763.7 226.1 1766.3 227.9 1769.8C229.7 1773.2 233.2 1780.2 234.3 1782.3" stroke-width="5.9"/>
<path d="M252.9 1750.8C254.2 1750.9 258.1 1751.3 260.6 1751.3C263.1 1751.3 266.8 1750.7 268 1750.5" stroke-width="6.2"/>
<path d="M268 1750.5C268.1 1752.7 268.2 1759.5 268.6 1763.4C268.9 1767.2 269.5 1770.9 270.2 1773.6C271 1776.3 272.3 1778.8 273.2 1779.4C274.1 1780 275.3 1777.6 275.7 1777.2" stroke-width="6.4"/>
<path d="M287.5 1749.5C288.2 1750.7 290.7 1754.3 291.6 1756.9C292.5 1759.6 293 1762.5 292.9 1765.3C292.9 1768.1 292.2 1770.9 291.4 1773.6C290.6 1776.3 288.7 1780 288.2 1781.3" stroke-width="5.1"/>
<path d="M136.6 2144.9C135.8 2146.8 132.6 2152.1 131.9 2156.1C131.2 2160.1 131.3 2165.2 132.4 2168.9C133.4 2172.6 136.3 2176.3 138.3 2178.5C140.4 2180.7 143.7 2181.5 144.8 2182.1" stroke-width="6"/>
<path d="M162.3 2151.8C162.1 2154.3 161.3 2161.9 161.4 2166.8C161.5 2171.6 162.7 2178.3 162.9 2180.6" stroke-width="9.7"/>
<path d="M197.1 2145.8C197 2148.9 196.7 2158.6 196.5 2164.6C196.3 2170.7 196.1 2179.2 196.1 2182.1" stroke-width="9.7"/>
<path d="M263.4 2144.3C261.8 2144.1 256.7 2142.5 253.8 2143.2C250.8 2143.9 246.2 2145.7 245.7 2148.6C245.1 2151.4 248.5 2156.1 250.6 2160.3C252.6 2164.6 256.8 2171.9 258.1 2174.2" stroke-width="6.5"/>
<path d="M312.6 2141.1C313.4 2142.9 316.6 2148.2 317.5 2151.8C318.4 2155.4 318.5 2159.4 317.9 2162.5C317.4 2165.5 314.7 2168.7 314.1 2170" stroke-width="4.7"/>
<path d="M282.2 2156.3m-7.6 0a7.6 8.3 0 1 0 15.2 0a7.6 8.3 0 1 0-15.2 0" stroke-width="8"/>
<path d="M1901.3 1463.3C1900.4 1464.8 1897 1469 1895.7 1472.1C1894.3 1475.1 1893.5 1478.7 1893.4 1481.7C1893.2 1484.7 1894.1 1487.6 1894.9 1490C1895.7 1492.5 1897.5 1495.4 1898 1496.4" stroke-width="4.9"/>
<path d="M1928.6 1468C1928.8 1470.1 1929.7 1476.8 1929.9 1481C1930.1 1485.3 1929.9 1491.5 1929.9 1493.6" stroke-width="6.4"/>
<path d="M1996 1474.4C1994.8 1474.1 1991.3 1472.8 1988.9 1472.7C1986.6 1472.6 1983.7 1472.8 1981.9 1474C1980 1475.2 1978.1 1477.3 1978 1480C1977.9 1482.7 1979.7 1486.2 1981.2 1490C1982.8 1493.8 1986.2 1500.7 1987.2 1502.9" stroke-width="5.4"/>
<path d="M2007.5 1468C2008.2 1470.8 2010.1 1479.3 2011.4 1484.9C2012.6 1490.5 2014.6 1498.6 2015.2 1501.3" stroke-width="7.7"/>
<path d="M2025.5 1471.8C2024.6 1474.2 2022 1481.3 2020.3 1486.2C2018.7 1491.1 2016.3 1498.8 2015.5 1501.3" stroke-width="6.7"/>
<path d="M2043.4 1473.6C2044.1 1474.8 2046.5 1478.4 2047.3 1481C2048 1483.7 2048.3 1486.6 2048 1489.4C2047.8 1492.2 2047.1 1495 2046 1497.7C2044.9 1500.4 2042.3 1504.1 2041.5 1505.4" stroke-width="4.9"/>
<path d="M1891.7 1531.3C1890.9 1532.6 1887.9 1536.1 1886.9 1538.8C1885.9 1541.4 1885.5 1544.2 1885.7 1547.1C1885.8 1550 1886.9 1553.3 1888 1556.1C1889.1 1558.9 1891.6 1562.5 1892.3 1563.8" stroke-width="4.9"/>
<path d="M1924.1 1535.9C1923.1 1535.7 1919.9 1534.3 1917.7 1534.3C1915.6 1534.3 1912.9 1534.7 1911.3 1535.9C1909.7 1537.2 1907.9 1539 1908.1 1541.6C1908.3 1544.2 1910.6 1547.8 1912.6 1551.6C1914.5 1555.4 1918.6 1562.1 1919.8 1564.2" stroke-width="5.9"/>
<path d="M1938.5 1532.1C1939.4 1534.7 1942.1 1542.5 1944 1547.7C1945.9 1553 1948.8 1560.8 1949.8 1563.4" stroke-width="6.4"/>
<path d="M1960.1 1530C1959.2 1532.8 1956.8 1540.9 1955.2 1546.5C1953.5 1552 1950.9 1560.6 1950 1563.4" stroke-width="4.6"/>
<path d="M2004.3 1532.6C2004.3 1534.9 2004.3 1542 2004.3 1546.5C2004.3 1550.9 2004.3 1557.2 2004.3 1559.3" stroke-width="5.9"/>
<path d="M1998 1531.3C1999.6 1531.6 2005 1533.5 2007.5 1533.3C2010 1533 2010.6 1530.7 2012.9 1530C2015.2 1529.4 2019.7 1529.4 2021.1 1529.3" stroke-width="5.1"/>
<path d="M2067.2 1530.8C2067.6 1531.9 2069.6 1535.3 2070.1 1537.5C2070.6 1539.7 2070.6 1541.8 2070.4 1543.9C2070.1 1546 2069.3 1548.3 2068.4 1550.3C2067.6 1552.3 2065.8 1555.1 2065.2 1556.1" stroke-width="4.6"/>
<path d="M2040.2 1544.2m-8.2 0a8.2 9.6 0 1 0 16.4 0a8.2 9.6 0 1 0-16.4 0" stroke-width="6.2"/>
<path d="M615.5 1676.5C616.5 1675.7 619.2 1671.7 621.5 1671.6C623.8 1671.6 626.7 1674.2 629.6 1675.9C632.4 1677.6 637.1 1680.8 638.6 1681.8" stroke-width="6.1"/>
<path d="M638.8 1683.2C633.5 1683.1 618 1682.9 607.1 1682.6C596.2 1682.4 584 1682 573.5 1681.8C562.9 1681.5 548.7 1681.4 543.7 1681.3" stroke-width="6.8"/>
<path d="M541.5 1675.7C541.8 1676.8 543.7 1680.3 543.4 1682.6C543.1 1685 541.4 1688 539.8 1689.9C538.2 1691.9 535.6 1693.4 533.6 1694.4C531.6 1695.5 528.7 1695.8 527.7 1696.1" stroke-width="5.6"/>
<path d="M502.2 1661.3C502.3 1663.4 502.9 1670 502.7 1673.7C502.6 1677.4 501.5 1681.9 501.3 1683.5" stroke-width="5.9"/>
<path d="M480.3 1671.2C481.2 1672.5 485.6 1676.5 485.7 1679.3C485.8 1682 483.1 1685.7 480.9 1687.7C478.7 1689.7 475 1690.4 472.4 1691.1C469.9 1691.8 466.8 1691.7 465.7 1691.9" stroke-width="5.9"/>
<path d="M805.1 1830.6C796.3 1830.6 769.1 1830.7 752.2 1830.7C735.4 1830.8 719.2 1830.9 704.1 1830.7C689 1830.6 668.7 1830.2 661.6 1830.1" stroke-width="7.6"/>
<path d="M803.2 1823.7L802.9 1831.4" stroke-width="5.1"/>
<path d="M794.2 1825.8L793.9 1831.4" stroke-width="4.4"/>
<path d="M709.7 1818.9L709.9 1829.8" stroke-width="5.7"/>
<path d="M664.1 1829.8C664.5 1828.7 665.4 1825.2 666.5 1823.4C667.5 1821.5 669.8 1819.4 670.5 1818.6" stroke-width="6.7"/>
<path d="M657.3 1835.9C657.9 1837.1 658.5 1841.5 660.5 1843.4C662.6 1845.3 666.7 1846.8 669.7 1847.1C672.7 1847.4 676.3 1845.8 678.5 1845C680.6 1844.2 682 1842.7 682.6 1842.3" stroke-width="5.1"/>
<path d="M927.3 1823.4L927 1834.6" stroke-width="6.7"/>
<path d="M927 1831.1C921.9 1831 907 1830.8 896.5 1830.7C886.1 1830.7 869.8 1830.6 864.5 1830.6" stroke-width="7.9"/>
<path d="M890.1 1817.3L890.1 1829.8" stroke-width="5.7"/>
<path d="M864.8 1829.8C864.3 1831.5 863.7 1837.4 862.1 1840.2C860.4 1843 857.2 1845.1 854.8 1846.6C852.5 1848.1 849.2 1848.9 848.1 1849.3" stroke-width="6.7"/>
<path d="M662.3 2170.2L661.7 2178.9" stroke-width="6.7"/>
<path d="M661.7 2178.6C656.3 2178.5 639.8 2178.2 629.3 2178.1C618.8 2177.9 603.9 2177.7 598.8 2177.6" stroke-width="7.3"/>
<path d="M624.5 2167.3L624.5 2177.3" stroke-width="5.1"/>
<path d="M599.1 2177.3C598.9 2178.8 598.9 2183.9 597.5 2186.3C596.1 2188.7 593.3 2190.3 590.8 2191.7C588.3 2193.1 584.1 2194.1 582.8 2194.6" stroke-width="6"/>
<path d="M539.8 2160.1L539.2 2178.6" stroke-width="6"/>
<path d="M539.2 2178.6C532 2178.5 510.4 2178.2 496.2 2178.1C482 2177.9 460.8 2177.7 453.7 2177.6" stroke-width="7.3"/>
<path d="M510.6 2177C509.4 2175.5 506.1 2170 503.4 2168.1C500.7 2166.3 497.3 2166.1 494.6 2166.1C491.9 2166.1 488.6 2167.8 487.4 2168.1" stroke-width="5.4"/>
<path d="M453.7 2177.6C452 2177.2 447.2 2175.8 443.3 2175.4C439.4 2174.9 433.6 2174.5 430.5 2175C427.3 2175.6 425 2176.9 424.4 2178.6C423.7 2180.2 424.6 2183.4 426.5 2185C428.3 2186.5 432.1 2187.9 435.3 2187.9C438.5 2187.8 444 2185.2 445.7 2184.7" stroke-width="5.7"/>
<path d="M1032.4 1459.8C1021.7 1459.8 989.2 1459.8 968.3 1459.8C947.3 1459.8 917 1459.8 906.7 1459.8" stroke-width="6.7"/>
<path d="M906.7 1459.1C907.1 1460.3 909.4 1463.6 908.8 1466C908.2 1468.3 906.3 1471.4 903.1 1473C899.9 1474.6 891.8 1475.2 889.6 1475.6" stroke-width="6.5"/>
<path d="M862.7 1442.4L863.5 1463.8" stroke-width="7"/>
<path d="M992.9 1457.6m-4.6 0a4.6 4.6 0 1 0 9.2 0a4.6 4.6 0 1 0-9.2 0" stroke-width="4.6"/>
<path d="M679.6 1542.1C678.8 1543.5 675.7 1547.7 674.8 1550.5C673.8 1553.2 673.6 1556 673.8 1558.8C673.9 1561.6 674.6 1564.6 675.7 1567.3C676.8 1570 679.5 1573.8 680.2 1575.2" stroke-width="5.7"/>
<path d="M941.5 1540.5C942.5 1541.9 946.1 1546.1 947.3 1548.9C948.5 1551.6 948.7 1554.4 948.6 1557.2C948.5 1560 948.1 1563.1 947 1565.7C945.9 1568.3 943 1571.7 942.2 1572.9" stroke-width="5.7"/>
<path d="M919.7 1544.4L919.7 1563.3" stroke-width="5.4"/>
<path d="M900.5 1542.8L900.5 1560.4" stroke-width="5.7"/>
<path d="M900.5 1560.4C887.1 1560.4 844.4 1560.4 820.3 1560.4C796.3 1560.4 774.9 1560.5 756.2 1560.4C737.5 1560.4 716.4 1560.1 708.4 1560.1" stroke-width="7.3"/>
<path d="M841.2 1540.5C839.7 1541.4 835 1544.1 832.4 1545.7C829.7 1547.2 825.8 1548.4 825.5 1549.8C825.1 1551.3 828.7 1553.1 830.3 1554.5C831.9 1555.8 834.3 1557.3 835.1 1557.8" stroke-width="5.7"/>
<path d="M783.5 1552.1L783.5 1560.1" stroke-width="5.7"/>
<path d="M749 1545.3L749 1560.1" stroke-width="5.7"/>
<path d="M720.3 1542.8C718.9 1543 712.8 1542.9 712.1 1544.1C711.4 1545.2 716.5 1548 716.1 1549.8C715.8 1551.7 711.4 1553.6 710 1555.3C708.7 1557 708.4 1559.3 708.1 1560.1" stroke-width="5.1"/>
<path d="M1187.8 1552.7C1189.5 1551.7 1194.5 1546.8 1198.2 1547C1201.9 1547.2 1208 1552.7 1210 1553.9" stroke-width="6.1"/>
<path d="M1202.3 1558.2C1193.1 1558.2 1166.6 1558.4 1146.8 1558.4C1126.9 1558.4 1093.7 1558.2 1083.1 1558.2" stroke-width="6.6"/>
<path d="M1176.6 1549.9L1176.6 1557.8" stroke-width="5"/>
<path d="M1083.1 1557.8C1083.3 1559.1 1085.1 1563.2 1084.2 1565.9C1083.4 1568.5 1080.9 1571.8 1078 1573.5C1075 1575.2 1068.4 1575.5 1066.4 1575.9" stroke-width="6.1"/>
<path d="M1055 1563.4C1054.2 1564.9 1053.1 1570.5 1050.2 1572.5C1047.2 1574.6 1039.4 1575.1 1037.3 1575.6" stroke-width="5.8"/>
<path d="M1003.6 1555C1003.1 1556.7 1000 1562.1 1000.6 1565.2C1001.1 1568.2 1003.8 1572 1007.1 1573.5C1010.4 1575 1017.3 1575.3 1020.3 1573.9C1023.3 1572.5 1024.7 1568.1 1025.2 1565.2C1025.7 1562.2 1023.7 1557.9 1023.4 1556.4" stroke-width="5.8"/>
<path d="M1636.9 2058.5C1629.3 2058.6 1606.7 2058.7 1591.6 2058.8C1576.6 2058.8 1554 2058.8 1546.4 2058.8" stroke-width="9.1"/>
<path d="M1544.7 2035.2L1545.9 2059.7" stroke-width="8.3"/>
<path d="M1545.9 2060.2C1545.5 2061.3 1545.3 2065.6 1543.5 2067C1541.7 2068.3 1537.6 2069.1 1535.1 2068.4C1532.6 2067.7 1529.8 2065 1528.6 2062.6C1527.5 2060.3 1528.2 2055.8 1528.1 2054.5" stroke-width="7.8"/>
<path d="M1435.3 2145.8C1433.1 2145.7 1426.1 2144.3 1422.1 2145.1C1418.1 2145.9 1413.1 2148.2 1411.3 2150.7C1409.4 2153.1 1409.6 2155.3 1410.8 2159.6C1412 2163.8 1417.2 2173.6 1418.5 2176.4" stroke-width="8.8"/>
<path d="M1568.8 2143.4L1570 2174.7" stroke-width="9.9"/>
<path d="M1786.4 2158.4C1778.8 2158.4 1756.7 2158.4 1740.8 2158.4C1724.8 2158.4 1699.1 2158.4 1690.7 2158.4" stroke-width="9.3"/>
<path d="M1692.7 2157.9C1692.7 2159.6 1695.3 2164.9 1692.7 2168C1690 2171.1 1679.6 2175 1677 2176.4" stroke-width="8.3"/>
<path d="M1316.2 831.1C1316.7 833.7 1318.5 841.5 1319 846.6C1319.5 851.8 1319.1 855.1 1319 862.1C1318.9 869.2 1318.7 880.2 1318.3 888.9C1318 897.6 1317.1 910 1316.9 914.2" stroke-width="7"/>
<path d="M1313.4 860.7C1316 861.3 1324.8 863.8 1328.9 864.2C1333 864.7 1336.5 863.6 1338 863.5" stroke-width="5.6"/>
<path d="M1308.5 915.6C1310 915.8 1314.9 915.5 1317.6 916.5C1320.3 917.4 1322.8 919.2 1324.6 921.3C1326.5 923.4 1328.2 927.7 1328.9 929" stroke-width="5.6"/>
<path d="M1276.8 945.9L1312.7 948" stroke-width="5.6"/>
<path d="M1276.8 964.2L1308.5 969.2" stroke-width="5.6"/>
<path d="M1310.6 972L1279.6 983.2" stroke-width="5.6"/>
<path d="M1302.1 998C1304.2 998.4 1311.4 998.2 1314.8 1000.4C1318.2 1002.7 1321.2 1009.6 1322.5 1011.4" stroke-width="5.3"/>
<path d="M1289.4 1014.2C1291.8 1014 1300.7 1011.9 1303.5 1013.1C1306.4 1014.3 1306.5 1018.5 1306.6 1021.3C1306.7 1024 1305.2 1028.3 1304.2 1029.7C1303.2 1031.2 1301.3 1030 1300.7 1030" stroke-width="5.6"/>
<path d="M1297.2 1048C1299.4 1048.1 1307.4 1046.7 1310.6 1048.3C1313.7 1050 1316 1054.6 1316.2 1057.9C1316.4 1061.1 1314.8 1065.8 1312 1067.7C1309.2 1069.7 1301.4 1069.2 1299.3 1069.4" stroke-width="5.9"/>
<path d="M658.3 482.1L697.1 497.6" stroke-width="6.5"/>
<path d="M649.5 504.3C655.6 506.7 680.4 513.5 686 518.7C691.6 523.8 685.2 529.9 683.3 535.3C681.5 540.6 678.2 547.1 674.9 550.7C671.7 554.4 667 555.1 663.9 557.4C660.7 559.7 658.7 562.3 656.1 564.5C653.5 566.7 649.6 568.8 648.4 570.7C647.2 572.5 648.7 574.7 648.8 575.5" stroke-width="5.8"/>
<path d="M663.9 559.6L660.8 578.4" stroke-width="4.8"/>
<path d="M659 590.6C658 593.9 654.9 604.1 652.8 610.5C650.7 617 647.3 626.2 646.2 629.3" stroke-width="6.2"/>
<path d="M631.8 628.2C634.2 628.8 642.7 629 646.2 631.5C649.7 634.1 652 640.4 652.8 643.7C653.6 647 651.3 650.2 651 651.5" stroke-width="6.7"/>
<path d="M585.3 650.3L625.1 665.8" stroke-width="7.7"/>
<path d="M576.4 672.9L614.1 688" stroke-width="5.8"/>
<path d="M614.1 688L613 703" stroke-width="5.8"/>
<path d="M613 703C611.7 703.2 608.4 704.7 605.2 704.4C602.1 704.1 598.6 700.7 594.1 701.3C589.7 701.8 581.2 706.8 578.7 707.9" stroke-width="5.8"/>
<path d="M578.7 707.9L574.9 683.6" stroke-width="5.8"/>
<path d="M605.9 704.6L605.9 714.5" stroke-width="3.4"/>
<path d="M596.4 717.9C597.5 718.5 602.4 719.2 603 721.6C603.6 724 601.6 729.3 600.1 732.2C598.6 735.2 595.1 738.1 594.1 739.3" stroke-width="5.8"/>
<path d="M594.1 739.3L563.2 818.6" stroke-width="5.8"/>
<path d="M547.7 816.8L560.9 817.7" stroke-width="6.2"/>
<path d="M549.2 817.7C549 820.4 546.1 829.9 547.7 834.1C549.3 838.3 555.8 839.2 558.7 842.9C561.7 846.6 564.3 854 565.4 856.2" stroke-width="7.2"/>
<path d="M1319.7 1350.9L1341.4 1354" stroke-width="6.7"/>
<path d="M1314.6 1369.5C1317 1369.8 1325.9 1369.8 1329 1371.6C1332.1 1373.3 1332.8 1375.7 1333.2 1379.8C1333.5 1383.9 1332.1 1392.5 1331.1 1396.3C1330.1 1400.1 1327.7 1401.5 1327 1402.5" stroke-width="7.2"/>
<path d="M1316.7 1398.4L1325.9 1401.5" stroke-width="5.8"/>
<path d="M1327 1402.5C1326.5 1404.9 1324.6 1412.8 1323.9 1416.9C1323.2 1421.1 1324.4 1424.7 1322.8 1427.2C1321.3 1429.8 1317 1430 1314.6 1432.4C1312.2 1434.8 1309.6 1439.3 1308.4 1441.7C1307.2 1444.1 1307.7 1446 1307.6 1446.8" stroke-width="5.8"/>
<path d="M1314.6 1433.4C1315.1 1436.5 1318.3 1447.2 1317.7 1452C1317.1 1456.8 1312 1460.6 1310.9 1462.3" stroke-width="5.4"/>
<path d="M1318.7 1456.1C1320.1 1457.5 1325.2 1461.3 1327 1464.4C1328.7 1467.5 1329.2 1472.4 1329 1474.7C1328.9 1476.9 1326.6 1477.2 1326.1 1477.8" stroke-width="6.3"/>
<path d="M1303.2 1502.5L1323.9 1506.6" stroke-width="6.1"/>
<path d="M1297.1 1520C1299.6 1520.2 1309.3 1519.7 1312.5 1521.1C1315.8 1522.4 1316.5 1524 1316.7 1528.3C1316.8 1532.6 1314.1 1543.8 1313.6 1546.9" stroke-width="6.7"/>
<path d="M1306.7 1565.4L1304.3 1580.3" stroke-width="5.4"/>
<path d="M1295 1581.9L1304.3 1582.9" stroke-width="5.8"/>
<path d="M1305.3 1584C1304.1 1589.8 1300.7 1606.7 1298.1 1619C1295.5 1631.4 1292.1 1647.6 1289.8 1658.2C1287.6 1668.9 1285.9 1677.5 1284.7 1683C1283.5 1688.5 1283.6 1688.6 1282.6 1691.2C1281.6 1693.8 1280.2 1697.9 1278.5 1698.4C1276.8 1698.9 1273.3 1695 1272.3 1694.3" stroke-width="5.8"/>
<path d="M1280.5 1670.6L1285.7 1668.5" stroke-width="5"/>
<g fill="#000" stroke="none">
<path d="M623.4 1701.2C623.6 1699.9 627.8 1697.5 629.6 1697.8C631.4 1698.1 634.2 1701.5 634.1 1702.9C633.9 1704.2 630.2 1705.9 628.5 1705.7C626.7 1705.4 623.2 1702.5 623.4 1701.2Z"/>
<path d="M1013.6 1460.6C1011.6 1458.7 1017.6 1453.2 1019.6 1451C1021.6 1448.8 1023.4 1446.3 1025.6 1447.4C1027.8 1448.4 1031.9 1454.8 1032.8 1457.4C1033.8 1460 1034.5 1462.2 1031.3 1462.8C1028.1 1463.3 1015.6 1462.6 1013.6 1460.6Z"/>
</g>
<g fill="#000" stroke="none">
<circle cx="190.2" cy="1615.5" r="4"/>
<circle cx="190.8" cy="1630.3" r="4"/>
<circle cx="200.6" cy="1762.1" r="4.4"/>
<circle cx="200.6" cy="1775.9" r="4.2"/>
<circle cx="225.6" cy="2153.9" r="3.6"/>
<circle cx="225.6" cy="2167.8" r="3.6"/>
<circle cx="168.3" cy="2150.3" r="1.7"/>
<circle cx="1956.2" cy="1479.1" r="3.8"/>
<circle cx="1955.6" cy="1494.5" r="3.7"/>
<circle cx="1977" cy="1540.7" r="4.1"/>
<circle cx="1977.4" cy="1554.8" r="4.1"/>
<circle cx="2063.3" cy="1526.2" r="1.3"/>
<circle cx="669.7" cy="1818.2" r="6.4"/>
<circle cx="701.7" cy="1840.2" r="2.6"/>
<circle cx="915.8" cy="1844.2" r="2.9"/>
<circle cx="890.9" cy="1813.4" r="3.2"/>
<circle cx="624.5" cy="2161.7" r="2.4"/>
<circle cx="650.9" cy="2189" r="2.4"/>
<circle cx="1024.3" cy="1455.9" r="7.7"/>
<circle cx="861.4" cy="1434.5" r="0.9"/>
<circle cx="864.4" cy="1556.6" r="6.7"/>
<circle cx="808.3" cy="1550.8" r="6.4"/>
<circle cx="808.3" cy="1542.1" r="2.6"/>
<circle cx="766.6" cy="1571.6" r="1.8"/>
<circle cx="773.2" cy="1571.6" r="1.8"/>
<circle cx="749" cy="1544.1" r="3.2"/>
<circle cx="1050.9" cy="1559.2" r="5.8"/>
<circle cx="1167.6" cy="1570" r="2.1"/>
<circle cx="1012.7" cy="1547.8" r="2.5"/>
<circle cx="1628.9" cy="2054.5" r="8.7"/>
<circle cx="1589.2" cy="2066.5" r="1.9"/>
<circle cx="1597.7" cy="2067.4" r="1.9"/>
<circle cx="1449.7" cy="2161.2" r="5.1"/>
<circle cx="1597.7" cy="2161.2" r="5.8"/>
<circle cx="1774.4" cy="2153.5" r="9.1"/>
<circle cx="1750.4" cy="2150.7" r="6"/>
<circle cx="1751.6" cy="2141.5" r="2.9"/>
<circle cx="1302.4" cy="831.1" r="3.5"/>
<circle cx="1270.4" cy="986.1" r="2.8"/>
<circle cx="1290.6" cy="1055.8" r="3.5"/>
<circle cx="694.9" cy="537.9" r="2.4"/>
<circle cx="615.2" cy="725.6" r="2.7"/>
<circle cx="571.4" cy="823" r="1.8"/>
<circle cx="1334.2" cy="1410.1" r="2.1"/>
<circle cx="1308.4" cy="1556.1" r="7.4"/>
<circle cx="1312.5" cy="1590.2" r="2.5"/>
<circle cx="1311.5" cy="1599.4" r="2.5"/>
<circle cx="1272.3" cy="1676.8" r="2.1"/>
<circle cx="1271.3" cy="1686.1" r="2.1"/>
</g>
</svg>
<div class="wm">St-Takla.org</div>
</body></html>
